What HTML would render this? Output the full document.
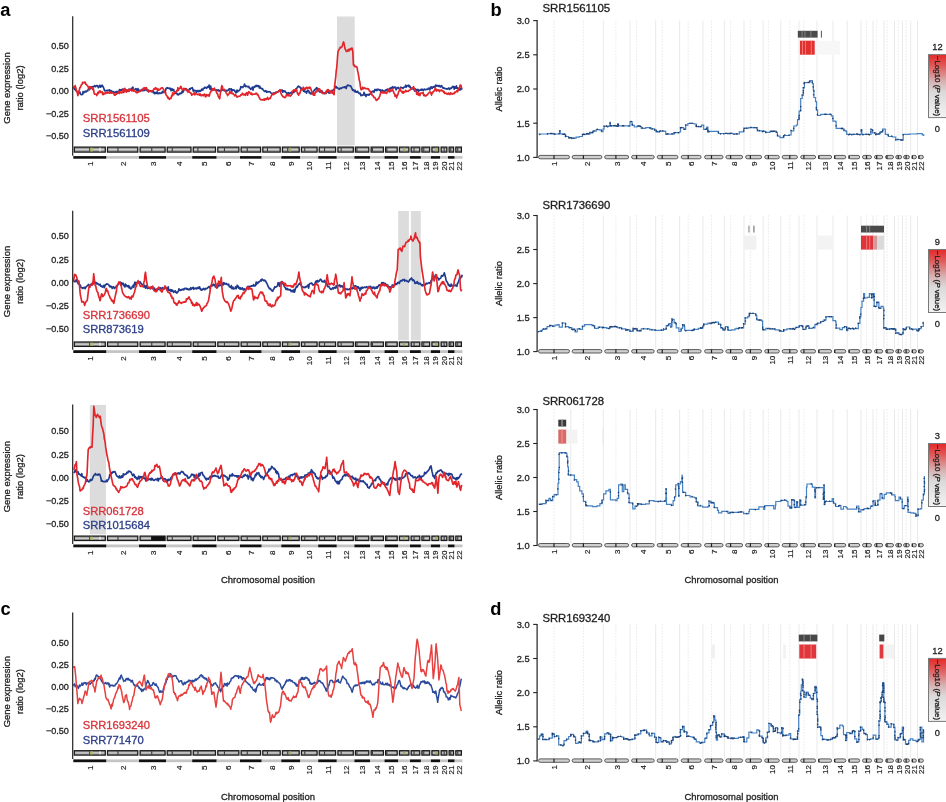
<!DOCTYPE html>
<html><head><meta charset="utf-8"><title>Figure</title><style>html,body{margin:0;padding:0;background:#fff;}body{width:946px;height:802px;overflow:hidden;}svg{display:block;font-family:"Liberation Sans",sans-serif;filter:blur(0.35px);}</style></head><body>
<svg width="946" height="802" viewBox="0 0 946 802" font-family="Liberation Sans, sans-serif">
<defs><linearGradient id="cbar" x1="0" y1="0" x2="0" y2="1"><stop offset="0" stop-color="#e42828"/><stop offset="0.18" stop-color="#e05a5a"/><stop offset="0.42" stop-color="#d7b0b0"/><stop offset="0.6" stop-color="#dadada"/><stop offset="1" stop-color="#f3f3f3"/></linearGradient></defs>
<rect width="946" height="802" fill="#fff"/>
<rect x="337" y="16.5" width="17.7" height="128.9" fill="#dcdcdc"/>
<text x="68.9" y="49.4" text-anchor="end" font-size="9.1" fill="#1f1f1f" stroke="#1f1f1f" stroke-width="0.3">0.50</text>
<text x="68.9" y="71.9" text-anchor="end" font-size="9.1" fill="#1f1f1f" stroke="#1f1f1f" stroke-width="0.3">0.25</text>
<text x="68.9" y="94.4" text-anchor="end" font-size="9.1" fill="#1f1f1f" stroke="#1f1f1f" stroke-width="0.3">0.00</text>
<text x="68.9" y="116.9" text-anchor="end" font-size="9.1" fill="#1f1f1f" stroke="#1f1f1f" stroke-width="0.3">−0.25</text>
<text x="68.9" y="139.4" text-anchor="end" font-size="9.1" fill="#1f1f1f" stroke="#1f1f1f" stroke-width="0.3">−0.50</text>
<text transform="translate(10.1,88) rotate(-90)" text-anchor="middle" font-size="9.45" fill="#1f1f1f" stroke="#1f1f1f" stroke-width="0.3">Gene expression</text>
<text transform="translate(22.6,88) rotate(-90)" text-anchor="middle" font-size="9.45" fill="#1f1f1f" stroke="#1f1f1f" stroke-width="0.3">ratio (log2)</text>
<path d="M73.6,87.7 74.1,88.2 74.6,89.3 75.2,88 75.7,90.1 76.2,90.9 76.7,91.6 77.3,91.9 77.8,92.5 78.4,92.9 78.9,93 79.4,92.7 79.9,92 80.5,94.2 81,94.5 81.5,94.6 82,94.5 82.6,94.5 83.1,91.5 83.7,92.8 84.2,92.4 84.7,92.3 85.2,91.2 85.8,91.7 86.3,91.8 86.8,90.9 87.3,90.9 87.8,90.8 88.3,89.1 88.9,88.3 89.4,87.7 89.9,86.7 90.5,88.7 91,88 91.5,87.5 92,86.6 92.6,87.3 93.1,86.6 93.6,86.5 94.2,86.1 94.7,85.6 95.2,86.7 95.8,86.4 96.3,85.8 96.8,85.6 97.4,85.5 97.9,86.6 98.4,87.8 99,86 99.5,86.5 100,85.2 100.6,87.2 101.1,85.8 101.6,86.5 102.2,85.2 102.7,86.1 103.2,87 103.8,88.2 104.3,90 104.8,90.9 105.3,90.7 105.8,90.6 106.3,90.5 106.9,90.9 107.4,90.3 107.9,90.3 108.4,90.7 109,90 109.5,89.8 110.1,91.8 110.6,90.7 111.1,90.5 111.7,91.7 112.2,91.4 112.7,92.3 113.2,91.7 113.8,92.7 114.3,92.7 114.8,92.2 115.4,92.4 115.9,91.7 116.4,93 116.9,91.4 117.5,92.8 118,92.3 118.5,91.3 119,91.3 119.5,89.6 120.1,90.3 120.6,89.8 121.1,90.4 121.7,89.6 122.2,89.8 122.7,89.2 123.3,90.3 123.8,89.8 124.3,89.3 124.9,90.3 125.4,91.2 125.9,89.7 126.5,90 127,90.9 127.5,90.8 128.1,91.2 128.6,89.3 129.1,90.2 129.6,89.6 130.2,89.9 130.7,90 131.2,88.4 131.7,89.5 132.2,89.2 132.8,87 133.3,88.7 133.8,91 134.4,89.8 134.9,89.6 135.4,89.3 135.9,88.6 136.4,88.9 137,90.7 137.5,89.8 138,88.6 138.6,90.9 139.1,90.3 139.7,90.3 140.2,90.9 140.7,91.2 141.3,89.7 141.8,90.3 142.3,89.3 142.9,90.8 143.4,89.8 143.9,90.2 144.4,90.5 144.9,89.5 145.5,89.6 146,89.8 146.5,90.5 147.1,89.7 147.6,90.8 148.1,90 148.6,91.6 149.1,90.5 149.7,90.8 150.2,90.9 150.7,90.8 151.3,91.6 151.8,91.8 152.3,90.8 152.8,91 153.4,92.6 153.9,91.9 154.4,93.6 155,92.9 155.5,93.5 156,92.4 156.6,93.3 157.1,91.8 157.6,93.5 158.2,93.7 158.7,93 159.2,93.3 159.7,92.8 160.3,93.5 160.8,93 161.3,93.1 161.9,93.1 162.4,91.3 162.9,92.4 163.5,92.2 164,92.4 164.5,91.7 165.1,91.9 165.6,90.5 166.1,88.2 166.7,88.1 167.2,87.6 167.8,88.1 168.3,88.2 168.9,88.1 169.4,88.8 170,88.2 170.5,88.6 171.1,90.7 171.6,90 172.1,88.7 172.7,90.3 173.2,90.3 173.7,89.5 174.2,91.9 174.8,92.5 175.3,93.3 175.8,92.7 176.3,93 176.8,93.3 177.4,94.7 177.9,94.2 178.4,94.8 179,94.5 179.5,94 180,93.2 180.6,93.6 181.1,93.2 181.6,93.3 182.2,90.9 182.7,92.4 183.2,91.7 183.8,90.1 184.3,89.5 184.8,88.7 185.3,88.8 185.9,88.5 186.4,89.1 186.9,89.6 187.5,91 188,90.3 188.5,90.7 189,89.9 189.6,88.7 190.1,89.5 190.6,88.5 191.1,88.2 191.6,88.2 192.2,87.6 192.7,88.6 193.2,91.1 193.8,90.2 194.3,90.9 194.8,90.4 195.4,90.5 195.9,91 196.4,92.6 197,90.5 197.5,90.9 198,91.4 198.6,91.7 199.1,90.4 199.6,91.4 200.2,91.4 200.7,90.3 201.2,90.6 201.7,89.2 202.2,89.6 202.8,90.1 203.3,88.2 203.8,88.2 204.3,88.3 204.9,87.2 205.4,87.4 205.9,87.9 206.5,88.3 207,87.7 207.5,86.7 208,87.3 208.6,86.7 209.1,85.1 209.6,87.2 210.1,89.4 210.7,86 211.2,89.3 211.8,89.2 212.3,89.8 212.8,89.9 213.4,89.1 213.9,90 214.4,90 214.9,89.6 215.4,90.1 216,89.8 216.5,90.3 217,89.8 217.6,90.5 218.1,90.7 218.6,89.8 219.2,91.1 219.7,90.9 220.2,91.2 220.8,90.7 221.3,90.6 221.8,90.1 222.3,89.6 222.8,89.7 223.4,90.3 223.9,90.3 224.4,90.7 225,90.2 225.5,91.3 226,90.8 226.6,90.3 227.1,90.9 227.6,90.5 228.1,90 228.7,90.1 229.2,88.7 229.7,89.2 230.3,89 230.8,90 231.3,88.8 231.9,91.3 232.4,89.8 232.9,90.1 233.4,90.2 233.9,89.9 234.5,90.6 235,91.6 235.5,91.4 236,93 236.6,91.1 237.1,90.1 237.6,91.9 238.2,91 238.7,90.9 239.2,90.3 239.8,89.8 240.3,89.1 240.8,86.6 241.3,86.7 241.9,87.4 242.4,87.1 242.9,87.5 243.5,86.2 244,86.1 244.5,84 245.1,85.8 245.6,86.6 246.1,86 246.7,86 247.2,86.6 247.7,86.8 248.2,87 248.8,86.4 249.3,88 249.8,87.8 250.3,88.7 250.8,89.5 251.4,88.3 251.9,88.5 252.4,87.1 253,90.1 253.5,87.6 254.1,86.9 254.6,87.2 255.1,86.1 255.6,86.7 256.1,85.3 256.7,85.9 257.2,86.4 257.7,85.6 258.2,85.6 258.8,86 259.3,88 259.8,86.3 260.4,88.3 260.9,88.2 261.4,88.3 261.9,89 262.5,88.7 263,89.7 263.5,90.3 264.1,91 264.6,91.5 265.1,91.4 265.7,90.6 266.3,91.3 266.8,92.3 267.4,91.5 268,91.9 268.5,91.7 269.1,91.6 269.6,91.7 270.1,91.8 270.6,92.8 271.1,93 271.7,93.2 272.2,93.5 272.7,94.3 273.3,93 273.8,93.1 274.4,93.4 274.9,92.8 275.4,92.8 276,92.1 276.5,92.4 277,92.4 277.6,91.9 278.1,91.8 278.6,91.2 279.1,90.7 279.6,90.4 280.2,90.5 280.7,90.3 281.2,90.6 281.8,90 282.3,90.1 282.8,92.2 283.3,90.8 283.8,91.4 284.4,91.2 284.9,90.9 285.4,92.1 285.9,92.3 286.5,93 287,93.5 287.5,94.5 288.1,92.6 288.6,93.8 289.1,93 289.7,93.2 290.2,93 290.8,92.6 291.3,93 291.8,94.3 292.3,91.3 292.9,92.9 293.4,91.1 293.9,92.4 294.4,91.4 294.9,91.6 295.5,90.6 296,88.9 296.5,88.9 297.1,87.8 297.6,87.1 298.2,86.2 298.7,86.1 299.2,87 299.7,86.9 300.2,87.4 300.8,88.8 301.3,89.3 301.8,88.2 302.3,88.7 302.9,88.6 303.4,91.2 303.9,91.2 304.5,90.2 305,91.9 305.5,92 306.1,91.7 306.6,93.1 307.1,91.4 307.7,90.2 308.2,90.9 308.7,90.7 309.2,92.8 309.8,92.5 310.3,93.7 310.8,93.2 311.3,94 311.8,93.4 312.4,92.8 312.9,92.6 313.4,91.4 314,90.8 314.5,89.8 315,89.4 315.6,89.6 316.1,88.3 316.6,87.7 317.1,88 317.6,89.3 318.2,90.6 318.7,90.9 319.2,91.2 319.8,92 320.3,92.1 320.9,92.1 321.4,92 321.9,90.7 322.5,93.3 323,93 323.5,93 324.1,93.6 324.6,92.9 325.1,93.2 325.6,92.7 326.1,93.6 326.7,91.1 327.2,91.9 327.7,92.1 328.2,92.1 328.8,92.9 329.3,91.3 329.8,93.1 330.3,91.3 330.9,92 331.4,91.4 331.9,91.3 332.5,90.8 333,90.3 333.5,89.5 334.1,89.7 334.6,88.7 335.1,87 335.7,86.4 336.2,86.6 336.8,87.9 337.4,87.7 337.9,88.2 338.4,88.6 339,89 339.5,89.1 340,88 340.5,88.5 341,88.3 341.6,88.3 342.1,87.7 342.6,87.3 343.1,87.5 343.6,87.3 344.1,87.5 344.6,86.9 345.1,87.4 345.7,86.7 346.2,88.5 346.7,86.4 347.2,85.9 347.7,85 348.2,85.5 348.8,85.4 349.3,85.8 349.8,85.7 350.3,85.7 350.9,86.3 351.4,87.7 352,88.7 352.6,90.3 353.1,89.6 353.7,90.7 354.2,90.4 354.7,91.7 355.2,90.3 355.7,91.5 356.2,92.3 356.7,91.9 357.2,92.1 357.7,91.3 358.2,92.4 358.8,93.2 359.3,93.6 359.9,93.2 360.4,93.5 360.9,95.6 361.5,95.2 362,95.5 362.5,95.3 363,95.1 363.5,94.9 364,92.3 364.5,94.1 365,95.2 365.5,94.7 366,96.5 366.5,94.6 367,95 367.5,95 368.1,94.4 368.6,95 369.1,95.2 369.7,94.2 370.2,93.5 370.7,93.7 371.3,92.6 371.8,91.6 372.4,91.6 372.9,91.1 373.4,91.2 374,92.4 374.5,90.3 375,89.4 375.6,90.3 376.1,89.9 376.6,90.6 377.1,89.2 377.6,90 378.2,89.3 378.7,89.3 379.2,89.8 379.8,90.4 380.3,89.9 380.8,91.7 381.3,90.3 381.8,90.8 382.4,90 382.9,91.4 383.4,90.8 383.9,91.9 384.5,92.3 385,90.7 385.5,90 386.1,90.4 386.6,89.6 387.1,90.3 387.6,89.1 388.2,89.5 388.7,89.6 389.2,89.1 389.8,91.9 390.3,87.9 390.9,88 391.4,88.2 391.9,88.1 392.4,86.7 393,87.7 393.5,88.1 394,87 394.6,87 395.1,87.6 395.6,87.2 396.1,89.8 396.7,88.8 397.2,87.8 397.7,87.9 398.2,87.4 398.8,88.3 399.3,88.7 399.8,88.7 400.3,88.1 400.9,87.1 401.4,87.5 402,87.7 402.5,87.7 403,88.5 403.6,87.5 404.1,87.2 404.6,87 405.2,86.9 405.7,85.2 406.2,87.1 406.7,86.1 407.2,85.7 407.8,85.5 408.3,86.1 408.8,85.2 409.4,87 409.9,86.1 410.4,87.8 410.9,87.9 411.4,88.9 412,88.5 412.5,88.7 413,89 413.6,87.7 414.1,89.6 414.6,91 415.1,89.8 415.6,88.9 416.2,89.9 416.7,90.3 417.2,90 417.8,89.4 418.3,91.5 418.9,90.1 419.4,90.6 419.9,90.1 420.5,90.2 421,89.3 421.5,90.2 422.1,89.2 422.6,89.9 423.1,90.6 423.6,89.9 424.1,89.1 424.7,89.3 425.2,89.8 425.7,89.7 426.2,89.4 426.8,89.2 427.3,89.3 427.8,89.5 428.3,88.2 428.9,88.3 429.4,88.7 429.9,89.9 430.5,87 431,88 431.5,86.9 432.1,88.4 432.6,87 433.2,87.3 433.7,86.6 434.2,87.2 434.8,86.9 435.3,85.8 435.8,85 436.3,85.4 436.8,86.2 437.4,85.8 437.9,85.6 438.4,85.6 438.9,86.5 439.5,85.5 440,86.2 440.5,87 441.1,86.4 441.6,85.5 442.1,86.6 442.6,87.6 443.2,88.2 443.7,87.7 444.2,88.3 444.7,88.4 445.2,88.7 445.8,88.6 446.3,88.7 446.8,89.2 447.4,88.8 447.9,88.8 448.5,88.1 449,88.3 449.5,89.4 450.1,88.1 450.6,88.2 451.1,88.5 451.6,88.1 452.1,87.3 452.7,86.4 453.2,87.2 453.7,86.6 454.2,89.2 454.8,86.7 455.3,87.6 455.8,88.2 456.4,85.9 456.9,88.2 457.4,87.6 458,89 458.5,89 459,90.2 459.5,88.9 460.1,88.3 460.6,89.8 461.1,88.7 461.7,88.9 462.2,88.2" fill="none" stroke="#1f3a8e" stroke-width="1.65" stroke-linejoin="round"/>
<path d="M73.6,88.7 74.1,86.7 74.7,87.2 75.2,85.6 75.7,87.4 76.3,89.8 76.8,90.9 77.3,92.4 77.8,95.6 78.3,94.2 78.9,91.1 79.4,89.8 79.9,87.5 80.5,87.3 81,85.8 81.5,84.5 82,84.5 82.6,82.3 83.1,82.8 83.6,82.9 84.2,82.1 84.7,82.6 85.2,82.2 85.7,84.2 86.3,84.3 86.8,85 87.3,85.6 87.8,86 88.4,87.5 88.9,87.7 89.4,89.9 90,86.9 90.5,86.9 91.1,87.3 91.6,87.5 92.1,88.2 92.6,89.3 93.1,87.7 93.7,90.5 94.2,93.5 94.7,94.1 95.2,94.2 95.8,94.1 96.3,94.4 96.8,95.6 97.3,93.9 97.9,92.4 98.5,93.6 99,91.4 99.5,91.6 100,90.8 100.6,92.4 101.1,92.4 101.6,92.2 102.2,91.8 102.7,94.5 103.2,94.6 103.7,93 104.2,93.4 104.8,94 105.3,93.1 105.8,92.4 106.3,92.3 106.9,93.3 107.4,93.1 107.9,92.2 108.5,92.8 109,93 109.5,93.1 110.1,93.2 110.6,91.9 111.1,92.4 111.7,93.1 112.2,93 112.7,92.9 113.2,92.9 113.8,93.4 114.3,95.1 114.8,94.3 115.3,95.1 115.8,94.2 116.4,94.2 116.9,93.6 117.4,93 118,93.2 118.5,92.4 119,91.8 119.6,93.4 120.1,92.1 120.6,91.9 121.2,92.3 121.7,93 122.2,92.3 122.7,91.4 123.3,89.1 123.8,92.6 124.3,90.9 124.8,88.4 125.4,91.5 125.9,89.7 126.4,92.2 126.9,90.6 127.5,90.3 128,90.3 128.5,89.6 129.1,91.4 129.6,89.2 130.1,90.1 130.7,89.6 131.2,90.3 131.7,90.8 132.3,90.8 132.8,90 133.3,88.9 133.9,90.7 134.4,90.9 134.9,90.8 135.4,91.7 135.9,92.3 136.5,91.8 137,92.9 137.5,91.9 138,92 138.6,92.1 139.1,91.4 139.7,91.4 140.2,91.4 140.7,90.5 141.3,90.2 141.8,89.8 142.3,89.9 142.8,90 143.4,88 143.9,89.3 144.4,88 144.9,87.7 145.4,88.8 146,87.9 146.5,87.7 147,89.9 147.6,89.7 148.1,90.9 148.6,91.8 149.2,91.3 149.7,90.7 150.2,90.6 150.7,91.5 151.2,91.3 151.8,90.8 152.3,90.9 152.8,90.4 153.4,90.1 153.9,88.9 154.4,88.6 155,89.1 155.5,87.7 156,88.7 156.6,88.3 157.1,89.7 157.6,90.3 158.2,88.9 158.7,90.3 159.2,89.9 159.7,89.6 160.3,89.1 160.8,88.3 161.3,88.2 161.8,87.8 162.4,87.7 162.9,88.5 163.5,89.2 164,90.3 164.5,92.5 165.1,92.6 165.6,92.4 166.1,95.1 166.6,95.5 167.1,96.1 167.7,97.9 168.2,97.2 168.8,98.7 169.3,99.3 170,98.8 170.5,98 171.1,98.4 171.6,95.7 172.1,96.1 172.6,92.9 173.1,94.5 173.7,94.8 174.2,93.5 174.7,92.7 175.3,91.8 175.8,92.2 176.3,91.8 176.9,90.3 177.4,90.9 177.9,87.7 178.4,90.4 179,88.6 179.5,88.7 180,88.4 180.6,86.4 181.1,86.6 181.6,88.4 182.2,89.2 182.7,89.8 183.2,89.8 183.8,88.3 184.3,89.5 184.8,89.1 185.4,89.8 185.9,89.8 186.4,89 186.9,90.9 187.4,89.8 188,92.3 188.5,90.7 189,91.9 189.5,92 190.1,92.6 190.6,93.1 191.1,93.1 191.7,95.2 192.2,94.6 192.7,94.5 193.2,93.7 193.8,93.5 194.3,92.6 194.8,94.9 195.3,93.3 195.9,93.7 196.4,94 196.9,94.1 197.5,94.7 198,94.3 198.6,94.6 199.1,94 199.6,95.2 200.2,93.9 200.7,95.6 201.2,95.9 201.8,94.8 202.3,94.8 202.8,95.1 203.3,95.8 203.8,94.5 204.4,94.1 204.9,94.6 205.4,96.8 205.9,96.7 206.5,94.6 207,95.7 207.5,95.5 208.1,94.6 208.6,95.9 209.1,96.1 209.6,94.9 210.1,92.9 210.7,91.8 211.2,90.9 211.7,90 212.2,90.6 212.8,88.6 213.3,89.3 213.9,89.9 214.4,88.1 214.9,90 215.5,89.8 216,91.2 216.5,92.1 217.1,93.6 217.6,93.7 218.1,96.1 218.6,96.9 219.2,98 219.7,98.8 220.2,94.6 220.7,90.9 221.2,88.7 221.8,85.6 222.4,86.6 222.9,88.7 223.4,90 223.9,90 224.5,89.4 225,90.3 225.5,91.4 226,92.6 226.6,93.7 227.1,94.1 227.6,95.6 228.1,94.5 228.7,94.2 229.2,93.7 229.8,91.2 230.3,91.9 230.8,93.1 231.3,93.4 231.9,92.9 232.4,93.8 232.9,93.3 233.4,94 233.9,94.5 234.5,95.3 235,95.8 235.5,94.7 236.1,95.7 236.6,96.1 237.1,97.2 237.7,96.7 238.2,96.4 238.7,96.4 239.3,96.2 239.8,96.1 240.3,96 240.8,94.9 241.4,95.1 241.9,94.4 242.4,93.2 242.9,94 243.4,94.9 244,94.3 244.5,94.9 245,94.1 245.6,95.3 246.1,93.5 246.6,92.7 247.2,93 247.7,95.2 248.2,92.8 248.8,91.7 249.3,91.9 249.8,92.9 250.4,93.1 250.9,94.2 251.4,93.1 252,94.6 252.5,94.6 253,94.1 253.6,94.2 254.1,94.2 254.6,94.1 255.1,94.2 255.6,93.5 256.2,93.1 256.7,93.5 257.2,94.8 257.8,94.3 258.3,95.3 258.8,96.9 259.3,97.3 259.8,99 260.4,99.3 260.9,99.8 261.4,99.9 261.9,99.6 262.5,99.9 263,99.9 263.5,100.1 264.1,98.9 264.6,100.2 265.1,98.8 265.7,98.8 266.3,99.4 266.8,99.3 267.4,97.4 268,98.8 268.5,99.3 269,98.6 269.6,98.1 270.1,98.6 270.6,97.7 271.1,96.2 271.7,95.2 272.2,94 272.7,94.3 273.3,93.9 273.8,94.6 274.3,93.3 274.9,93.7 275.4,93.5 275.9,93.1 276.4,92.6 277,92.1 277.5,91.9 278,91.9 278.6,91 279.1,91.4 279.6,90.2 280.2,89.8 280.7,92.2 281.2,93.9 281.7,95.1 282.2,95.4 282.8,96.7 283.3,96.6 283.8,97.1 284.4,97.1 284.9,97.7 285.4,97.4 285.9,96.6 286.5,94.6 287,94.6 287.5,95.1 288.1,95.9 288.6,94.5 289.1,94.7 289.6,95.5 290.2,96.2 290.7,95.6 291.2,95.2 291.8,93.5 292.3,91.7 292.9,91.1 293.4,90.3 293.9,89.8 294.4,91 295,90.2 295.5,89 296,89.3 296.5,89.5 297.1,92 297.6,93.8 298.2,93.7 298.7,95.1 299.2,93.3 299.8,93.5 300.3,91.8 300.8,90.3 301.3,89.3 301.8,89.8 302.4,88.8 302.9,89.5 303.4,87.2 303.9,88.7 304.4,89.5 305,88.3 305.5,89.1 306,87.7 306.6,87.3 307.1,88.2 307.6,88.4 308.2,87.4 308.7,87.7 309.2,88.3 309.8,87.2 310.3,87.7 310.8,88.8 311.4,90.5 311.9,92.7 312.4,93.4 313,94.7 313.5,95.1 314,93 314.6,95.2 315.1,93 315.6,92.4 316.1,91.4 316.6,92 317.1,90.4 317.7,90.8 318.2,89.6 318.7,88.7 319.2,89.3 319.8,89 320.3,90.5 320.8,91.4 321.4,92.4 321.9,92.4 322.4,93.3 323,92.2 323.5,93.5 324,93.5 324.6,93.2 325.1,93.5 325.6,93.1 326.1,91.2 326.7,92.6 327.2,90 327.7,89.8 328.2,89.6 328.8,91.2 329.3,90.6 329.9,92.2 330.4,91.9 330.9,92.8 331.4,90.4 332,92.8 332.5,91.7 333,93.5 333.6,94.1 334.1,94.6 334.6,86.2 335.2,81.3 335.7,77.5 336.2,71.2 336.8,67 337.4,58.9 338,51.4 338.6,50.4 339.1,49.4 339.7,48.6 340.2,47.2 340.8,47.7 341.3,47.5 341.9,46.9 342.5,45.3 343,43.4 343.6,41.9 344.1,43.8 344.7,46.9 345.2,49.2 345.8,50 346.3,51.4 346.9,51.4 347.5,51.3 348,49.9 348.6,49.3 349.1,51 349.7,49.7 350.3,48.6 350.9,49.6 351.4,48.2 352,48 352.8,51.4 353.4,64.9 353.9,64.5 354.4,66.4 354.9,66.7 355.4,66.6 355.9,66.2 356.5,67.2 357,67.1 357.6,70.7 358.1,72.9 358.7,76.1 359.3,80.3 359.9,82.3 360.4,86.7 361,89.6 361.6,89.6 362.1,88.5 362.6,87.2 363.2,88.9 363.8,88.1 364.3,87.9 364.8,87.7 365.3,88.6 365.8,88.7 366.3,88.6 366.8,88.9 367.3,88.9 367.8,88.5 368.3,88.7 368.9,89.6 369.4,91 369.9,90.9 370.5,91.8 371.1,94.1 371.7,93.5 372.2,95.3 372.8,95.8 373.4,96.1 373.9,97.4 374.5,97.6 375,97.6 375.5,98.7 376.1,100.3 376.6,100.4 377.1,100.3 377.6,99.1 378.2,98.6 378.7,98.8 379.2,97 379.8,96.1 380.3,94.2 380.8,92.4 381.3,92.4 381.9,92.1 382.4,92.9 382.9,91.5 383.5,92.9 384,93 384.5,93 385,92.2 385.6,93 386.1,92.3 386.6,93.4 387.1,91.9 387.6,91.7 388.2,91.5 388.7,89.3 389.2,90.3 389.8,90.8 390.3,89.8 390.8,90.9 391.4,91 391.9,90.2 392.5,89.2 393,90.9 393.5,91.7 394,93.3 394.6,93.9 395.1,96.2 395.6,96.1 396.1,95.1 396.6,97.8 397.2,95.2 397.7,95.1 398.2,93.5 398.8,91.6 399.3,90.3 399.8,88.7 400.3,88.3 400.9,91.1 401.4,91.1 402,92.1 402.5,93 403,91.3 403.5,93.1 404.1,92 404.6,91.5 405.1,91.8 405.6,90.3 406.1,91.1 406.7,91.7 407.2,91.3 407.8,91.1 408.3,91.4 408.8,90.7 409.4,90.2 409.9,90.2 410.4,89.7 411,89 411.5,88.7 412,87.8 412.6,87.7 413.1,88.1 413.6,86.6 414.1,88.7 414.6,88.6 415.2,90.6 415.7,91.4 416.2,91.3 416.8,94.4 417.3,92.8 417.8,92.5 418.4,95.1 418.9,94 419.4,93.3 419.9,95.6 420.4,93.5 421,93.1 421.5,92.9 422,93 422.5,93.3 423.1,92.4 423.6,95.1 424.1,95.7 424.6,94.8 425.2,95.8 425.7,96.1 426.2,95.7 426.8,94.9 427.3,94.9 427.8,94.3 428.3,93.3 428.9,92.9 429.4,92.4 429.9,91.9 430.5,92.3 431,93.3 431.5,95.1 432.1,92.5 432.6,93 433.1,91.5 433.7,91.6 434.2,90.6 434.7,90 435.3,87.8 435.8,88.7 436.3,91.1 436.8,90.4 437.4,89.9 437.9,90.4 438.4,90 438.9,89.8 439.4,91.6 440,90.3 440.5,90.3 441,90.6 441.6,90 442.1,90.9 442.6,91 443.2,90.9 443.7,92.4 444.2,91.7 444.7,93.4 445.2,93.1 445.8,93 446.3,94 446.8,93.4 447.4,94.1 447.9,94.3 448.4,93.1 449,93.8 449.5,93.5 450,94.6 450.6,92.8 451.1,93.1 451.6,93.5 452.1,94.2 452.6,93.9 453.2,93.4 453.7,93.5 454.2,93.7 454.8,92 455.3,92.4 455.9,91.7 456.4,91.5 456.9,90.5 457.5,91.8 458,90.9 458.5,88.9 459,87.8 459.6,87.3 460.1,85 460.6,85 461.1,85.7 461.7,88.7" fill="none" stroke="#e2252b" stroke-width="1.65" stroke-linejoin="round"/>
<text x="82.7" y="122.3" font-size="10.6" fill="#d8343c" textLength="67.2" lengthAdjust="spacingAndGlyphs" stroke="#d8343c" stroke-width="0.3">SRR1561105</text>
<text x="82.7" y="137.1" font-size="10.6" fill="#2d3f89" textLength="67.2" lengthAdjust="spacingAndGlyphs" stroke="#2d3f89" stroke-width="0.3">SRR1561109</text>
<rect x="74.3" y="147.1" width="31" height="5" fill="#9c9c9c" stroke="#1a1a1a" stroke-width="1.25"/>
<rect x="75.3" y="149" width="29" height="1.2" fill="#d2d2d2"/>
<rect x="89.2" y="147.6" width="1.1" height="4" fill="#3a3a3a"/>
<rect x="90.3" y="147.8" width="2.6" height="3.6" fill="#b5bd6a"/>
<rect x="99.3" y="147.8" width="1.4" height="3.6" fill="#e8e8e8"/>
<rect x="73.3" y="156.1" width="33.2" height="2.6" fill="#111111"/>
<text transform="translate(92.9,161.5) rotate(-90) scale(1.13,1)" text-anchor="end" font-size="7.1" fill="#1f1f1f" stroke="#000" stroke-width="0.15">1</text>
<rect x="107.5" y="147.1" width="30.3" height="5" fill="#9c9c9c" stroke="#1a1a1a" stroke-width="1.25"/>
<rect x="108.5" y="149" width="28.3" height="1.2" fill="#d2d2d2"/>
<rect x="117.4" y="147.6" width="1.1" height="4" fill="#3a3a3a"/>
<rect x="106.5" y="156.1" width="32.5" height="2.6" fill="#c4c4c4"/>
<text transform="translate(125.8,161.5) rotate(-90) scale(1.13,1)" text-anchor="end" font-size="7.1" fill="#1f1f1f" stroke="#000" stroke-width="0.15">2</text>
<rect x="140.1" y="147.1" width="25" height="5" fill="#9c9c9c" stroke="#1a1a1a" stroke-width="1.25"/>
<rect x="141.1" y="149" width="23" height="1.2" fill="#d2d2d2"/>
<rect x="151.2" y="147.6" width="1.1" height="4" fill="#3a3a3a"/>
<rect x="139" y="156.1" width="27.2" height="2.6" fill="#111111"/>
<text transform="translate(155.6,161.5) rotate(-90) scale(1.13,1)" text-anchor="end" font-size="7.1" fill="#1f1f1f" stroke="#000" stroke-width="0.15">3</text>
<rect x="167.2" y="147.1" width="23.8" height="5" fill="#9c9c9c" stroke="#1a1a1a" stroke-width="1.25"/>
<rect x="168.2" y="149" width="21.8" height="1.2" fill="#d2d2d2"/>
<rect x="171.7" y="147.6" width="1.1" height="4" fill="#3a3a3a"/>
<rect x="166.2" y="156.1" width="26" height="2.6" fill="#c4c4c4"/>
<text transform="translate(182.2,161.5) rotate(-90) scale(1.13,1)" text-anchor="end" font-size="7.1" fill="#1f1f1f" stroke="#000" stroke-width="0.15">4</text>
<rect x="193.2" y="147.1" width="22.3" height="5" fill="#9c9c9c" stroke="#1a1a1a" stroke-width="1.25"/>
<rect x="194.2" y="149" width="20.3" height="1.2" fill="#d2d2d2"/>
<rect x="197.4" y="147.6" width="1.1" height="4" fill="#3a3a3a"/>
<rect x="192.2" y="156.1" width="24.5" height="2.6" fill="#111111"/>
<text transform="translate(207.4,161.5) rotate(-90) scale(1.13,1)" text-anchor="end" font-size="7.1" fill="#1f1f1f" stroke="#000" stroke-width="0.15">5</text>
<rect x="217.8" y="147.1" width="21.1" height="5" fill="#9c9c9c" stroke="#1a1a1a" stroke-width="1.25"/>
<rect x="218.8" y="149" width="19.1" height="1.2" fill="#d2d2d2"/>
<rect x="223.9" y="147.6" width="1.1" height="4" fill="#3a3a3a"/>
<rect x="216.7" y="156.1" width="23.3" height="2.6" fill="#c4c4c4"/>
<text transform="translate(231.3,161.5) rotate(-90) scale(1.13,1)" text-anchor="end" font-size="7.1" fill="#1f1f1f" stroke="#000" stroke-width="0.15">6</text>
<rect x="241.1" y="147.1" width="19.5" height="5" fill="#9c9c9c" stroke="#1a1a1a" stroke-width="1.25"/>
<rect x="242.1" y="149" width="17.5" height="1.2" fill="#d2d2d2"/>
<rect x="246.7" y="147.6" width="1.1" height="4" fill="#3a3a3a"/>
<rect x="240" y="156.1" width="21.7" height="2.6" fill="#111111"/>
<text transform="translate(253.8,161.5) rotate(-90) scale(1.13,1)" text-anchor="end" font-size="7.1" fill="#1f1f1f" stroke="#000" stroke-width="0.15">7</text>
<rect x="262.8" y="147.1" width="17.4" height="5" fill="#9c9c9c" stroke="#1a1a1a" stroke-width="1.25"/>
<rect x="263.8" y="149" width="15.4" height="1.2" fill="#d2d2d2"/>
<rect x="266.9" y="147.6" width="1.1" height="4" fill="#3a3a3a"/>
<rect x="261.7" y="156.1" width="19.6" height="2.6" fill="#c4c4c4"/>
<text transform="translate(274.5,161.5) rotate(-90) scale(1.13,1)" text-anchor="end" font-size="7.1" fill="#1f1f1f" stroke="#000" stroke-width="0.15">8</text>
<rect x="282.4" y="147.1" width="16.8" height="5" fill="#9c9c9c" stroke="#1a1a1a" stroke-width="1.25"/>
<rect x="283.4" y="149" width="14.8" height="1.2" fill="#d2d2d2"/>
<rect x="287.2" y="147.6" width="1.1" height="4" fill="#3a3a3a"/>
<rect x="289" y="147.8" width="2.2" height="3.6" fill="#a9b060"/>
<rect x="281.3" y="156.1" width="19" height="2.6" fill="#111111"/>
<text transform="translate(293.8,161.5) rotate(-90) scale(1.13,1)" text-anchor="end" font-size="7.1" fill="#1f1f1f" stroke="#000" stroke-width="0.15">9</text>
<rect x="301.4" y="147.1" width="15.7" height="5" fill="#9c9c9c" stroke="#1a1a1a" stroke-width="1.25"/>
<rect x="302.4" y="149" width="13.7" height="1.2" fill="#d2d2d2"/>
<rect x="304.2" y="147.6" width="1.1" height="4" fill="#3a3a3a"/>
<rect x="300.3" y="156.1" width="17.9" height="2.6" fill="#c4c4c4"/>
<text transform="translate(312.2,161.5) rotate(-90) scale(1.13,1)" text-anchor="end" font-size="7.1" fill="#1f1f1f" stroke="#000" stroke-width="0.15">10</text>
<rect x="319.2" y="147.1" width="16.4" height="5" fill="#9c9c9c" stroke="#1a1a1a" stroke-width="1.25"/>
<rect x="320.2" y="149" width="14.4" height="1.2" fill="#d2d2d2"/>
<rect x="324" y="147.6" width="1.1" height="4" fill="#3a3a3a"/>
<rect x="318.2" y="156.1" width="18.6" height="2.6" fill="#111111"/>
<text transform="translate(330.5,161.5) rotate(-90) scale(1.13,1)" text-anchor="end" font-size="7.1" fill="#1f1f1f" stroke="#000" stroke-width="0.15">11</text>
<rect x="337.9" y="147.1" width="15.4" height="5" fill="#9c9c9c" stroke="#1a1a1a" stroke-width="1.25"/>
<rect x="338.9" y="149" width="13.4" height="1.2" fill="#d2d2d2"/>
<rect x="340.6" y="147.6" width="1.1" height="4" fill="#3a3a3a"/>
<rect x="336.8" y="156.1" width="17.6" height="2.6" fill="#c4c4c4"/>
<text transform="translate(348.6,161.5) rotate(-90) scale(1.13,1)" text-anchor="end" font-size="7.1" fill="#1f1f1f" stroke="#000" stroke-width="0.15">12</text>
<rect x="355.4" y="147.1" width="13.4" height="5" fill="#9c9c9c" stroke="#1a1a1a" stroke-width="1.25"/>
<rect x="356.4" y="149" width="11.4" height="1.2" fill="#d2d2d2"/>
<rect x="356.4" y="147.6" width="1.1" height="4" fill="#3a3a3a"/>
<rect x="354.4" y="156.1" width="15.6" height="2.6" fill="#111111"/>
<text transform="translate(365.2,161.5) rotate(-90) scale(1.13,1)" text-anchor="end" font-size="7.1" fill="#1f1f1f" stroke="#000" stroke-width="0.15">13</text>
<rect x="371.1" y="147.1" width="12.3" height="5" fill="#9c9c9c" stroke="#1a1a1a" stroke-width="1.25"/>
<rect x="372.1" y="149" width="10.3" height="1.2" fill="#d2d2d2"/>
<rect x="371.9" y="147.6" width="1.1" height="4" fill="#3a3a3a"/>
<rect x="370" y="156.1" width="14.5" height="2.6" fill="#c4c4c4"/>
<text transform="translate(380.2,161.5) rotate(-90) scale(1.13,1)" text-anchor="end" font-size="7.1" fill="#1f1f1f" stroke="#000" stroke-width="0.15">14</text>
<rect x="385.6" y="147.1" width="11.6" height="5" fill="#9c9c9c" stroke="#1a1a1a" stroke-width="1.25"/>
<rect x="386.6" y="149" width="9.6" height="1.2" fill="#d2d2d2"/>
<rect x="386.3" y="147.6" width="1.1" height="4" fill="#3a3a3a"/>
<rect x="384.5" y="156.1" width="13.8" height="2.6" fill="#111111"/>
<text transform="translate(394.4,161.5) rotate(-90) scale(1.13,1)" text-anchor="end" font-size="7.1" fill="#1f1f1f" stroke="#000" stroke-width="0.15">15</text>
<rect x="399.4" y="147.1" width="9.5" height="5" fill="#9c9c9c" stroke="#1a1a1a" stroke-width="1.25"/>
<rect x="400.4" y="149" width="7.5" height="1.2" fill="#d2d2d2"/>
<rect x="403.1" y="147.6" width="1.1" height="4" fill="#3a3a3a"/>
<rect x="403.1" y="147.8" width="2.2" height="3.6" fill="#a9b060"/>
<rect x="398.3" y="156.1" width="11.7" height="2.6" fill="#c4c4c4"/>
<text transform="translate(407.1,161.5) rotate(-90) scale(1.13,1)" text-anchor="end" font-size="7.1" fill="#1f1f1f" stroke="#000" stroke-width="0.15">16</text>
<rect x="411.1" y="147.1" width="8.7" height="5" fill="#9c9c9c" stroke="#1a1a1a" stroke-width="1.25"/>
<rect x="412.1" y="149" width="6.7" height="1.2" fill="#d2d2d2"/>
<rect x="413.5" y="147.6" width="1.1" height="4" fill="#3a3a3a"/>
<rect x="410" y="156.1" width="10.9" height="2.6" fill="#111111"/>
<text transform="translate(418.4,161.5) rotate(-90) scale(1.13,1)" text-anchor="end" font-size="7.1" fill="#1f1f1f" stroke="#000" stroke-width="0.15">17</text>
<rect x="421.9" y="147.1" width="7.8" height="5" fill="#9c9c9c" stroke="#1a1a1a" stroke-width="1.25"/>
<rect x="422.9" y="149" width="5.8" height="1.2" fill="#d2d2d2"/>
<rect x="423.2" y="147.6" width="1.1" height="4" fill="#3a3a3a"/>
<rect x="420.9" y="156.1" width="10" height="2.6" fill="#c4c4c4"/>
<text transform="translate(428.9,161.5) rotate(-90) scale(1.13,1)" text-anchor="end" font-size="7.1" fill="#1f1f1f" stroke="#000" stroke-width="0.15">18</text>
<rect x="431.9" y="147.1" width="6.9" height="5" fill="#9c9c9c" stroke="#1a1a1a" stroke-width="1.25"/>
<rect x="432.9" y="149" width="4.9" height="1.2" fill="#d2d2d2"/>
<rect x="435.4" y="147.6" width="1.1" height="4" fill="#3a3a3a"/>
<rect x="435" y="147.8" width="2.6" height="3.6" fill="#a9b060"/>
<rect x="430.9" y="156.1" width="9.1" height="2.6" fill="#111111"/>
<text transform="translate(438.4,161.5) rotate(-90) scale(1.13,1)" text-anchor="end" font-size="7.1" fill="#1f1f1f" stroke="#000" stroke-width="0.15">19</text>
<rect x="441.1" y="147.1" width="5.8" height="5" fill="#9c9c9c" stroke="#1a1a1a" stroke-width="1.25"/>
<rect x="442.1" y="149" width="3.8" height="1.2" fill="#d2d2d2"/>
<rect x="443.6" y="147.6" width="1.1" height="4" fill="#3a3a3a"/>
<rect x="440" y="156.1" width="8" height="2.6" fill="#c4c4c4"/>
<text transform="translate(447,161.5) rotate(-90) scale(1.13,1)" text-anchor="end" font-size="7.1" fill="#1f1f1f" stroke="#000" stroke-width="0.15">20</text>
<rect x="449.1" y="147.1" width="4.5" height="5" fill="#9c9c9c" stroke="#1a1a1a" stroke-width="1.25"/>
<rect x="450.1" y="149" width="2.5" height="1.2" fill="#d2d2d2"/>
<rect x="450.2" y="147.6" width="1.1" height="4" fill="#3a3a3a"/>
<rect x="448" y="156.1" width="6.7" height="2.6" fill="#111111"/>
<text transform="translate(454.4,161.5) rotate(-90) scale(1.13,1)" text-anchor="end" font-size="7.1" fill="#1f1f1f" stroke="#000" stroke-width="0.15">21</text>
<rect x="455.8" y="147.1" width="5.6" height="5" fill="#9c9c9c" stroke="#1a1a1a" stroke-width="1.25"/>
<rect x="456.8" y="149" width="3.6" height="1.2" fill="#d2d2d2"/>
<rect x="457.2" y="147.6" width="1.1" height="4" fill="#3a3a3a"/>
<rect x="454.7" y="156.1" width="7.8" height="2.6" fill="#c4c4c4"/>
<text transform="translate(461.6,161.5) rotate(-90) scale(1.13,1)" text-anchor="end" font-size="7.1" fill="#1f1f1f" stroke="#000" stroke-width="0.15">22</text>
<path d="M72.7,16.2 V155.7" stroke="#222" stroke-width="1.2" fill="none"/>
<rect x="398.2" y="211" width="10.7" height="129.3" fill="#dcdcdc"/>
<rect x="410.9" y="211" width="9.9" height="129.3" fill="#dcdcdc"/>
<text x="68.9" y="239.2" text-anchor="end" font-size="9.1" fill="#1f1f1f" stroke="#1f1f1f" stroke-width="0.3">0.50</text>
<text x="68.9" y="262.5" text-anchor="end" font-size="9.1" fill="#1f1f1f" stroke="#1f1f1f" stroke-width="0.3">0.25</text>
<text x="68.9" y="285.8" text-anchor="end" font-size="9.1" fill="#1f1f1f" stroke="#1f1f1f" stroke-width="0.3">0.00</text>
<text x="68.9" y="309.1" text-anchor="end" font-size="9.1" fill="#1f1f1f" stroke="#1f1f1f" stroke-width="0.3">−0.25</text>
<text x="68.9" y="332.4" text-anchor="end" font-size="9.1" fill="#1f1f1f" stroke="#1f1f1f" stroke-width="0.3">−0.50</text>
<text transform="translate(10.1,281.5) rotate(-90)" text-anchor="middle" font-size="9.45" fill="#1f1f1f" stroke="#1f1f1f" stroke-width="0.3">Gene expression</text>
<text transform="translate(22.6,281.5) rotate(-90)" text-anchor="middle" font-size="9.45" fill="#1f1f1f" stroke="#1f1f1f" stroke-width="0.3">ratio (log2)</text>
<path d="M73.6,282.2 74.1,281.7 74.7,281.1 75.2,281.4 75.7,281.6 76.2,279.7 76.8,281.4 77.3,281.1 77.8,282.9 78.3,283.9 78.9,283.8 79.4,284.9 79.9,285.4 80.4,285.2 81,287.6 81.5,287.8 82.1,287.9 82.6,288.5 83.1,287.6 83.6,287.9 84.2,287.4 84.7,288 85.2,288.7 85.7,287 86.2,286.9 86.8,286.2 87.3,285.8 87.8,285.7 88.4,284.4 88.9,284.8 89.4,285.7 90,286 90.5,285.3 91,284 91.6,284.8 92.1,284.8 92.6,282.3 93.2,283.8 93.7,283.5 94.2,282.4 94.8,282 95.3,282.2 95.8,283.5 96.3,282.6 96.9,283.9 97.4,283.3 97.9,283.7 98.5,284.5 99,284.9 99.5,284.8 100,284.2 100.6,286.1 101.1,285.7 101.6,286.3 102.2,287.1 102.7,287 103.2,285.9 103.8,285.4 104.3,287.7 104.8,286.2 105.3,284.7 105.9,284.4 106.4,284.4 106.9,283.8 107.4,284 108,284.2 108.5,284.7 109,285.3 109.6,286.7 110.1,285.9 110.6,286.8 111.1,286.4 111.7,286.9 112.2,288.5 112.7,287.2 113.2,286.9 113.8,286.8 114.3,288.5 114.8,288 115.4,287.7 115.9,287.3 116.4,285.9 117,286.3 117.5,285.4 118,284.6 118.5,284.1 119,282.9 119.6,282.8 120.1,283.3 120.6,282.2 121.1,284.1 121.7,282.8 122.2,284.4 122.7,284.1 123.3,283.4 123.8,285.4 124.3,286.2 124.9,287 125.4,284.1 125.9,285.7 126.5,285.2 127,286.4 127.5,285.9 128.1,286.8 128.6,285.5 129.1,287.9 129.6,286.5 130.1,288.3 130.7,289 131.2,288.5 131.7,288.2 132.2,286.8 132.8,285.9 133.3,285.1 133.8,287.4 134.3,284.4 134.9,282.2 135.4,282.7 135.9,285.2 136.5,282.8 137,282.5 137.6,282.3 138.1,282.6 138.6,282.4 139.2,282 139.7,282.2 140.2,281.9 140.8,283.2 141.3,283.5 141.8,284.2 142.3,284.9 142.8,284.7 143.4,286.7 143.9,287 144.4,285.3 144.9,285.6 145.5,288.1 146,287.9 146.5,285.6 147.1,285.9 147.6,288.5 148.1,287.5 148.6,288.2 149.2,288.2 149.7,287.6 150.2,288.6 150.7,288.7 151.2,286.9 151.8,287.3 152.3,288 152.8,289 153.4,288.7 153.9,290 154.4,288 155,290.1 155.5,289.6 156.1,290.2 156.6,289.6 157.1,290.3 157.7,288.9 158.2,288.9 158.7,289.5 159.2,288.7 159.8,287.5 160.3,288.4 160.8,288 161.3,288.8 161.9,288.4 162.4,287.6 162.9,287.9 163.4,288.6 163.9,288.5 164.5,288.8 165,288 165.5,287.1 166.1,287.9 166.6,288.1 167.2,289.9 167.7,290.7 168.2,286.8 168.8,290.1 169.3,290.1 169.9,290.1 170.4,289.7 171,291.4 171.5,289.9 172.1,291.3 172.6,290.2 173.2,291.1 173.7,292.5 174.2,291.4 174.8,291.5 175.3,290.9 175.8,292.5 176.3,292.1 176.8,293.1 177.4,292.6 177.9,291.8 178.4,291.1 179,288.8 179.5,289.9 180.1,290.5 180.6,290 181.1,289.7 181.7,290.1 182.2,289.3 182.7,289.7 183.2,289 183.8,289.9 184.3,288.9 184.8,288.4 185.3,288.4 185.9,288.7 186.4,288.3 186.9,289.3 187.4,288.7 187.9,289.5 188.5,289.6 189,289 189.5,289.7 190.1,289.4 190.6,287.9 191.1,289.3 191.7,288 192.2,287.9 192.7,288.5 193.2,287.3 193.8,289.3 194.3,288.7 194.8,288.3 195.3,288.1 195.9,288.2 196.4,289 196.9,288.2 197.4,287.7 198,288.5 198.5,287.4 199,288.1 199.6,286.8 200.1,289 200.6,288.7 201.2,290.2 201.7,289.5 202.2,289.9 202.8,289.3 203.3,288.6 203.8,288.4 204.3,289.5 204.8,289.7 205.4,289 205.9,288.4 206.4,288.6 207,288.7 207.5,287.8 208.1,287.5 208.6,286.9 209.1,286.5 209.7,288 210.2,287.4 210.7,286.3 211.2,285.9 211.8,286.2 212.3,285 212.8,285.7 213.3,284.2 213.8,284.4 214.4,285.4 214.9,284.7 215.4,287 216,286.9 216.5,287.4 217,287.8 217.6,287.3 218.1,285.3 218.6,284.9 219.2,285.7 219.7,285.8 220.2,284.6 220.8,285.2 221.3,285.6 221.8,285.2 222.4,284.5 222.9,283.1 223.4,284.9 223.9,282.6 224.5,283.9 225,283.9 225.5,283.5 226.1,284.4 226.6,283.4 227.1,284.2 227.6,284.8 228.2,284.9 228.7,284.2 229.2,286.7 229.8,287 230.3,286.8 230.8,287.7 231.3,285.6 231.9,288.7 232.4,288 232.9,287 233.4,289 233.9,288.6 234.5,288.6 235,288.3 235.6,286.8 236.1,288.7 236.6,287.9 237.2,285.2 237.7,286.8 238.2,286.1 238.8,288.2 239.3,287.7 239.8,288.8 240.3,287.8 240.8,289.2 241.4,288.9 241.9,288.4 242.4,287.9 243,289.6 243.5,290 244,288.8 244.6,289.2 245.1,290 245.6,289.9 246.1,289.2 246.6,288.7 247.2,287.3 247.7,286.5 248.2,286.8 248.7,286.3 249.3,287.2 249.8,286.4 250.3,286.2 250.9,286.3 251.4,285.9 252,286.1 252.5,285.8 253,286 253.6,284.5 254.1,285.8 254.6,285.6 255.1,286 255.6,285.5 256.2,282 256.7,284.2 257.2,283.2 257.8,282.3 258.3,282.8 258.8,281.8 259.4,281.8 259.9,281 260.4,281 260.9,279.8 261.4,281 262,279.1 262.5,279.8 263,280 263.5,280.1 264.1,280.9 264.6,280.2 265.2,280.7 265.7,281 266.2,282.4 266.7,283 267.3,284.3 267.8,285.7 268.3,286.8 268.9,287.6 269.4,288.8 270,288.5 270.5,288.6 271.1,290 271.6,290.2 272.2,291.1 272.7,291.2 273.3,289.6 273.8,289.3 274.3,287.9 274.9,286.7 275.4,287.4 275.9,287.1 276.5,286.8 277,286.2 277.5,285.9 278.1,282.6 278.6,284.7 279.1,283.3 279.6,286.4 280.1,282.6 280.7,282.7 281.2,282.7 281.7,281.6 282.2,281.5 282.8,283.6 283.3,284.2 283.9,285.7 284.4,286.6 284.9,287.3 285.5,287.9 286,289.5 286.5,289.3 287.1,288.4 287.6,289.6 288.1,289.5 288.6,289.3 289.1,290 289.7,289.8 290.2,289.5 290.7,290.3 291.2,291.6 291.8,291.3 292.3,290.4 292.8,291.4 293.3,292 293.9,289.6 294.4,292.1 294.9,290.9 295.4,288.4 296,287.8 296.5,286.3 297,287.1 297.6,285.9 298.1,285.2 298.6,284.3 299.2,284.1 299.7,283.1 300.2,284.3 300.8,283.4 301.3,285.6 301.8,286.2 302.4,286.6 302.9,287.4 303.4,287.5 303.9,287.2 304.5,287.3 305,287.7 305.5,286.6 306.1,286.8 306.6,287 307.1,285.8 307.6,286.4 308.2,284.7 308.7,288.2 309.2,284.5 309.7,283.8 310.2,283.4 310.8,283.5 311.3,283.1 311.8,283 312.4,284.4 312.9,285.1 313.4,284.7 314,284.9 314.5,284.2 315,283.5 315.6,281.7 316.1,281.2 316.6,282.2 317.2,280.6 317.7,280.5 318.2,281.9 318.8,281.4 319.3,281.1 319.8,280 320.4,279.2 320.9,279.4 321.4,280.1 321.9,281.5 322.5,281.3 323,282.1 323.5,281.4 324,281.3 324.6,280.4 325.1,282.5 325.6,281.6 326.1,283 326.7,282.4 327.2,285.4 327.8,286.7 328.3,286.3 328.8,286.4 329.3,287.3 329.9,288.3 330.4,289 330.9,289.4 331.4,289.5 331.9,288.9 332.5,288.1 333,287.7 333.5,288.8 334.1,288 334.6,287.4 335.1,287.5 335.7,288.2 336.2,285.7 336.7,287.4 337.2,285.6 337.8,285.7 338.3,285.9 338.8,285.8 339.3,284.9 339.9,285.4 340.4,286.9 340.9,285.7 341.5,286.5 342,285.8 342.5,287.1 343.1,286.1 343.6,287.1 344.1,287.3 344.6,289.1 345.1,288.7 345.7,288.8 346.2,289.5 346.7,289.3 347.3,289.1 347.8,289.6 348.4,289.4 348.9,289.3 349.4,289.4 350,288.5 350.5,288.4 351,288.1 351.6,288.3 352.1,288.8 352.6,287.5 353.1,287.6 353.6,288.3 354.2,287.3 354.7,285.8 355.2,285.8 355.8,285.9 356.3,286.6 356.8,286.6 357.3,288 357.8,286.7 358.4,286.7 358.9,288.4 359.4,288.2 359.9,290.7 360.5,288.7 361,287.5 361.5,288.9 362.1,287.1 362.6,288.1 363.1,287.9 363.7,287.5 364.3,287.1 364.8,287.3 365.4,287.6 366,287.4 366.5,286.6 367.1,287.2 367.6,287.7 368.1,287.2 368.6,287.4 369.1,286.4 369.7,286.7 370.2,286.8 370.7,286.3 371.3,289.1 371.8,287.8 372.3,287.4 372.9,288.1 373.4,287.8 373.9,286.9 374.4,288.5 375,288.6 375.5,288.4 376,287.3 376.6,286.9 377.1,288.2 377.6,286.5 378.1,286.7 378.6,285.5 379.2,284.9 379.7,285.3 380.2,284.8 380.8,285 381.3,284.6 381.8,282.5 382.4,283.4 382.9,283.1 383.4,282.7 383.9,284.3 384.5,284.4 385,283.2 385.5,284.8 386.1,284.3 386.6,285.4 387.1,285.8 387.6,284.8 388.2,286.9 388.7,287.2 389.2,286.6 389.8,287 390.3,286.9 390.9,287.7 391.4,287.4 391.9,286.1 392.4,284.9 393,285.9 393.5,285.3 394,286 394.6,284.6 395.1,284.8 395.6,283.7 396.1,283.8 396.7,284.5 397.2,283.4 397.7,282.5 398.2,282.3 398.8,282.7 399.3,283.4 399.8,282.1 400.3,281 400.9,280.7 401.4,280.9 402,280.9 402.5,279.8 403,279.7 403.6,279.9 404.1,279.4 404.6,281.1 405.2,280.6 405.7,280.3 406.2,280.4 406.7,281.1 407.2,281.2 407.8,281.1 408.3,282.1 408.8,281 409.4,281 409.9,279.3 410.4,279.2 411,278.8 411.5,277.9 412,279.1 412.5,280.4 413.1,279.8 413.6,280.5 414.1,280.4 414.6,282.1 415.1,283.5 415.7,282.5 416.2,282.4 416.8,283.2 417.3,281.5 417.8,282.8 418.4,284 418.9,283.1 419.4,283.6 419.9,284 420.5,283.4 421,284.7 421.5,284.8 422.1,286 422.6,284.8 423.1,285.3 423.6,284.6 424.2,285.3 424.7,284.9 425.2,285 425.7,284.5 426.2,283.1 426.8,283.6 427.3,283.7 427.8,283.5 428.4,282.9 428.9,282.7 429.4,283.3 429.9,282.6 430.4,282.8 431,280.7 431.5,281 432,279.1 432.6,277.6 433.1,278.4 433.6,278.1 434.2,277.3 434.7,277 435.3,275.3 435.8,274.7 436.3,274.9 436.8,277.2 437.4,277.6 437.9,278.1 438.4,278.6 438.9,280 439.4,278.9 440,278.6 440.5,278.3 441,277.3 441.6,275.5 442.1,275.7 442.6,276.2 443.2,275.3 443.7,274.9 444.3,272.8 444.8,274.7 445.3,276.6 445.8,278.9 446.3,281 446.8,281.6 447.4,282.4 447.9,283.5 448.4,285.3 449,284.7 449.5,285.8 450,286.3 450.6,286.4 451.1,284.1 451.6,285.7 452.1,285.9 452.6,285.9 453.2,285 453.7,285.8 454.2,285.5 454.8,285.7 455.3,285.1 455.8,285.7 456.4,285.5 456.9,286.3 457.4,283.5 457.9,283.1 458.5,281.5 459,280 459.5,278.1 460.1,278.9 460.6,277.8 461.1,276.6 461.7,276.9 462.2,274.7" fill="none" stroke="#1f3a8e" stroke-width="1.65" stroke-linejoin="round"/>
<path d="M73.6,281.1 74.1,277.6 74.6,274.3 75.1,275.4 75.7,274.8 76.2,275.9 76.8,277.5 77.3,279.6 77.8,281.1 78.4,280.9 78.9,281.1 79.4,284.5 79.9,290.7 80.4,295.3 81,297.6 81.5,300.7 82,302.1 82.5,301.5 83.1,301.6 83.6,301.8 84.1,303.3 84.7,305.4 85.2,303.3 85.7,302.4 86.2,301.3 86.8,300.8 87.3,300.2 87.8,296.2 88.4,290.9 88.9,287.5 89.4,285.5 90,287.2 90.5,285.4 91,285.2 91.5,285 92.1,285 92.6,284.8 93.2,279.8 93.7,273.7 94.2,277.9 94.7,282.7 95.2,285.6 95.8,286 96.3,289 96.8,290.7 97.3,291.9 97.9,292.4 98.4,295.3 98.9,296.9 99.5,298.4 100,300.7 100.5,299.3 101.1,295.6 101.6,293.8 102.1,294.3 102.7,296.6 103.2,296.2 103.7,295.4 104.2,295.1 104.8,293.4 105.3,292.6 105.9,289 106.4,288.5 106.9,291.2 107.5,290.6 108,291.8 108.5,293.8 109,295 109.5,296.1 110.1,297.9 110.6,298.5 111.1,299.1 111.6,300.7 112.2,301.2 112.7,300.3 113.3,302.4 113.8,303.3 114.3,301.2 114.8,298.1 115.3,295.9 115.8,293.7 116.4,291.3 116.9,286.4 117.4,284.7 118,284.2 118.5,282.9 119,281.7 119.5,282.3 120.1,283.1 120.7,285.3 121.2,285.4 121.7,288.8 122.2,290.9 122.7,292.8 123.2,293.6 123.8,294.6 124.4,295.6 124.9,295.9 125.4,296.4 126,297 126.5,296.9 127,297 127.5,297.7 128.1,297 128.6,296.6 129.1,297.5 129.6,298.7 130.1,297.6 130.7,297.6 131.2,299.1 131.7,296.3 132.2,296 132.8,297 133.3,295.9 133.8,293.7 134.4,292.5 134.9,290.4 135.4,288.5 135.9,286.8 136.5,286.1 137,283 137.6,281.9 138.1,280.6 138.6,283.2 139.1,282.6 139.7,284.8 140.2,285.9 140.7,286.5 141.2,286 141.8,286.4 142.3,286.5 142.8,286.4 143.3,285.4 143.9,282.4 144.4,280.6 144.9,275 145.5,272.2 146,276.5 146.5,281.1 147,283.5 147.6,286.5 148.1,287.5 148.6,287.2 149.2,287.4 149.7,287.5 150.2,288.7 150.7,288.2 151.2,286.9 151.8,287.9 152.3,288 152.8,286.1 153.4,288.4 153.9,290.3 154.4,290.9 155,291 155.5,291.7 156,291.1 156.6,291.6 157.1,288.5 157.6,288.6 158.2,288 158.7,287 159.2,288.3 159.8,289.8 160.3,290.1 160.8,291 161.4,289.7 161.9,292.2 162.4,291 162.9,289.8 163.4,288.7 164,288.7 164.5,286.9 165,285.9 165.5,286.7 166.1,288.6 166.6,289.7 167.1,290.2 167.7,292.1 168.2,292.2 168.8,292.7 169.4,292.2 170,293.7 170.5,294 171.1,296.3 171.6,295.8 172.1,298.3 172.6,297.6 173.2,298.1 173.7,301.1 174.2,302.9 174.7,303.2 175.3,302.9 175.8,303.9 176.3,304.8 176.9,305.2 177.4,303.3 177.9,303.6 178.5,302.2 179,300.8 179.5,302.5 180.1,302.3 180.6,302.5 181.1,303.4 181.6,303.2 182.1,302.4 182.7,302.5 183.2,302.4 183.7,302 184.3,301.6 184.8,302.2 185.3,301.9 185.9,301.9 186.4,298.9 186.9,299.5 187.4,299.3 187.9,298.1 188.5,298.5 189,296.9 189.5,298.3 190.1,299.6 190.6,299.7 191.1,301.1 191.6,303.2 192.2,302.3 192.7,305.3 193.2,304 193.8,304.5 194.3,305.9 194.8,305.3 195.4,304.3 195.9,305.3 196.4,302.6 197,305.4 197.5,303.2 198,304.3 198.6,304.8 199.1,304.3 199.6,305.3 200.1,306.2 200.6,307.7 201.2,309.6 201.7,311.2 202.2,310.7 202.8,308.4 203.3,308.2 203.8,307.5 204.3,307.3 204.9,306.2 205.4,306 206,305.8 206.5,305.3 207,303.3 207.6,302.8 208.1,301.5 208.6,300 209.1,296.9 209.7,293.5 210.2,290.5 210.7,285.3 211.3,286 211.8,283.1 212.3,280.2 212.8,277.3 213.3,278.1 213.9,276.1 214.4,278 214.9,278.9 215.4,282.3 216,285.4 216.5,287.9 217,285.5 217.6,283.5 218.1,283.9 218.6,281 219.1,283.1 219.7,284.7 220.2,281.9 220.8,280.5 221.3,277.3 221.8,285.6 222.3,291.6 222.8,294 223.4,298 223.9,299 224.4,299.9 224.9,301 225.5,301.4 226,301.6 226.5,302.5 227.1,301.6 227.6,302.8 228.2,303 228.7,304.3 229.2,305.8 229.8,307.6 230.3,309.4 230.8,311.2 231.3,309.9 231.9,308.2 232.4,305.4 232.9,303.2 233.4,301.5 233.9,300.3 234.5,300.2 235,299 235.5,298.7 236.1,297.7 236.6,297 237.1,295.8 237.6,296 238.2,295.3 238.7,298.1 239.3,297.7 239.8,298.5 240.3,298.9 240.8,296.3 241.4,296.7 241.9,295.8 242.4,294.3 242.9,293.7 243.4,292.4 244,293.3 244.5,292.4 245.1,291.4 245.6,291.1 246.1,289.5 246.7,288.4 247.2,287.4 247.7,286.6 248.2,289.4 248.8,287.7 249.3,287.8 249.8,289 250.3,288.2 250.9,288.9 251.4,288.8 251.9,289 252.4,292.3 253,295.8 253.5,300 254,299.1 254.6,296.3 255.1,298.2 255.6,297.9 256.1,297.5 256.6,297.8 257.2,298.6 257.7,298.5 258.2,297.1 258.8,295.3 259.3,294.4 259.9,293.3 260.4,292.1 260.9,292.3 261.4,292.1 262,293.5 262.5,292.3 263,293.7 263.5,295.4 264.1,295.6 264.6,298.7 265.2,301 265.7,301.1 266.2,301.3 266.7,301.1 267.3,303.5 267.8,303.2 268.3,305.3 268.9,305.5 269.5,305.7 270,303.9 270.6,305.7 271.2,306.4 271.7,306.9 272.2,305 272.8,305.4 273.3,306.1 273.8,305.7 274.3,305.3 274.8,305.3 275.4,303.3 275.9,301.1 276.4,299.7 277,300.5 277.5,297.3 278.1,298.7 278.6,297.9 279.1,296.9 279.6,297 280.2,296 280.7,295.8 281.2,282.1 281.7,282.6 282.3,282 282.8,283 283.4,282.7 283.9,283.1 284.4,285.4 284.9,283.3 285.5,283.7 286,285.5 286.5,285.8 287,285.6 287.6,286 288.1,285.9 288.6,285.7 289.1,285.6 289.7,285.8 290.2,285.8 290.7,285.7 291.3,286.8 291.8,287 292.3,285.9 292.9,287.2 293.4,286.8 293.9,285.4 294.4,283.9 295,283.9 295.5,284.6 296,284.2 296.5,282.5 297.1,280.9 297.6,278.9 298.2,276.2 298.9,272 299.5,276.9 300.2,280.5 300.8,282.3 301.3,285.4 301.8,287.9 302.4,290.5 302.9,291.2 303.4,291.9 304,292.8 304.5,295 305,292.7 305.5,293.9 306.1,293.7 306.6,294.7 307.1,294.6 307.7,295.2 308.2,295.8 308.7,295.7 309.2,296.2 309.8,296.3 310.3,296.9 310.8,294.2 311.4,293.3 311.9,291 312.4,290.5 312.9,291.2 313.5,291.4 314,293.7 314.5,288.7 315,284.2 315.5,284 316.1,284.3 316.6,283.7 317.2,285 317.7,284.7 318.2,285.7 318.8,288.5 319.3,290.5 319.8,291.6 320.3,291.8 320.9,292 321.4,292.7 321.9,291.2 322.5,291.7 323,292.7 323.5,291.1 324,288.9 324.6,288.4 325.1,286.9 325.6,285.8 326.1,282.3 326.7,278.5 327.2,274.7 327.7,278.3 328.3,281.6 328.8,284.2 329.3,283.4 329.8,284.7 330.4,283.9 330.9,283.9 331.4,283.1 331.9,283.7 332.5,284.1 333,283.7 333.6,285.1 334.1,284.7 334.6,279.6 335.2,278.4 335.7,274.2 336.2,276.7 336.7,280.2 337.2,283.1 337.8,288 338.3,292.7 338.8,293.1 339.3,292.6 339.9,293.7 340.4,293.3 340.9,293.7 341.4,292.3 342,292 342.6,291.3 343.1,290.5 343.6,286 344.1,282.6 344.6,288.4 345.2,292.3 345.7,297.9 346.2,297.3 346.7,296.1 347.3,293.8 347.8,295.2 348.3,293.7 348.8,293.5 349.4,294.2 349.9,295.8 350.4,292.4 350.9,286.4 351.5,281.8 352,276.8 352.5,280.9 353.1,284 353.6,287.4 354.1,286.8 354.7,289 355.2,289.1 355.7,288.1 356.3,288 356.8,289 357.3,291.6 357.9,292.6 358.4,295.5 358.9,296.6 359.5,299 360,301.1 360.5,298.5 361.1,298.3 361.6,295.9 362.1,293.7 362.6,294.3 363.1,295.2 363.7,295.3 364.2,294.2 364.7,293.8 365.2,293 365.8,294.2 366.3,290.5 366.9,290.5 367.5,289.6 368.1,287.4 368.6,288.3 369.2,286.9 369.7,288 370.3,288.1 370.8,288.4 371.3,289.1 371.8,290.7 372.3,291.6 372.8,292.8 373.4,293.8 373.9,294.4 374.5,292.2 375,294.8 375.5,295.8 376.1,296.6 376.6,296.2 377.1,297.9 377.6,295.1 378.2,293.4 378.7,292.7 379.2,291 379.8,290.9 380.3,287.4 380.8,284.6 381.4,285.8 381.9,285.5 382.4,284.2 382.9,285.4 383.4,284.5 384,283.9 384.5,285.8 385,285.6 385.5,285.2 386.1,285.1 386.6,286.1 387.1,285.3 387.6,286.7 388.2,287.9 388.7,287.4 389.2,288.9 389.8,292.2 390.3,291.1 390.8,289.5 391.4,287.4 391.9,286.3 392.4,287.1 393,286.4 393.5,287.4 394,286.3 394.6,283.2 395.1,280 395.6,277.7 396.1,274.4 396.7,271.5 397.2,270.5 397.7,260.6 398.2,249.3 398.7,249.4 399.3,249 399.8,248.3 400.3,248.1 400.9,250.2 401.4,250.4 401.9,251.4 402.4,248.5 403,246.1 403.5,246.1 404.1,246.5 404.6,246.7 405.1,245.1 405.6,243.5 406.1,242.4 406.7,242.2 407.2,241.9 407.7,241.8 408.2,240.3 408.8,241.1 409.3,239.8 409.8,239.3 410.4,239.2 410.9,236.1 411.4,238.3 412,239.9 412.5,240.9 413,240.9 413.6,239.5 414.1,238.7 414.8,235.6 415.5,232.9 416.1,237.9 416.7,237.7 417.2,237.4 417.8,239.9 418.3,240.3 418.8,241.3 419.4,242.6 419.9,242.4 420.4,256.7 420.9,261 421.5,266.2 422,270.5 422.5,273.2 423.1,277.1 423.6,280 424.1,284.8 424.7,287.4 425.2,290.5 425.7,292.1 426.3,293.6 426.8,294.8 427.3,294.6 427.8,294.8 428.4,294 428.9,293.8 429.4,293.7 429.9,291.1 430.5,287.3 431,285.3 431.5,281 432.1,276.1 432.6,272 433.1,275 433.7,279.2 434.2,281 434.7,278.7 435.2,277.6 435.8,276.2 436.3,274.7 436.8,280 437.4,286.5 437.9,291.6 438.4,291.4 438.9,289.6 439.5,286.5 440,285.3 440.5,285.3 441.1,283.4 441.6,283.6 442.1,282.1 442.6,281.7 443.2,283.8 443.7,281.9 444.3,284 444.8,284.2 445.3,285.3 445.8,286.4 446.4,287.7 446.9,290.2 447.4,290.5 447.9,290.3 448.5,291.1 449,290.5 449.5,290.3 450.1,291.3 450.6,291.6 451.1,291.1 451.6,289.7 452.2,288.7 452.7,288.4 453.2,285.8 453.8,285 454.3,280.7 454.8,278.9 455.3,278.7 455.9,275 456.4,274.9 456.9,274.7 457.4,272.4 458,269.9 458.5,271.8 459.1,274.1 459.6,274.7 460.1,281.8 460.6,289.5 461.1,290.7 461.7,290.3 462.2,290.5" fill="none" stroke="#e2252b" stroke-width="1.65" stroke-linejoin="round"/>
<text x="82.7" y="318.8" font-size="10.6" fill="#d8343c" textLength="67.2" lengthAdjust="spacingAndGlyphs" stroke="#d8343c" stroke-width="0.3">SRR1736690</text>
<text x="82.7" y="333.4" font-size="10.6" fill="#2d3f89" textLength="61" lengthAdjust="spacingAndGlyphs" stroke="#2d3f89" stroke-width="0.3">SRR873619</text>
<rect x="74.3" y="342" width="31" height="4.4" fill="#9c9c9c" stroke="#1a1a1a" stroke-width="1.25"/>
<rect x="75.3" y="343.6" width="29" height="1.2" fill="#d2d2d2"/>
<rect x="89.2" y="342.5" width="1.1" height="3.4" fill="#3a3a3a"/>
<rect x="90.3" y="342.7" width="2.6" height="3" fill="#b5bd6a"/>
<rect x="99.3" y="342.7" width="1.4" height="3" fill="#e8e8e8"/>
<rect x="73.3" y="350.2" width="33.2" height="2.8" fill="#111111"/>
<text transform="translate(92.9,356.3) rotate(-90) scale(1.13,1)" text-anchor="end" font-size="7.1" fill="#1f1f1f" stroke="#000" stroke-width="0.15">1</text>
<rect x="107.5" y="342" width="30.3" height="4.4" fill="#9c9c9c" stroke="#1a1a1a" stroke-width="1.25"/>
<rect x="108.5" y="343.6" width="28.3" height="1.2" fill="#d2d2d2"/>
<rect x="117.4" y="342.5" width="1.1" height="3.4" fill="#3a3a3a"/>
<rect x="106.5" y="350.2" width="32.5" height="2.8" fill="#c4c4c4"/>
<text transform="translate(125.8,356.3) rotate(-90) scale(1.13,1)" text-anchor="end" font-size="7.1" fill="#1f1f1f" stroke="#000" stroke-width="0.15">2</text>
<rect x="140.1" y="342" width="25" height="4.4" fill="#9c9c9c" stroke="#1a1a1a" stroke-width="1.25"/>
<rect x="141.1" y="343.6" width="23" height="1.2" fill="#d2d2d2"/>
<rect x="151.2" y="342.5" width="1.1" height="3.4" fill="#3a3a3a"/>
<rect x="139" y="350.2" width="27.2" height="2.8" fill="#111111"/>
<text transform="translate(155.6,356.3) rotate(-90) scale(1.13,1)" text-anchor="end" font-size="7.1" fill="#1f1f1f" stroke="#000" stroke-width="0.15">3</text>
<rect x="167.2" y="342" width="23.8" height="4.4" fill="#9c9c9c" stroke="#1a1a1a" stroke-width="1.25"/>
<rect x="168.2" y="343.6" width="21.8" height="1.2" fill="#d2d2d2"/>
<rect x="171.7" y="342.5" width="1.1" height="3.4" fill="#3a3a3a"/>
<rect x="166.2" y="350.2" width="26" height="2.8" fill="#c4c4c4"/>
<text transform="translate(182.2,356.3) rotate(-90) scale(1.13,1)" text-anchor="end" font-size="7.1" fill="#1f1f1f" stroke="#000" stroke-width="0.15">4</text>
<rect x="193.2" y="342" width="22.3" height="4.4" fill="#9c9c9c" stroke="#1a1a1a" stroke-width="1.25"/>
<rect x="194.2" y="343.6" width="20.3" height="1.2" fill="#d2d2d2"/>
<rect x="197.4" y="342.5" width="1.1" height="3.4" fill="#3a3a3a"/>
<rect x="192.2" y="350.2" width="24.5" height="2.8" fill="#111111"/>
<text transform="translate(207.4,356.3) rotate(-90) scale(1.13,1)" text-anchor="end" font-size="7.1" fill="#1f1f1f" stroke="#000" stroke-width="0.15">5</text>
<rect x="217.8" y="342" width="21.1" height="4.4" fill="#9c9c9c" stroke="#1a1a1a" stroke-width="1.25"/>
<rect x="218.8" y="343.6" width="19.1" height="1.2" fill="#d2d2d2"/>
<rect x="223.9" y="342.5" width="1.1" height="3.4" fill="#3a3a3a"/>
<rect x="216.7" y="350.2" width="23.3" height="2.8" fill="#c4c4c4"/>
<text transform="translate(231.3,356.3) rotate(-90) scale(1.13,1)" text-anchor="end" font-size="7.1" fill="#1f1f1f" stroke="#000" stroke-width="0.15">6</text>
<rect x="241.1" y="342" width="19.5" height="4.4" fill="#9c9c9c" stroke="#1a1a1a" stroke-width="1.25"/>
<rect x="242.1" y="343.6" width="17.5" height="1.2" fill="#d2d2d2"/>
<rect x="246.7" y="342.5" width="1.1" height="3.4" fill="#3a3a3a"/>
<rect x="240" y="350.2" width="21.7" height="2.8" fill="#111111"/>
<text transform="translate(253.8,356.3) rotate(-90) scale(1.13,1)" text-anchor="end" font-size="7.1" fill="#1f1f1f" stroke="#000" stroke-width="0.15">7</text>
<rect x="262.8" y="342" width="17.4" height="4.4" fill="#9c9c9c" stroke="#1a1a1a" stroke-width="1.25"/>
<rect x="263.8" y="343.6" width="15.4" height="1.2" fill="#d2d2d2"/>
<rect x="266.9" y="342.5" width="1.1" height="3.4" fill="#3a3a3a"/>
<rect x="261.7" y="350.2" width="19.6" height="2.8" fill="#c4c4c4"/>
<text transform="translate(274.5,356.3) rotate(-90) scale(1.13,1)" text-anchor="end" font-size="7.1" fill="#1f1f1f" stroke="#000" stroke-width="0.15">8</text>
<rect x="282.4" y="342" width="16.8" height="4.4" fill="#9c9c9c" stroke="#1a1a1a" stroke-width="1.25"/>
<rect x="283.4" y="343.6" width="14.8" height="1.2" fill="#d2d2d2"/>
<rect x="287.2" y="342.5" width="1.1" height="3.4" fill="#3a3a3a"/>
<rect x="289" y="342.7" width="2.2" height="3" fill="#a9b060"/>
<rect x="281.3" y="350.2" width="19" height="2.8" fill="#111111"/>
<text transform="translate(293.8,356.3) rotate(-90) scale(1.13,1)" text-anchor="end" font-size="7.1" fill="#1f1f1f" stroke="#000" stroke-width="0.15">9</text>
<rect x="301.4" y="342" width="15.7" height="4.4" fill="#9c9c9c" stroke="#1a1a1a" stroke-width="1.25"/>
<rect x="302.4" y="343.6" width="13.7" height="1.2" fill="#d2d2d2"/>
<rect x="304.2" y="342.5" width="1.1" height="3.4" fill="#3a3a3a"/>
<rect x="300.3" y="350.2" width="17.9" height="2.8" fill="#c4c4c4"/>
<text transform="translate(312.2,356.3) rotate(-90) scale(1.13,1)" text-anchor="end" font-size="7.1" fill="#1f1f1f" stroke="#000" stroke-width="0.15">10</text>
<rect x="319.2" y="342" width="16.4" height="4.4" fill="#9c9c9c" stroke="#1a1a1a" stroke-width="1.25"/>
<rect x="320.2" y="343.6" width="14.4" height="1.2" fill="#d2d2d2"/>
<rect x="324" y="342.5" width="1.1" height="3.4" fill="#3a3a3a"/>
<rect x="318.2" y="350.2" width="18.6" height="2.8" fill="#111111"/>
<text transform="translate(330.5,356.3) rotate(-90) scale(1.13,1)" text-anchor="end" font-size="7.1" fill="#1f1f1f" stroke="#000" stroke-width="0.15">11</text>
<rect x="337.9" y="342" width="15.4" height="4.4" fill="#9c9c9c" stroke="#1a1a1a" stroke-width="1.25"/>
<rect x="338.9" y="343.6" width="13.4" height="1.2" fill="#d2d2d2"/>
<rect x="340.6" y="342.5" width="1.1" height="3.4" fill="#3a3a3a"/>
<rect x="336.8" y="350.2" width="17.6" height="2.8" fill="#c4c4c4"/>
<text transform="translate(348.6,356.3) rotate(-90) scale(1.13,1)" text-anchor="end" font-size="7.1" fill="#1f1f1f" stroke="#000" stroke-width="0.15">12</text>
<rect x="355.4" y="342" width="13.4" height="4.4" fill="#9c9c9c" stroke="#1a1a1a" stroke-width="1.25"/>
<rect x="356.4" y="343.6" width="11.4" height="1.2" fill="#d2d2d2"/>
<rect x="356.4" y="342.5" width="1.1" height="3.4" fill="#3a3a3a"/>
<rect x="354.4" y="350.2" width="15.6" height="2.8" fill="#111111"/>
<text transform="translate(365.2,356.3) rotate(-90) scale(1.13,1)" text-anchor="end" font-size="7.1" fill="#1f1f1f" stroke="#000" stroke-width="0.15">13</text>
<rect x="371.1" y="342" width="12.3" height="4.4" fill="#9c9c9c" stroke="#1a1a1a" stroke-width="1.25"/>
<rect x="372.1" y="343.6" width="10.3" height="1.2" fill="#d2d2d2"/>
<rect x="371.9" y="342.5" width="1.1" height="3.4" fill="#3a3a3a"/>
<rect x="370" y="350.2" width="14.5" height="2.8" fill="#c4c4c4"/>
<text transform="translate(380.2,356.3) rotate(-90) scale(1.13,1)" text-anchor="end" font-size="7.1" fill="#1f1f1f" stroke="#000" stroke-width="0.15">14</text>
<rect x="385.6" y="342" width="11.6" height="4.4" fill="#9c9c9c" stroke="#1a1a1a" stroke-width="1.25"/>
<rect x="386.6" y="343.6" width="9.6" height="1.2" fill="#d2d2d2"/>
<rect x="386.3" y="342.5" width="1.1" height="3.4" fill="#3a3a3a"/>
<rect x="384.5" y="350.2" width="13.8" height="2.8" fill="#111111"/>
<text transform="translate(394.4,356.3) rotate(-90) scale(1.13,1)" text-anchor="end" font-size="7.1" fill="#1f1f1f" stroke="#000" stroke-width="0.15">15</text>
<rect x="399.4" y="342" width="9.5" height="4.4" fill="#9c9c9c" stroke="#1a1a1a" stroke-width="1.25"/>
<rect x="400.4" y="343.6" width="7.5" height="1.2" fill="#d2d2d2"/>
<rect x="403.1" y="342.5" width="1.1" height="3.4" fill="#3a3a3a"/>
<rect x="403.1" y="342.7" width="2.2" height="3" fill="#a9b060"/>
<rect x="398.3" y="350.2" width="11.7" height="2.8" fill="#c4c4c4"/>
<text transform="translate(407.1,356.3) rotate(-90) scale(1.13,1)" text-anchor="end" font-size="7.1" fill="#1f1f1f" stroke="#000" stroke-width="0.15">16</text>
<rect x="411.1" y="342" width="8.7" height="4.4" fill="#9c9c9c" stroke="#1a1a1a" stroke-width="1.25"/>
<rect x="412.1" y="343.6" width="6.7" height="1.2" fill="#d2d2d2"/>
<rect x="413.5" y="342.5" width="1.1" height="3.4" fill="#3a3a3a"/>
<rect x="410" y="350.2" width="10.9" height="2.8" fill="#111111"/>
<text transform="translate(418.4,356.3) rotate(-90) scale(1.13,1)" text-anchor="end" font-size="7.1" fill="#1f1f1f" stroke="#000" stroke-width="0.15">17</text>
<rect x="421.9" y="342" width="7.8" height="4.4" fill="#9c9c9c" stroke="#1a1a1a" stroke-width="1.25"/>
<rect x="422.9" y="343.6" width="5.8" height="1.2" fill="#d2d2d2"/>
<rect x="423.2" y="342.5" width="1.1" height="3.4" fill="#3a3a3a"/>
<rect x="420.9" y="350.2" width="10" height="2.8" fill="#c4c4c4"/>
<text transform="translate(428.9,356.3) rotate(-90) scale(1.13,1)" text-anchor="end" font-size="7.1" fill="#1f1f1f" stroke="#000" stroke-width="0.15">18</text>
<rect x="431.9" y="342" width="6.9" height="4.4" fill="#9c9c9c" stroke="#1a1a1a" stroke-width="1.25"/>
<rect x="432.9" y="343.6" width="4.9" height="1.2" fill="#d2d2d2"/>
<rect x="435.4" y="342.5" width="1.1" height="3.4" fill="#3a3a3a"/>
<rect x="435" y="342.7" width="2.6" height="3" fill="#a9b060"/>
<rect x="430.9" y="350.2" width="9.1" height="2.8" fill="#111111"/>
<text transform="translate(438.4,356.3) rotate(-90) scale(1.13,1)" text-anchor="end" font-size="7.1" fill="#1f1f1f" stroke="#000" stroke-width="0.15">19</text>
<rect x="441.1" y="342" width="5.8" height="4.4" fill="#9c9c9c" stroke="#1a1a1a" stroke-width="1.25"/>
<rect x="442.1" y="343.6" width="3.8" height="1.2" fill="#d2d2d2"/>
<rect x="443.6" y="342.5" width="1.1" height="3.4" fill="#3a3a3a"/>
<rect x="440" y="350.2" width="8" height="2.8" fill="#c4c4c4"/>
<text transform="translate(447,356.3) rotate(-90) scale(1.13,1)" text-anchor="end" font-size="7.1" fill="#1f1f1f" stroke="#000" stroke-width="0.15">20</text>
<rect x="449.1" y="342" width="4.5" height="4.4" fill="#9c9c9c" stroke="#1a1a1a" stroke-width="1.25"/>
<rect x="450.1" y="343.6" width="2.5" height="1.2" fill="#d2d2d2"/>
<rect x="450.2" y="342.5" width="1.1" height="3.4" fill="#3a3a3a"/>
<rect x="448" y="350.2" width="6.7" height="2.8" fill="#111111"/>
<text transform="translate(454.4,356.3) rotate(-90) scale(1.13,1)" text-anchor="end" font-size="7.1" fill="#1f1f1f" stroke="#000" stroke-width="0.15">21</text>
<rect x="455.8" y="342" width="5.6" height="4.4" fill="#9c9c9c" stroke="#1a1a1a" stroke-width="1.25"/>
<rect x="456.8" y="343.6" width="3.6" height="1.2" fill="#d2d2d2"/>
<rect x="457.2" y="342.5" width="1.1" height="3.4" fill="#3a3a3a"/>
<rect x="454.7" y="350.2" width="7.8" height="2.8" fill="#c4c4c4"/>
<text transform="translate(461.6,356.3) rotate(-90) scale(1.13,1)" text-anchor="end" font-size="7.1" fill="#1f1f1f" stroke="#000" stroke-width="0.15">22</text>
<path d="M72.7,210.7 V349.8" stroke="#222" stroke-width="1.2" fill="none"/>
<rect x="89.8" y="404.9" width="16.2" height="129.5" fill="#dcdcdc"/>
<text x="68.9" y="434.2" text-anchor="end" font-size="9.1" fill="#1f1f1f" stroke="#1f1f1f" stroke-width="0.3">0.50</text>
<text x="68.9" y="457.5" text-anchor="end" font-size="9.1" fill="#1f1f1f" stroke="#1f1f1f" stroke-width="0.3">0.25</text>
<text x="68.9" y="480.8" text-anchor="end" font-size="9.1" fill="#1f1f1f" stroke="#1f1f1f" stroke-width="0.3">0.00</text>
<text x="68.9" y="504.1" text-anchor="end" font-size="9.1" fill="#1f1f1f" stroke="#1f1f1f" stroke-width="0.3">−0.25</text>
<text x="68.9" y="527.4" text-anchor="end" font-size="9.1" fill="#1f1f1f" stroke="#1f1f1f" stroke-width="0.3">−0.50</text>
<text transform="translate(10.1,476.6) rotate(-90)" text-anchor="middle" font-size="9.45" fill="#1f1f1f" stroke="#1f1f1f" stroke-width="0.3">Gene expression</text>
<text transform="translate(22.6,476.6) rotate(-90)" text-anchor="middle" font-size="9.45" fill="#1f1f1f" stroke="#1f1f1f" stroke-width="0.3">ratio (log2)</text>
<path d="M73.9,471.7 74.4,472.5 75,470.6 75.5,469.9 76,471.9 76.5,471.9 77.1,471.9 77.6,472.3 78.1,471.8 78.6,474.2 79.2,473.8 79.7,474.3 80.2,474.8 80.7,474.8 81.2,475.9 81.8,473.7 82.3,476.6 82.9,476.6 83.4,477 84,477.6 84.5,477.9 85,477.1 85.6,478.6 86.1,479.3 86.6,481.5 87.1,479.5 87.7,480.5 88.2,481 88.7,482 89.3,481.6 89.8,481 90.4,479.4 90.9,480.5 91.5,480.3 92,479.8 92.6,478.4 93.2,476.6 93.8,475.6 94.4,474.8 94.9,474.7 95.4,473.5 95.9,474.8 96.4,474.6 96.9,474.7 97.4,475.1 97.9,474.3 98.4,475 98.9,474 99.4,474.2 99.9,474.6 100.4,476.4 100.9,478.2 101.4,481.2 101.9,481 102.4,480.6 102.9,481.4 103.5,481.6 104,481.7 104.5,481.4 105,481.7 105.5,481.6 106.1,481.7 106.6,480 107.2,481.4 107.7,480 108.3,479.6 108.8,478.6 109.3,477.3 109.8,474.5 110.3,475.4 110.9,474.6 111.4,472.8 111.9,472.3 112.4,473 112.9,471.8 113.5,472.1 114,471.5 114.5,472 115,471.7 115.6,473.1 116.3,475 116.9,476.1 117.4,476.4 118,477 118.5,476.6 119,478 119.5,475.9 120.1,477.1 120.6,477.9 121.1,477.7 121.7,475.8 122.2,476.9 122.8,477.1 123.3,473.8 123.9,474.5 124.4,474.8 124.9,474.5 125.4,474.2 125.9,474.2 126.4,473.5 126.9,472.3 127.4,472.8 127.9,472.8 128.4,471.2 128.9,471.6 129.4,471.1 129.9,471.6 130.5,471.9 131,472 131.5,473.3 132,474.2 132.6,475.7 133.1,475.4 133.6,474.2 134.2,474.9 134.7,477.4 135.2,476.4 135.7,478 136.3,477.7 136.8,478.6 137.3,479.5 137.8,478 138.3,477 138.8,476.2 139.3,479 139.8,477.9 140.3,476.7 140.8,477.5 141.3,476.8 141.8,476.7 142.3,478.2 142.8,476.7 143.3,478.2 143.8,477.5 144.3,478 144.8,478.8 145.3,478.2 145.8,480.9 146.3,479.7 146.8,479.8 147.3,478.7 147.8,479.9 148.3,479.9 148.8,479 149.3,479.4 149.8,479.5 150.3,478.6 150.8,480 151.3,478.4 151.8,479.8 152.3,478.5 152.8,479.7 153.3,479.9 153.8,480.5 154.3,480.3 154.8,479.8 155.3,479.4 155.8,479.2 156.3,479.3 156.8,479.8 157.3,479 157.8,478.4 158.3,481 158.8,478.7 159.3,478.6 159.8,479 160.3,478.4 160.8,478.3 161.3,477 161.8,477.9 162.3,477.7 162.8,479.6 163.3,480.6 163.8,478.7 164.3,478.9 164.8,478.6 165.3,478.9 165.8,479.8 166.3,480.5 166.8,480.4 167.3,481.6 167.9,479.5 168.4,479.4 168.9,480.5 169.5,479.6 170,479.6 170.5,478.2 171.1,477.9 171.6,476.8 172.1,477 172.7,475.3 173.2,474.8 173.7,474.9 174.2,473.8 174.8,474.5 175.3,472.9 175.8,474.3 176.3,473.8 176.8,474.2 177.4,473.7 177.9,473.2 178.4,472.8 179,473.8 179.5,473.3 180,473.8 180.6,472.4 181.1,472.1 181.7,471.4 182.2,471.7 182.7,472.3 183.2,472 183.8,473.7 184.3,473.8 184.8,474.8 185.3,474.5 185.9,475.2 186.4,475.8 186.9,475.4 187.4,476.4 187.9,478.4 188.5,477.4 189,478 189.5,477.3 190.1,476.8 190.6,476.3 191.1,475.4 191.7,474.2 192.2,474.8 192.7,474.3 193.3,474.9 193.8,474.6 194.3,477.5 194.9,475.4 195.4,475.9 195.9,478.9 196.4,476.4 196.9,476.4 197.5,476.4 198,475.4 198.5,477 199,473.3 199.6,475.6 200.1,475.1 200.6,473.1 201.2,472.6 201.7,472.7 202.2,472.4 202.8,474.6 203.3,475.6 203.8,475.8 204.4,476.7 204.9,477.5 205.4,478.8 206,478.4 206.5,479.9 207,478.4 207.6,478.8 208.1,479.1 208.6,479.1 209.1,477.8 209.6,477.6 210.2,476.3 210.7,477.7 211.2,476.4 211.7,477.5 212.3,476.3 212.8,475.7 213.3,476.2 213.9,475.7 214.4,475.9 214.9,475.3 215.5,476.1 216,476.1 216.5,476.2 217.1,476.7 217.6,476.4 218.1,476 218.6,477.8 219.2,478.2 219.7,477.9 220.2,478 220.7,476.4 221.3,476 221.8,474.6 222.4,474.8 222.9,474.8 223.4,475.6 223.9,476 224.4,475.4 225,475.9 225.5,476.4 226,477 226.5,477 227.1,477.3 227.6,480.1 228.1,480.1 228.7,478.3 229.2,478.9 229.8,475 230.3,475.4 230.8,475.8 231.3,475.2 231.9,476 232.4,473.7 232.9,475.4 233.4,475.4 233.9,475.4 234.5,475.7 235,476.1 235.6,475.7 236.1,475.7 236.6,475.8 237.2,477.2 237.7,475.9 238.2,476.3 238.8,475.9 239.3,476.2 239.8,476.5 240.3,476.3 240.8,477.3 241.4,477 241.9,477 242.4,477.5 242.9,476.6 243.5,475.4 244,476.2 244.5,475.5 245.1,474.4 245.6,475.2 246.1,475.4 246.6,475.6 247.2,476.6 247.7,475.1 248.2,479 248.7,476.8 249.2,476 249.8,476.6 250.3,477 250.8,476.7 251.4,479.8 251.9,478.4 252.5,478.6 253,480.7 253.5,479.7 254,477.9 254.6,477.6 255.1,475.6 255.6,474.3 256.1,475.6 256.7,473.1 257.2,472.9 257.7,473.8 258.3,473.5 258.8,472.7 259.3,475.1 259.9,476 260.4,475.3 260.9,477.5 261.4,477.7 262,476.5 262.5,477.3 263,477.7 263.6,479.4 264.1,478 264.6,476.6 265.2,475.8 265.7,475.7 266.2,474.9 266.8,473.9 267.3,472.7 267.9,472 268.4,471.6 269,469.1 269.5,470.7 270.1,469 270.6,469.2 271.1,468.4 271.7,466.3 272.2,466.9 272.7,467.6 273.3,468.1 273.8,468.9 274.4,468.3 274.9,469.6 275.4,469.8 275.9,472.5 276.4,470.8 277,473.6 277.5,471.8 278,473.3 278.5,473.7 279.1,477.7 279.6,478.5 280.1,479.2 280.7,478.9 281.2,480.1 281.7,479.4 282.3,480.7 282.8,480.1 283.3,479.6 283.9,479.3 284.4,479.2 284.9,479.2 285.4,478.5 286,477.7 286.5,478 287,477.4 287.6,479.1 288.1,477.4 288.6,476.3 289.1,476.8 289.7,478 290.2,475.4 290.7,475 291.3,474.9 291.8,474.8 292.3,475.6 292.9,474.4 293.4,474.3 293.9,474.4 294.4,474.1 294.9,473.3 295.5,474.9 296,476.7 296.5,476.4 297,475.1 297.6,476.4 298.1,476.9 298.6,478.2 299.2,477.6 299.7,478.5 300.2,477 300.8,478 301.3,476.8 301.8,478 302.3,477.1 302.9,477 303.4,477 303.9,477.2 304.5,476.8 305,475.1 305.5,475.1 306.1,475 306.6,474.8 307.1,475 307.7,475 308.2,473.1 308.7,474.5 309.3,473 309.8,472.7 310.3,472.2 310.9,473 311.4,469.7 311.9,470.6 312.4,471.3 312.9,472.8 313.5,472.4 314,472.9 314.5,473.8 315,473.7 315.6,476.2 316.1,476.3 316.6,478 317.1,477.5 317.6,478.7 318.2,478.9 318.7,478.5 319.2,477.8 319.8,477.8 320.3,477.1 320.9,476.4 321.4,475.7 321.9,477.1 322.4,479.3 323,478 323.5,477.9 324,478 324.5,477.6 325.1,477.8 325.6,476.2 326.1,476.8 326.7,476.1 327.2,475.9 327.7,473.8 328.3,471.9 328.8,470.6 329.3,470.3 329.8,471.7 330.4,472.1 330.9,473 331.4,473.8 331.9,474.6 332.4,476.1 333,478.3 333.5,477 334,477.7 334.6,478.9 335.1,480.5 335.6,481.1 336.2,481.6 336.7,482.8 337.2,481.4 337.8,483.7 338.3,481.5 338.8,483.8 339.3,483.7 339.9,480.9 340.4,480.8 340.9,480.1 341.4,479.5 342,479.4 342.5,477.5 343,476.2 343.6,476.2 344.1,475.4 344.6,474.8 345.2,474.4 345.7,475.9 346.2,474.8 346.8,474.8 347.3,474.3 347.8,474.3 348.4,476.5 348.9,475.1 349.4,475.5 350,476.3 350.5,477 351,476.7 351.5,476.9 352.1,476.2 352.6,477.1 353.1,478.6 353.6,478 354.1,478.4 354.7,479.4 355.2,478.6 355.7,478.1 356.3,481 356.8,479.6 357.3,479.6 357.9,479.2 358.4,480.9 358.9,481.4 359.5,481.3 360,481.7 360.5,480.5 361,481.1 361.6,481 362.1,481.6 362.6,481.3 363.1,480.7 363.7,481.7 364.3,482.5 364.8,482.4 365.4,483.8 366,483.8 366.5,485 367.1,484.4 367.6,487.2 368.1,487.5 368.6,487.5 369.2,488.2 369.7,486.9 370.3,486.2 370.8,485.9 371.3,484.1 371.8,484.1 372.4,482.5 372.9,483.1 373.4,480.7 373.9,480.7 374.4,480.1 375,480 375.5,480.7 376,478.5 376.6,477.9 377.1,477.6 377.6,476.7 378.2,477 378.7,476.6 379.2,478.9 379.8,478.8 380.3,480.1 380.8,480.3 381.3,482.7 381.9,482.2 382.4,483.2 382.9,483.3 383.4,483.6 384,483.3 384.5,483 385,484.9 385.6,485 386.1,484.9 386.6,484.2 387.1,483.3 387.7,484.8 388.2,481.7 388.7,481.5 389.2,479.9 389.8,479.7 390.3,478.3 390.8,478 391.3,478.5 391.9,478 392.4,477.5 393,478.1 393.5,477.5 394,478.6 394.6,479.6 395.1,478.6 395.6,480.1 396.1,480.1 396.6,479.8 397.2,478.7 397.7,479.1 398.2,479.3 398.8,478.4 399.3,477.6 399.8,479.7 400.4,478.2 400.9,478 401.4,477.3 402,478.5 402.5,478.1 403,477.7 403.6,477.6 404.1,477 404.6,476.6 405.1,476.2 405.7,473.8 406.2,473.8 406.7,473.2 407.2,473 407.8,474 408.3,472.7 408.8,473.3 409.3,473 409.9,474.1 410.4,474.7 410.9,475.4 411.4,475.9 412,475.9 412.5,475.7 413.1,477.6 413.6,477.5 414.1,477.6 414.6,477.1 415.1,476.9 415.7,477.5 416.2,478.2 416.7,478 417.2,477.8 417.8,476.6 418.3,476.7 418.8,476.9 419.4,475.2 419.9,477 420.4,476.7 421,479.4 421.5,476.4 422,476.6 422.6,476.2 423.1,475.9 423.6,475.7 424.2,474.5 424.7,472.3 425.2,473.6 425.8,473.6 426.3,472.7 426.8,472.3 427.3,471.2 427.9,471.1 428.4,470.4 428.9,469.8 429.4,469 429.9,467.1 430.5,467.5 431,465.9 431.5,468.5 432.1,471.9 432.6,473.8 433.1,476.3 433.6,475.7 434.2,477.1 434.7,478.5 435.2,475.4 435.8,474.4 436.3,472.7 436.8,473 437.3,472.4 437.9,471 438.4,471.4 438.9,471.1 439.4,470.9 440,470.2 440.6,469.9 441.1,470.1 441.6,470.9 442.1,471.9 442.6,471.6 443.2,473 443.7,474.7 444.2,474.3 444.7,474.9 445.3,473.3 445.8,473.5 446.3,473.3 446.9,473.9 447.4,473.8 447.9,474.3 448.5,475.6 449,473.3 449.5,474.8 450.1,473.7 450.6,473.8 451.1,474.1 451.6,474.1 452.1,474.8 452.7,476.8 453.2,478.2 453.7,477.5 454.2,478.4 454.8,478.3 455.3,479 455.8,479.4 456.4,477.8 456.9,479.6 457.4,478.2 457.9,477.7 458.5,478.5 459,477.5 459.5,477.1 460.1,475.4 460.6,474.9 461.2,473.9 461.7,474.8" fill="none" stroke="#1f3a8e" stroke-width="1.65" stroke-linejoin="round"/>
<path d="M73.9,469.8 74.5,467.4 75.1,464.8 75.8,464.4 76.4,461.7 77,474.8 77.6,477.5 78.3,482.4 78.9,484.8 79.5,486.3 80.1,491 80.7,490.5 81.4,489.8 82,489.8 82.6,488.1 83.2,488.5 83.8,486 84.4,485.1 85.1,483.6 85.7,481 86.3,477.8 87,474.8 87.6,461.7 88.2,449.9 88.8,448.4 89.5,447.4 90,448 90.5,446.7 91,447.4 91.5,447 92,447.1 92.6,434.8 93.2,424.9 93.8,406.2 94.4,410.3 95.1,415 95.7,416 96.3,417.5 96.9,415.5 97.6,414.3 98.2,415.7 98.8,416.2 99.4,417.6 100.1,416.2 100.7,419.8 101.3,424.9 101.8,426.7 102.3,427.9 102.8,429.6 103.3,431.7 103.8,433.7 104.4,439.1 105.1,441.7 105.7,447.4 106.3,450.9 106.9,454.8 107.5,457.4 108.1,460.8 108.8,462.2 109.4,467.3 110,470.6 110.7,474.4 111.3,477.3 111.9,479.7 112.5,482.6 113.1,484.8 113.6,485.6 114.1,485.6 114.6,486.5 115.1,486.5 115.6,487.3 116.1,489 116.7,488.9 117.2,490.4 117.7,490.8 118.3,491.8 118.8,492.3 119.3,490.9 119.8,490.1 120.3,488.9 120.8,486.6 121.3,487.3 121.8,487.9 122.3,487 122.8,487.3 123.4,487.5 123.9,487.6 124.4,487.3 124.9,487.1 125.4,486.9 125.9,486.9 126.4,486 126.9,486 127.4,484.8 127.9,483.1 128.4,483 128.9,482.8 129.4,481 129.9,479.4 130.4,480.1 130.9,479.2 131.4,479.6 131.9,478.6 132.5,479 133.1,480.7 133.7,481.5 134.3,482.3 134.8,484.2 135.4,484.7 135.9,484.4 136.4,485.6 137,486.5 137.5,487.3 138,486.2 138.5,483.5 139,483.7 139.5,482.4 140,481 140.5,481 141,480.4 141.6,479.9 142.1,479.3 142.6,478.1 143.1,477.3 143.7,476.5 144.3,473.4 144.9,472.3 145.5,475.2 146.2,477.5 146.8,481 147.3,479.2 147.8,479.6 148.3,475.5 148.8,475.1 149.3,473.6 149.8,472.6 150.3,473.1 150.9,471.9 151.4,472.4 151.9,470.3 152.4,471.1 153,470.6 153.7,469.7 154.3,469.8 154.9,465.7 155.6,466.3 156.2,464.8 156.8,464.3 157.4,466.5 158,467.3 158.7,467.2 159.3,466.1 159.9,468.8 160.6,472.9 161.2,476.1 161.7,477.8 162.2,476.7 162.8,479.6 163.3,479.3 163.8,481.2 164.3,481 164.8,481.7 165.3,481.1 165.8,481.1 166.3,481.8 166.8,482.3 167.3,482.8 167.8,483.8 168.3,486 168.8,485.3 169.3,486 170,484.9 170.5,483.7 171.1,480.2 171.6,479.6 172.1,478.1 172.7,475 173.2,473.8 173.7,475.1 174.2,473.3 174.8,473.2 175.3,473.3 175.8,472.9 176.4,475.6 176.9,477.5 177.4,479.8 178,480.4 178.5,482.8 179,483.5 179.5,486 180,485.4 180.6,484.1 181.1,482.5 181.6,481.2 182.2,480.7 182.7,479.9 183.2,480.2 183.8,479.6 184.3,480.9 184.8,479.6 185.3,478.6 185.9,481.8 186.4,481.5 186.9,481.7 187.4,483.1 188,483.1 188.5,484.4 189.1,484.8 189.6,485.9 190.1,485.2 190.6,483.1 191.2,481.6 191.7,480.2 192.2,480.7 192.7,480.2 193.2,479.7 193.8,481 194.3,480.7 194.8,479.8 195.4,477 195.9,476.4 196.5,474.3 197,475.4 197.5,477.6 198,478.3 198.6,479 199.1,478.8 199.6,480.7 200.1,481 200.6,481.5 201.2,481 201.7,481.7 202.2,482.6 202.8,486.1 203.3,487 203.8,489.1 204.3,487.8 204.9,487.8 205.4,487.7 205.9,488.1 206.4,486.9 207,486.2 207.6,485.1 208.1,484.9 208.6,484.4 209.1,482.7 209.7,482.7 210.2,480.7 210.7,478 211.2,476.4 211.8,474.2 212.3,472.2 212.8,471.9 213.4,472.7 213.9,472.6 214.4,471.1 214.9,470.4 215.5,469.6 216,468 216.5,470 217.1,471.7 217.6,473.8 218.1,472.2 218.6,472.6 219.2,469.8 219.7,469 220.3,467.1 221,465.3 221.7,469.3 222.3,474.3 222.8,478 223.4,481.6 223.9,485.9 224.4,485.6 225,484.8 225.5,485.1 226.1,483.3 226.6,483.8 227.1,484.1 227.6,485.6 228.2,485.7 228.7,486.1 229.2,485.9 229.7,486.9 230.2,487.4 230.8,491.9 231.3,492.3 231.8,491.8 232.4,489.6 232.9,490.6 233.4,489.1 233.9,489.5 234.5,487.8 235,487.9 235.6,487.2 236.1,486.5 236.6,484.2 237.1,483 237.7,480 238.2,479.6 238.7,477.7 239.2,478.7 239.8,476.9 240.3,476.4 240.8,475.5 241.4,473.7 241.9,472.7 242.4,471.1 242.9,471.6 243.5,470 244,469 244.5,468.9 245.1,469.9 245.6,470.8 246.1,471.1 246.6,470.8 247.2,469.9 247.7,469.6 248.3,470.4 248.8,470.1 249.3,471.9 249.8,474.1 250.3,475.4 250.9,475.3 251.4,472.4 251.9,472.8 252.5,472.2 253,471.4 253.6,471.7 254.1,471.1 254.6,471.1 255.1,469.9 255.6,470 256.2,468.6 256.7,468.5 257.2,466.5 257.8,466.4 258.3,465 258.8,463.7 259.3,464.2 259.9,463.5 260.4,465.4 260.9,465.9 261.4,465.5 261.9,464.4 262.5,465.3 263,465.3 263.5,466.6 264.1,467.6 264.6,469.6 265.1,471.1 265.7,474.3 266.2,474.8 266.8,475.7 267.4,474.7 268,475.4 268.5,476.4 269.1,478.6 269.6,477.5 270.1,478.5 270.6,479.4 271.2,479.9 271.7,478.7 272.3,482 272.8,481.7 273.3,484.1 273.9,485.4 274.4,484.1 274.9,485.4 275.4,483.7 275.9,483.4 276.5,481.6 277,483.2 277.5,480.7 278,480.4 278.6,481.3 279.1,478.8 279.7,478.3 280.2,478.5 280.7,479.8 281.2,478.5 281.8,479.7 282.3,482.4 282.8,481.7 283.3,481.8 283.9,482.9 284.4,481.4 284.9,483.8 285.4,482.8 285.9,480.6 286.5,479.5 287,477.5 287.5,477.9 288.1,477.8 288.6,479.3 289.1,478.6 289.7,478.4 290.2,479.6 290.7,479.7 291.3,479.5 291.8,481.7 292.3,480.1 292.9,480.5 293.4,481.2 293.9,479.6 294.4,479.8 294.9,478.1 295.5,475.7 296,474.9 296.5,473.3 297.1,475.1 297.6,475.8 298.1,478.8 298.7,479.6 299.2,479.8 299.8,481.7 300.3,481.1 300.8,481.7 301.3,482.2 301.9,484.6 302.4,485.4 302.9,483.8 303.4,481.8 304,481.1 304.5,478.5 305,479.4 305.5,477.1 306.1,476.1 306.6,477 307.1,477 307.6,476.3 308.2,475.3 308.7,474.1 309.3,475.7 309.8,473.8 310.3,474 310.9,473.8 311.4,474.3 311.9,473.8 312.4,476.6 312.9,477.4 313.5,480.4 314,481.7 314.5,483.6 315.1,486 315.6,485.9 316.1,486.7 316.6,487.9 317.2,488.8 317.7,489.1 318.2,490.3 318.7,491.8 319.2,486 319.8,480.7 320.4,476.9 320.9,472.2 321.4,471.1 321.9,470.4 322.5,468.7 323,466.9 323.5,467 324.1,467.9 324.6,468.6 325.1,468.5 325.6,464.6 326.2,461.4 326.7,457.4 327.2,464 327.7,471.1 328.2,472 328.8,472.1 329.3,473.3 329.8,474 330.4,473.2 330.9,474.1 331.4,474.3 331.9,472.4 332.5,471 333,469.6 333.5,470.3 334.1,469 334.6,471.6 335.2,471 335.7,472.2 336.2,472.8 336.7,474 337.3,472.3 337.8,472.3 338.3,472.7 338.8,471.9 339.3,470.7 339.9,470.4 340.4,469.2 340.9,466.4 341.5,464.4 342.1,463.4 342.7,462.4 343.3,460.6 343.8,467.9 344.3,472.7 344.8,472.5 345.3,472.8 345.8,472.6 346.3,471.9 346.8,472.7 347.3,473.6 347.8,473.8 348.4,473.9 348.9,475.7 349.4,475.9 349.9,476.3 350.4,478.9 351,478.8 351.5,479.6 352,481.4 352.6,482 353.1,483.1 353.6,485.9 354.1,485 354.6,483.7 355.2,483.4 355.7,481.7 356.2,482 356.8,483.4 357.3,485.7 357.9,487.5 358.4,484.4 358.9,482.4 359.5,479.1 360,478.5 360.5,476.8 361.1,474.9 361.6,476.3 362.1,475.4 362.6,475.7 363.2,475.5 363.7,474.9 364.2,473.3 364.8,474.1 365.3,473.8 365.9,473.5 366.4,474.6 367,474.5 367.5,473.8 368.1,473.6 368.6,474.3 369.1,475.2 369.7,477.2 370.2,478 370.7,476.6 371.2,477.9 371.8,478.1 372.3,478.5 372.8,481 373.4,483.8 373.9,487 374.4,487.2 374.9,487.9 375.5,488.2 376,488.1 376.6,486.9 377.1,486.5 377.6,485.1 378.2,483.8 378.7,485.2 379.2,484.7 379.8,484.9 380.3,486.5 380.8,484.7 381.4,484 381.9,482 382.4,481.7 382.9,482.9 383.4,484 384,482.9 384.5,484.9 385,485.9 385.5,486.9 386.1,487.8 386.6,487.7 387.1,489.1 387.6,490.4 388.2,491.5 388.7,492.7 389.3,494.6 389.8,495.5 390.3,490.9 390.9,484.1 391.4,483.8 391.9,481.2 392.5,476.8 393,474.3 393.5,470.5 394.1,469.2 394.6,464.9 395.1,461.6 395.6,465.8 396.2,468.5 396.7,471.1 397.2,478.6 397.7,486.5 398.2,492.3 398.8,492.2 399.3,494.4 399.8,491.2 400.4,485.7 400.9,481.7 401.4,478.5 402,476.2 402.5,473.3 403,472.1 403.6,471.1 404.1,470.2 404.6,470.1 405.1,470.6 405.6,470.7 406.2,471.7 406.7,472.2 407.2,475 407.8,477.9 408.3,479.6 408.8,481.8 409.4,482.9 409.9,488.1 410.4,488.2 410.9,489.2 411.5,489.4 412,490.2 412.5,489.2 413.1,492.1 413.6,491 414.1,492.3 414.6,487.7 415.2,484.4 415.7,479.6 416.2,480.7 416.8,480.3 417.3,480.3 417.8,480.7 418.3,480.5 418.9,480.2 419.4,478 419.9,478.5 420.4,479.3 420.9,479.2 421.5,480.4 422,480.7 422.5,480.1 423.1,482 423.6,481.9 424.2,482.2 424.7,482.8 425.2,483 425.7,483.3 426.3,483.8 426.8,484.5 427.3,484.9 427.8,485.5 428.4,484.4 428.9,483.8 429.4,483.7 430,483.7 430.5,483.8 431,483.8 431.6,482.5 432.1,483.5 432.6,482.8 433.1,485.5 433.6,485.1 434.2,487.4 434.7,488.1 435.2,484.8 435.8,481.2 436.3,476.4 436.8,482.3 437.4,487.3 437.9,493.3 438.4,484.9 438.9,478.5 439.4,475.8 440,475.1 440.5,474.3 441,474.5 441.6,475.9 442.1,476.2 442.6,477.5 443.1,475.7 443.7,473.9 444.2,472.2 444.7,473.2 445.2,477.2 445.8,476.2 446.3,479.6 446.9,479.9 447.4,480.4 447.9,480 448.5,480.7 449,479.6 449.6,477.7 450.1,478.4 450.6,476.4 451.1,478.7 451.6,479.2 452.2,481.6 452.7,483.8 453.2,484.3 453.8,483.7 454.3,481.7 454.8,481.7 455.3,484.1 455.9,481 456.4,485.1 456.9,487 457.4,484.5 458,483.5 458.5,481.7 459,484.2 459.6,486.3 460.1,489.1 460.6,490.3 461.2,486.9 461.7,484.9" fill="none" stroke="#e2252b" stroke-width="1.65" stroke-linejoin="round"/>
<text x="82.7" y="514.6" font-size="10.6" fill="#d8343c" textLength="61" lengthAdjust="spacingAndGlyphs" stroke="#d8343c" stroke-width="0.3">SRR061728</text>
<text x="82.7" y="529.2" font-size="10.6" fill="#2d3f89" textLength="67.2" lengthAdjust="spacingAndGlyphs" stroke="#2d3f89" stroke-width="0.3">SRR1015684</text>
<rect x="74.3" y="536.1" width="31" height="4.4" fill="#9c9c9c" stroke="#1a1a1a" stroke-width="1.25"/>
<rect x="75.3" y="537.7" width="29" height="1.2" fill="#d2d2d2"/>
<rect x="89.2" y="536.6" width="1.1" height="3.4" fill="#3a3a3a"/>
<rect x="90.3" y="536.8" width="2.6" height="3" fill="#b5bd6a"/>
<rect x="99.3" y="536.8" width="1.4" height="3" fill="#e8e8e8"/>
<rect x="73.3" y="544.5" width="33.2" height="2.8" fill="#111111"/>
<text transform="translate(92.9,550.6) rotate(-90) scale(1.13,1)" text-anchor="end" font-size="7.1" fill="#1f1f1f" stroke="#000" stroke-width="0.15">1</text>
<rect x="107.5" y="536.1" width="30.3" height="4.4" fill="#9c9c9c" stroke="#1a1a1a" stroke-width="1.25"/>
<rect x="108.5" y="537.7" width="28.3" height="1.2" fill="#d2d2d2"/>
<rect x="117.4" y="536.6" width="1.1" height="3.4" fill="#3a3a3a"/>
<rect x="106.5" y="544.5" width="32.5" height="2.8" fill="#c4c4c4"/>
<text transform="translate(125.8,550.6) rotate(-90) scale(1.13,1)" text-anchor="end" font-size="7.1" fill="#1f1f1f" stroke="#000" stroke-width="0.15">2</text>
<rect x="140.1" y="536.1" width="25" height="4.4" fill="#9c9c9c" stroke="#1a1a1a" stroke-width="1.25"/>
<rect x="141.1" y="537.7" width="23" height="1.2" fill="#d2d2d2"/>
<rect x="151.2" y="536.6" width="1.1" height="3.4" fill="#3a3a3a"/>
<rect x="151.2" y="536.2" width="13.7" height="4.2" fill="#111"/>
<rect x="139" y="544.5" width="27.2" height="2.8" fill="#111111"/>
<text transform="translate(155.6,550.6) rotate(-90) scale(1.13,1)" text-anchor="end" font-size="7.1" fill="#1f1f1f" stroke="#000" stroke-width="0.15">3</text>
<rect x="167.2" y="536.1" width="23.8" height="4.4" fill="#9c9c9c" stroke="#1a1a1a" stroke-width="1.25"/>
<rect x="168.2" y="537.7" width="21.8" height="1.2" fill="#d2d2d2"/>
<rect x="171.7" y="536.6" width="1.1" height="3.4" fill="#3a3a3a"/>
<rect x="166.2" y="544.5" width="26" height="2.8" fill="#c4c4c4"/>
<text transform="translate(182.2,550.6) rotate(-90) scale(1.13,1)" text-anchor="end" font-size="7.1" fill="#1f1f1f" stroke="#000" stroke-width="0.15">4</text>
<rect x="193.2" y="536.1" width="22.3" height="4.4" fill="#9c9c9c" stroke="#1a1a1a" stroke-width="1.25"/>
<rect x="194.2" y="537.7" width="20.3" height="1.2" fill="#d2d2d2"/>
<rect x="197.4" y="536.6" width="1.1" height="3.4" fill="#3a3a3a"/>
<rect x="192.2" y="544.5" width="24.5" height="2.8" fill="#111111"/>
<text transform="translate(207.4,550.6) rotate(-90) scale(1.13,1)" text-anchor="end" font-size="7.1" fill="#1f1f1f" stroke="#000" stroke-width="0.15">5</text>
<rect x="217.8" y="536.1" width="21.1" height="4.4" fill="#9c9c9c" stroke="#1a1a1a" stroke-width="1.25"/>
<rect x="218.8" y="537.7" width="19.1" height="1.2" fill="#d2d2d2"/>
<rect x="223.9" y="536.6" width="1.1" height="3.4" fill="#3a3a3a"/>
<rect x="216.7" y="544.5" width="23.3" height="2.8" fill="#c4c4c4"/>
<text transform="translate(231.3,550.6) rotate(-90) scale(1.13,1)" text-anchor="end" font-size="7.1" fill="#1f1f1f" stroke="#000" stroke-width="0.15">6</text>
<rect x="241.1" y="536.1" width="19.5" height="4.4" fill="#9c9c9c" stroke="#1a1a1a" stroke-width="1.25"/>
<rect x="242.1" y="537.7" width="17.5" height="1.2" fill="#d2d2d2"/>
<rect x="246.7" y="536.6" width="1.1" height="3.4" fill="#3a3a3a"/>
<rect x="240" y="544.5" width="21.7" height="2.8" fill="#111111"/>
<text transform="translate(253.8,550.6) rotate(-90) scale(1.13,1)" text-anchor="end" font-size="7.1" fill="#1f1f1f" stroke="#000" stroke-width="0.15">7</text>
<rect x="262.8" y="536.1" width="17.4" height="4.4" fill="#9c9c9c" stroke="#1a1a1a" stroke-width="1.25"/>
<rect x="263.8" y="537.7" width="15.4" height="1.2" fill="#d2d2d2"/>
<rect x="266.9" y="536.6" width="1.1" height="3.4" fill="#3a3a3a"/>
<rect x="261.7" y="544.5" width="19.6" height="2.8" fill="#c4c4c4"/>
<text transform="translate(274.5,550.6) rotate(-90) scale(1.13,1)" text-anchor="end" font-size="7.1" fill="#1f1f1f" stroke="#000" stroke-width="0.15">8</text>
<rect x="282.4" y="536.1" width="16.8" height="4.4" fill="#9c9c9c" stroke="#1a1a1a" stroke-width="1.25"/>
<rect x="283.4" y="537.7" width="14.8" height="1.2" fill="#d2d2d2"/>
<rect x="287.2" y="536.6" width="1.1" height="3.4" fill="#3a3a3a"/>
<rect x="289" y="536.8" width="2.2" height="3" fill="#a9b060"/>
<rect x="281.3" y="544.5" width="19" height="2.8" fill="#111111"/>
<text transform="translate(293.8,550.6) rotate(-90) scale(1.13,1)" text-anchor="end" font-size="7.1" fill="#1f1f1f" stroke="#000" stroke-width="0.15">9</text>
<rect x="301.4" y="536.1" width="15.7" height="4.4" fill="#9c9c9c" stroke="#1a1a1a" stroke-width="1.25"/>
<rect x="302.4" y="537.7" width="13.7" height="1.2" fill="#d2d2d2"/>
<rect x="304.2" y="536.6" width="1.1" height="3.4" fill="#3a3a3a"/>
<rect x="300.3" y="544.5" width="17.9" height="2.8" fill="#c4c4c4"/>
<text transform="translate(312.2,550.6) rotate(-90) scale(1.13,1)" text-anchor="end" font-size="7.1" fill="#1f1f1f" stroke="#000" stroke-width="0.15">10</text>
<rect x="319.2" y="536.1" width="16.4" height="4.4" fill="#9c9c9c" stroke="#1a1a1a" stroke-width="1.25"/>
<rect x="320.2" y="537.7" width="14.4" height="1.2" fill="#d2d2d2"/>
<rect x="324" y="536.6" width="1.1" height="3.4" fill="#3a3a3a"/>
<rect x="318.2" y="544.5" width="18.6" height="2.8" fill="#111111"/>
<text transform="translate(330.5,550.6) rotate(-90) scale(1.13,1)" text-anchor="end" font-size="7.1" fill="#1f1f1f" stroke="#000" stroke-width="0.15">11</text>
<rect x="337.9" y="536.1" width="15.4" height="4.4" fill="#9c9c9c" stroke="#1a1a1a" stroke-width="1.25"/>
<rect x="338.9" y="537.7" width="13.4" height="1.2" fill="#d2d2d2"/>
<rect x="340.6" y="536.6" width="1.1" height="3.4" fill="#3a3a3a"/>
<rect x="336.8" y="544.5" width="17.6" height="2.8" fill="#c4c4c4"/>
<text transform="translate(348.6,550.6) rotate(-90) scale(1.13,1)" text-anchor="end" font-size="7.1" fill="#1f1f1f" stroke="#000" stroke-width="0.15">12</text>
<rect x="355.4" y="536.1" width="13.4" height="4.4" fill="#9c9c9c" stroke="#1a1a1a" stroke-width="1.25"/>
<rect x="356.4" y="537.7" width="11.4" height="1.2" fill="#d2d2d2"/>
<rect x="356.4" y="536.6" width="1.1" height="3.4" fill="#3a3a3a"/>
<rect x="354.4" y="544.5" width="15.6" height="2.8" fill="#111111"/>
<text transform="translate(365.2,550.6) rotate(-90) scale(1.13,1)" text-anchor="end" font-size="7.1" fill="#1f1f1f" stroke="#000" stroke-width="0.15">13</text>
<rect x="371.1" y="536.1" width="12.3" height="4.4" fill="#9c9c9c" stroke="#1a1a1a" stroke-width="1.25"/>
<rect x="372.1" y="537.7" width="10.3" height="1.2" fill="#d2d2d2"/>
<rect x="371.9" y="536.6" width="1.1" height="3.4" fill="#3a3a3a"/>
<rect x="370" y="544.5" width="14.5" height="2.8" fill="#c4c4c4"/>
<text transform="translate(380.2,550.6) rotate(-90) scale(1.13,1)" text-anchor="end" font-size="7.1" fill="#1f1f1f" stroke="#000" stroke-width="0.15">14</text>
<rect x="385.6" y="536.1" width="11.6" height="4.4" fill="#9c9c9c" stroke="#1a1a1a" stroke-width="1.25"/>
<rect x="386.6" y="537.7" width="9.6" height="1.2" fill="#d2d2d2"/>
<rect x="386.3" y="536.6" width="1.1" height="3.4" fill="#3a3a3a"/>
<rect x="384.5" y="544.5" width="13.8" height="2.8" fill="#111111"/>
<text transform="translate(394.4,550.6) rotate(-90) scale(1.13,1)" text-anchor="end" font-size="7.1" fill="#1f1f1f" stroke="#000" stroke-width="0.15">15</text>
<rect x="399.4" y="536.1" width="9.5" height="4.4" fill="#9c9c9c" stroke="#1a1a1a" stroke-width="1.25"/>
<rect x="400.4" y="537.7" width="7.5" height="1.2" fill="#d2d2d2"/>
<rect x="403.1" y="536.6" width="1.1" height="3.4" fill="#3a3a3a"/>
<rect x="403.1" y="536.8" width="2.2" height="3" fill="#a9b060"/>
<rect x="398.3" y="544.5" width="11.7" height="2.8" fill="#c4c4c4"/>
<text transform="translate(407.1,550.6) rotate(-90) scale(1.13,1)" text-anchor="end" font-size="7.1" fill="#1f1f1f" stroke="#000" stroke-width="0.15">16</text>
<rect x="411.1" y="536.1" width="8.7" height="4.4" fill="#9c9c9c" stroke="#1a1a1a" stroke-width="1.25"/>
<rect x="412.1" y="537.7" width="6.7" height="1.2" fill="#d2d2d2"/>
<rect x="413.5" y="536.6" width="1.1" height="3.4" fill="#3a3a3a"/>
<rect x="410" y="544.5" width="10.9" height="2.8" fill="#111111"/>
<text transform="translate(418.4,550.6) rotate(-90) scale(1.13,1)" text-anchor="end" font-size="7.1" fill="#1f1f1f" stroke="#000" stroke-width="0.15">17</text>
<rect x="421.9" y="536.1" width="7.8" height="4.4" fill="#9c9c9c" stroke="#1a1a1a" stroke-width="1.25"/>
<rect x="422.9" y="537.7" width="5.8" height="1.2" fill="#d2d2d2"/>
<rect x="423.2" y="536.6" width="1.1" height="3.4" fill="#3a3a3a"/>
<rect x="420.9" y="544.5" width="10" height="2.8" fill="#c4c4c4"/>
<text transform="translate(428.9,550.6) rotate(-90) scale(1.13,1)" text-anchor="end" font-size="7.1" fill="#1f1f1f" stroke="#000" stroke-width="0.15">18</text>
<rect x="431.9" y="536.1" width="6.9" height="4.4" fill="#9c9c9c" stroke="#1a1a1a" stroke-width="1.25"/>
<rect x="432.9" y="537.7" width="4.9" height="1.2" fill="#d2d2d2"/>
<rect x="435.4" y="536.6" width="1.1" height="3.4" fill="#3a3a3a"/>
<rect x="435" y="536.8" width="2.6" height="3" fill="#a9b060"/>
<rect x="430.9" y="544.5" width="9.1" height="2.8" fill="#111111"/>
<text transform="translate(438.4,550.6) rotate(-90) scale(1.13,1)" text-anchor="end" font-size="7.1" fill="#1f1f1f" stroke="#000" stroke-width="0.15">19</text>
<rect x="441.1" y="536.1" width="5.8" height="4.4" fill="#9c9c9c" stroke="#1a1a1a" stroke-width="1.25"/>
<rect x="442.1" y="537.7" width="3.8" height="1.2" fill="#d2d2d2"/>
<rect x="443.6" y="536.6" width="1.1" height="3.4" fill="#3a3a3a"/>
<rect x="440" y="544.5" width="8" height="2.8" fill="#c4c4c4"/>
<text transform="translate(447,550.6) rotate(-90) scale(1.13,1)" text-anchor="end" font-size="7.1" fill="#1f1f1f" stroke="#000" stroke-width="0.15">20</text>
<rect x="449.1" y="536.1" width="4.5" height="4.4" fill="#9c9c9c" stroke="#1a1a1a" stroke-width="1.25"/>
<rect x="450.1" y="537.7" width="2.5" height="1.2" fill="#d2d2d2"/>
<rect x="450.2" y="536.6" width="1.1" height="3.4" fill="#3a3a3a"/>
<rect x="448" y="544.5" width="6.7" height="2.8" fill="#111111"/>
<text transform="translate(454.4,550.6) rotate(-90) scale(1.13,1)" text-anchor="end" font-size="7.1" fill="#1f1f1f" stroke="#000" stroke-width="0.15">21</text>
<rect x="455.8" y="536.1" width="5.6" height="4.4" fill="#9c9c9c" stroke="#1a1a1a" stroke-width="1.25"/>
<rect x="456.8" y="537.7" width="3.6" height="1.2" fill="#d2d2d2"/>
<rect x="457.2" y="536.6" width="1.1" height="3.4" fill="#3a3a3a"/>
<rect x="454.7" y="544.5" width="7.8" height="2.8" fill="#c4c4c4"/>
<text transform="translate(461.6,550.6) rotate(-90) scale(1.13,1)" text-anchor="end" font-size="7.1" fill="#1f1f1f" stroke="#000" stroke-width="0.15">22</text>
<path d="M72.7,404.6 V544.1" stroke="#222" stroke-width="1.2" fill="none"/>
<text x="68.9" y="645.7" text-anchor="end" font-size="9.1" fill="#1f1f1f" stroke="#1f1f1f" stroke-width="0.3">0.50</text>
<text x="68.9" y="667.8" text-anchor="end" font-size="9.1" fill="#1f1f1f" stroke="#1f1f1f" stroke-width="0.3">0.25</text>
<text x="68.9" y="689.9" text-anchor="end" font-size="9.1" fill="#1f1f1f" stroke="#1f1f1f" stroke-width="0.3">0.00</text>
<text x="68.9" y="712" text-anchor="end" font-size="9.1" fill="#1f1f1f" stroke="#1f1f1f" stroke-width="0.3">−0.25</text>
<text x="68.9" y="734.1" text-anchor="end" font-size="9.1" fill="#1f1f1f" stroke="#1f1f1f" stroke-width="0.3">−0.50</text>
<text transform="translate(10.1,691.7) rotate(-90)" text-anchor="middle" font-size="9.45" fill="#1f1f1f" stroke="#1f1f1f" stroke-width="0.3">Gene expression</text>
<text transform="translate(22.6,691.7) rotate(-90)" text-anchor="middle" font-size="9.45" fill="#1f1f1f" stroke="#1f1f1f" stroke-width="0.3">ratio (log2)</text>
<path d="M73.1,684.6 73.6,685.1 74.1,685 74.7,683.8 75.2,686.8 75.7,685.7 76.2,685.6 76.8,685.3 77.3,686.4 77.8,687.1 78.4,688.4 78.9,686.7 79.4,684.9 79.9,686.6 80.5,685.5 81,685.2 81.5,684.6 82,683 82.6,685.2 83.1,684.6 83.6,683.7 84.2,682.6 84.7,683 85.2,682.7 85.8,683 86.3,684.7 86.8,683.1 87.4,683.3 87.9,683.5 88.4,682.7 88.9,682.7 89.5,683.5 90,684.3 90.5,683.5 91,683.3 91.6,682.5 92.1,682.2 92.6,681.4 93.2,681.3 93.7,680.4 94.2,680.8 94.7,678.4 95.3,679.1 95.8,676.4 96.3,675.1 96.8,674.9 97.4,675.8 97.9,676.2 98.4,677.1 99,676.5 99.5,677.7 100,678.1 100.6,679.1 101.1,679.7 101.6,681.5 102.1,681.6 102.7,682.4 103.2,683.5 103.7,683.8 104.3,683.5 104.8,683.6 105.3,682.5 105.8,683.1 106.4,683.9 106.9,683 107.4,683.4 108,682.9 108.5,684.8 109,683.2 109.6,687 110.1,685.1 110.6,685.7 111.1,685.3 111.7,685.3 112.2,685.5 112.7,685.2 113.2,686.2 113.7,685.8 114.3,685.7 114.8,685.9 115.3,684.4 115.9,683.9 116.4,684.1 116.9,683.1 117.5,682.2 118,681.3 118.5,680.4 119,678.8 119.6,677.7 120.1,679 120.7,675.9 121.2,675.1 121.7,676.2 122.2,677.6 122.8,678.7 123.3,680 123.8,681.4 124.3,680.7 124.9,680.6 125.4,681 125.9,679.3 126.5,678.5 127,679.3 127.5,679.8 128,678.2 128.6,679.1 129.1,680.1 129.6,679.5 130.1,680.4 130.6,680.2 131.2,682 131.7,681 132.3,680.3 132.8,682 133.3,683.4 133.9,684.7 134.4,685.7 134.9,685.1 135.4,685.9 135.9,686.4 136.5,684.7 137,685.7 137.5,685.1 138,686.5 138.6,686.8 139.1,688.3 139.6,687.9 140.2,689 140.7,689.9 141.2,689 141.8,691.5 142.3,689.8 142.8,689.6 143.3,690.8 143.8,689.1 144.4,689.2 144.9,688.8 145.4,688 146,685.2 146.5,683.3 147.1,682.5 147.6,680.4 148.1,681 148.6,682.4 149.2,683.4 149.7,685.2 150.2,686.7 150.7,686 151.3,685.3 151.8,685.3 152.3,684.9 152.9,683.1 153.4,682.5 153.9,683.7 154.5,683.9 155,685.3 155.5,685.3 156.1,683.9 156.6,685.7 157.1,686.2 157.7,687.2 158.2,687.6 158.7,689.5 159.2,691.2 159.8,692.5 160.3,692 160.8,690.8 161.3,692.1 161.9,691.7 162.4,692.2 162.9,690.9 163.4,688.8 163.9,687.4 164.5,685.3 165,683.5 165.5,683.9 166.1,682.1 166.6,679.5 167.1,679.7 167.7,677.1 168.2,677.2 168.8,676.2 169.4,675.9 170,675.4 170.5,673.7 171.1,674.7 171.6,675.5 172.1,677.3 172.7,676 173.2,676.4 173.7,676.2 174.2,675.6 174.8,675.7 175.3,675.7 175.8,675.8 176.3,676.4 176.9,678.6 177.4,678.8 177.9,679.6 178.5,680.7 179,682.1 179.6,681.5 180.1,681.2 180.6,680.7 181.1,680.9 181.6,680.8 182.2,683.6 182.7,683.7 183.2,684.9 183.7,684.5 184.3,682.2 184.8,682.9 185.3,683.9 185.8,682.5 186.4,682.7 186.9,681.7 187.4,682.1 188,681.9 188.5,680.2 189,681 189.6,680.2 190.1,681.2 190.6,680.8 191.2,681.5 191.7,682.3 192.2,680.3 192.8,681.8 193.3,680.7 193.8,681.6 194.3,680.3 194.9,680.8 195.4,679 195.9,679 196.4,680.1 196.9,679 197.5,679.1 198,678.6 198.6,677.5 199.1,677.5 199.6,677.2 200.1,675.5 200.7,675.5 201.2,674.8 201.7,675.2 202.2,676.8 202.8,675.9 203.3,677.8 203.8,678 204.3,677.6 204.9,679 205.4,679 206,678.1 206.5,679.1 207,680.4 207.5,680.3 208.1,680.1 208.6,680.5 209.1,681.4 209.6,681.7 210.1,682.8 210.7,684 211.2,684.1 211.8,685.4 212.3,685.9 212.8,684.9 213.4,684.9 213.9,683.4 214.4,683.3 215,683.6 215.5,682.8 216,683.8 216.5,684.7 217.1,685.4 217.6,686.6 218.1,687.5 218.6,687.4 219.1,689.3 219.7,690.3 220.2,689.1 220.7,691.8 221.2,690.2 221.8,688.3 222.3,687.3 222.9,685.9 223.4,686.8 223.9,686 224.4,683.4 225,684.3 225.5,684 226,685.4 226.5,683.6 227.1,686.1 227.6,683 228.1,684.6 228.7,683.7 229.2,683.8 229.7,682.1 230.2,681.4 230.8,681 231.3,678.3 231.8,678.5 232.3,678.3 232.9,677.6 233.4,677.8 234,676.4 234.5,676.4 235,675.6 235.6,675.7 236.1,676.1 236.6,675.8 237.2,676.5 237.7,676.4 238.2,675.7 238.7,678.4 239.2,676.6 239.8,676.6 240.3,676.2 240.8,677.5 241.3,676.7 241.9,678.4 242.4,679.6 242.9,677.7 243.5,678 244,678 244.5,678.9 245.1,678.8 245.6,681.2 246.1,681.8 246.7,682.1 247.2,682.8 247.7,682.9 248.2,684 248.8,684.5 249.3,684.2 249.8,684.7 250.3,685.9 250.8,686.7 251.4,687.4 251.9,687 252.4,688.3 253,689.6 253.5,690.2 254,690.4 254.6,691.1 255.1,689.1 255.7,692.1 256.2,690.2 256.7,687.4 257.2,686.8 257.7,684.9 258.2,684.8 258.8,684.9 259.3,683.3 259.8,684.4 260.4,685 260.9,684.9 261.4,685.1 262,685 262.5,684.5 263,683.7 263.6,685.3 264.1,683.8 264.6,682 265.1,680.5 265.7,679.8 266.2,677.5 266.8,678.5 267.4,677.6 268,679.2 268.5,678.1 269,679.4 269.5,679.8 270,678.3 270.5,678.9 271,677.5 271.5,678 272,677.8 272.5,677.7 273,678 273.6,678.2 274.1,678.4 274.6,678.7 275.2,680.7 275.8,680.1 276.3,680.3 276.8,681.8 277.4,681.1 278,682 278.6,682.7 279.2,683 279.8,683.6 280.4,684.7 281.1,687 281.7,688.6 282.2,689.2 282.7,687.1 283.2,687.4 283.7,685.6 284.2,685.5 284.7,684.2 285.2,683.7 285.7,681.6 286.2,682 286.7,679.9 287.2,681 287.8,680.6 288.3,680 288.8,680.9 289.3,679.6 289.9,679.7 290.4,679.9 290.9,681.2 291.5,680.7 292,680.6 292.6,682 293.1,682.4 293.7,682.4 294.2,682.4 294.7,683 295.2,684.1 295.8,683.4 296.3,685.9 296.8,685.4 297.3,686.1 297.8,684.9 298.3,684.4 298.9,683.2 299.4,681.1 299.9,681.8 300.4,679.2 300.9,679.6 301.5,677.6 302,679.6 302.6,677.5 303.1,678.4 303.7,679.4 304.2,678 304.7,679.1 305.3,677.5 305.8,677.3 306.3,677.9 306.8,677.6 307.4,678.5 307.9,678.6 308.4,680.2 308.9,679.4 309.4,680.5 310,683.6 310.5,682.7 311,684.2 311.6,684.3 312.1,683.5 312.6,683.9 313.2,683.3 313.8,683.6 314.3,682.3 314.8,683 315.4,683 315.9,683 316.5,682.5 317,683.2 317.5,682.5 318,681.9 318.6,680.3 319.1,681.1 319.6,680.6 320.2,681.2 320.7,682 321.3,682.8 321.8,682.6 322.4,683.1 322.9,683.6 323.4,684.9 324,685.8 324.5,687.1 325,687.7 325.5,688.6 326.1,690.8 326.6,691.1 327.1,688.2 327.7,689.2 328.2,686.3 328.7,685.7 329.2,684.3 329.8,681.3 330.3,680.5 330.8,680.6 331.4,680.3 331.9,680.4 332.5,680.9 333,682.6 333.6,682.4 334.1,682.4 334.6,681.5 335.2,682.1 335.7,681.7 336.2,680.6 336.7,681.6 337.3,681.1 337.8,679.9 338.3,679.6 338.8,682.2 339.3,682.3 339.8,682.4 340.3,683 340.8,681.5 341.3,680.2 341.8,678.7 342.3,677.1 342.8,676.1 343.3,677.1 343.9,677.7 344.4,678.4 345,678.8 345.5,679.3 346.1,679.9 346.6,681.1 347.1,683.6 347.7,683.3 348.2,683.8 348.7,684.4 349.2,686.1 349.8,687.2 350.3,687.3 350.9,688.5 351.6,690.7 352.2,692.3 352.8,689.9 353.4,687.3 354,686.1 354.5,686.1 355.1,685.1 355.6,685.8 356.1,684.9 356.7,685.6 357.2,685.5 357.7,685.1 358.2,684.6 358.8,683.8 359.3,683.2 359.8,683.1 360.3,683 360.8,683.6 361.3,682.5 361.8,683.4 362.3,683.3 362.8,682.4 363.3,683 363.8,682.3 364.3,683.7 364.8,681.9 365.3,683 366,682.3 366.5,680.9 367.1,682.1 367.6,681.2 368.1,681.1 368.6,681.8 369.2,682.4 369.7,681.1 370.2,680.8 370.8,682.3 371.3,683 371.8,683.9 372.4,684.9 372.9,684.8 373.4,684 373.9,684.2 374.4,684.8 375,683.3 375.5,682.6 376,682.3 376.5,682.3 377,682.3 377.5,682.7 378,679.7 378.5,679.9 379,679.8 379.5,681.4 380,681.6 380.5,683.1 381,683.6 381.5,684.2 382.1,683.9 382.6,682.3 383.1,684.7 383.6,684.4 384.2,684.7 384.7,684.8 385.2,684.5 385.8,683.3 386.3,684.2 386.8,684.7 387.3,683.1 387.9,685.1 388.4,684.8 388.9,684.2 389.5,685.7 390,685 390.6,685.8 391.1,686.2 391.7,686.9 392.2,687.3 392.7,687.3 393.3,687 393.8,688.2 394.3,687.2 394.8,687.2 395.4,688.7 395.9,688 396.4,686.9 396.9,685.1 397.4,684.5 398,683.5 398.5,681.3 399,680.5 399.5,680.5 400.1,682.7 400.6,684.7 401.1,686.5 401.7,686 402.2,687.3 402.7,687.8 403.3,688.6 403.8,687.5 404.4,688.4 404.9,688.3 405.5,688.6 406,689 406.6,689.4 407.1,689.8 407.6,687.9 408.2,688.1 408.7,686.2 409.3,686.3 409.8,685.3 410.4,685.1 410.9,683.6 411.4,684.4 412,685.4 412.5,685.6 413,686.9 413.5,685.3 414.1,687.1 414.6,687.3 415.1,687.7 415.7,688.1 416.2,687 416.8,687.3 417.3,685.2 417.9,688.1 418.4,687.3 418.9,688.1 419.4,685.1 419.9,684.7 420.4,683.7 420.9,681.7 421.4,682 422,682.1 422.5,681.1 423,681.9 423.5,682.1 424.1,680.7 424.6,682.3 425.1,683.6 425.7,681.8 426.2,682.9 426.7,683.3 427.2,683.2 427.8,681.8 428.3,683 428.8,683.3 429.3,683 429.8,684.8 430.3,684.9 430.8,684.8 431.3,686.3 431.8,687.8 432.3,689.2 432.8,692.3 433.3,692.3 433.8,691.6 434.3,692.5 434.8,693.3 435.3,691.5 435.8,691.1 436.4,695.1 437.1,698.4 437.7,702.3 438.3,697.8 439,693.9 439.6,689.8 440.1,690.5 440.6,688.2 441.1,688.6 441.6,688.3 442.1,687.3 442.6,688.6 443.1,688.5 443.6,691.5 444.2,692.3 444.7,691.9 445.2,693.6 445.7,694.1 446.2,696.8 446.8,696.7 447.3,697.4 447.8,698.1 448.3,699.8 448.8,699.7 449.4,697.7 449.9,699.5 450.4,697.7 450.9,695.3 451.5,696.4 452,696.1 452.5,696.4 453.1,696.4 453.6,697.1 454.2,696.8 454.7,697.1 455.3,697.7 455.8,697.9 456.3,696.5 456.8,696 457.4,693.9 457.9,693 458.4,692.4 458.9,689.8 459.4,687.6 459.9,685.9 460.4,683.6 460.9,680.4 461.4,678.6" fill="none" stroke="#2b4a9c" stroke-width="1.5" stroke-linejoin="round"/>
<path d="M73.1,666.6 73.6,667.3 74.1,667.2 74.6,666.6 75.2,671.1 75.7,676.1 76.2,682.9 76.8,689.9 77.3,696 77.8,703.6 78.3,701.3 78.9,700 79.4,698.3 79.9,699.3 80.5,699.1 81,699.4 81.5,700.9 82,703.6 82.5,701.8 83.1,699.4 83.6,697.3 84.1,695.5 84.7,693.8 85.2,690.9 85.7,692.7 86.3,692.7 86.8,695.2 87.3,691.4 87.9,689.1 88.4,685.7 88.9,683.8 89.4,681.4 89.9,681.5 90.5,681.3 91,681 91.6,680.4 92.1,680.9 92.6,681.1 93.2,686 93.7,686.7 94.3,687.9 95,692 95.6,687.8 96.2,684.3 96.8,680.4 97.3,680.5 97.9,678.8 98.5,677.7 99,678.8 99.5,676.9 100,678.1 100.6,676.9 101.1,675.1 101.6,677.8 102.2,678.2 102.7,680.4 103.2,682.5 103.7,683.7 104.2,686.7 104.7,690.2 105.3,693 105.8,697.3 106.3,698.1 106.9,699.5 107.4,699.8 108,699.4 108.5,701.5 109,702.3 109.5,704.4 110.1,705.2 110.6,706.8 111.1,708.9 111.7,704.2 112.2,706.3 112.7,703.6 113.2,702 113.7,699 114.3,698.1 114.8,697.1 115.3,695.2 115.8,693.3 116.4,692.5 117,691 117.5,689.9 118,687.1 118.5,688.3 119,684.6 119.5,686 120.1,685.7 120.7,688.6 121.2,689.9 121.7,692.2 122.2,695.4 122.8,698.2 123.3,701 123.8,702.6 124.3,701.4 124.8,699.8 125.4,695.5 125.9,696.2 126.4,694.7 127,698.4 127.5,700.9 128,701.5 128.5,703.5 129.1,705.5 129.6,709.4 130.1,706.6 130.7,706.4 131.2,704.7 131.7,701.8 132.2,701 132.8,697.3 133.3,696.2 133.8,695.6 134.4,691.7 134.9,688.6 135.4,686.7 135.9,685.8 136.4,685.3 137,684.6 137.5,683.5 138.1,683.4 138.6,682.2 139.1,682.4 139.7,681.4 140.2,682.1 140.8,682.9 141.3,684.4 141.8,685.7 142.3,686 142.8,682.7 143.4,679.4 143.9,676.6 144.4,675.1 144.9,680 145.5,684.8 146,689.9 146.5,688.7 147.1,687.7 147.6,687.3 148.1,685.7 148.6,688.1 149.2,686.3 149.7,687.9 150.3,688.8 150.8,688.8 151.3,687.7 151.8,689.1 152.4,689.8 152.9,690.1 153.4,689.9 153.9,692.3 154.5,694.6 155,697.3 155.5,697.9 156,696.9 156.6,697.5 157.1,695.8 157.6,696.2 158.1,697.8 158.7,699.5 159.2,701.3 159.8,703 160.3,704.7 160.8,702.6 161.4,701.1 161.9,700.5 162.4,698.3 162.9,695 163.4,691.4 164,689.2 164.5,685.7 165,684.6 165.6,681.9 166.1,679.1 166.6,678.3 167.1,677.9 167.7,676 168.2,674.2 168.8,675.2 169.3,673.5 170,677 170.5,675 171.1,676 171.6,675.4 172.1,678.5 172.6,681.7 173.1,686.5 173.7,692.3 174.2,692.2 174.8,694.4 175.3,693.7 175.8,695.5 176.3,697.5 176.9,698.2 177.4,700.7 177.9,699.3 178.4,697 179,696.1 179.5,695.5 180,695.9 180.6,696 181.1,694.3 181.6,694.4 182.1,695.4 182.6,694.2 183.2,694.2 183.7,693.3 184.2,692.8 184.8,693.1 185.3,692.2 185.9,693.3 186.4,693.1 186.9,690.1 187.5,689.4 188,689.1 188.5,687.6 189,684.4 189.6,685.1 190.1,683.5 190.6,681.7 191.1,682.5 191.6,683.1 192.2,684.4 192.7,685.9 193.2,686.7 193.8,687.5 194.3,687.7 194.8,690.2 195.3,687.2 195.9,690.1 196.4,690.2 197,692.1 197.5,691.8 198,691.3 198.6,690.6 199.1,691.1 199.6,690.2 200.1,687.7 200.7,688 201.2,685.9 201.7,688.9 202.3,690.7 202.8,694.4 203.3,693.5 203.9,691 204.4,691.3 204.9,690.2 205.4,688.8 205.9,685.6 206.5,686.8 207,682.8 207.5,682.7 208.1,679.5 208.6,677.5 209.1,679 209.7,679.5 210.2,680.7 210.7,685 211.3,689.7 211.8,694.4 212.3,694 212.9,692.4 213.4,692.1 213.9,692.3 214.4,696.4 214.9,699.4 215.5,703.6 216,707.1 216.5,704 217.1,698.6 217.6,694.4 218.1,692.6 218.6,691.1 219.2,688.7 219.7,687 220.3,680.1 221,672.2 221.7,679.9 222.3,688.1 222.9,694.5 223.4,700.7 223.9,701.3 224.4,700.8 225,701.7 225.5,702.5 226,702.9 226.5,703 227.1,704.2 227.6,703.3 228.2,705.2 228.7,705 229.2,706.2 229.8,707 230.3,707.6 230.8,709.2 231.3,706.2 231.9,704.4 232.4,699.7 232.9,699.1 233.4,697.9 234,697.8 234.5,697.6 235,697.2 235.6,693.9 236.1,693.5 236.6,692.3 237.1,689.8 237.6,688.7 238.2,687.2 238.7,685.9 239.2,688.4 239.8,691.8 240.3,693.3 240.8,689.1 241.4,687.1 241.9,684.9 242.4,684.6 242.9,683.1 243.5,682.4 244,681.7 244.5,680 245.1,679 245.6,679.1 246.1,678.5 246.6,677.3 247.1,676.7 247.7,676.9 248.2,675.4 248.7,672.6 249.3,669.8 249.8,667.4 250.3,670.8 250.9,672 251.4,674.3 251.9,677.8 252.4,678.7 253,680.5 253.5,682.8 254,683.6 254.6,681.9 255.1,682.7 255.6,681.7 256.1,680.9 256.6,680.2 257.2,678.4 257.7,676.4 258.2,674.7 258.8,675.8 259.3,676.5 259.9,676.4 260.4,676.4 260.9,677.3 261.5,677.5 262,677.5 262.5,677.2 263,674.3 263.5,677.4 264.1,679.2 264.6,681.7 265.1,686.7 265.7,692.1 266.2,697.6 266.7,702 267.3,705.4 267.8,709.2 268.4,711.7 268.9,712.5 269.5,712.3 270,717.3 270.5,722.3 271.1,720.7 271.8,717.3 272.4,714.8 273,716.4 273.6,717.4 274.2,717.3 274.8,716.5 275.5,713.9 276.1,712.3 276.6,713.7 277.1,713.4 277.6,712.3 278.1,712.5 278.6,712.3 279.2,710.7 279.9,707.9 280.5,706 281.1,700.1 281.7,694.8 282.4,692.3 283,691.1 283.6,691.5 284.2,694.3 284.8,693.6 285.4,695.2 286.1,697.1 286.7,698.6 287.2,699.1 287.7,698.2 288.2,697.6 288.7,700.4 289.2,699.8 289.8,700.8 290.5,700.4 291.1,701.1 291.6,700 292.1,699 292.6,698.2 293.1,697.4 293.6,696.1 294.1,697.3 294.6,697.4 295.1,696.7 295.6,696.4 296.1,697.3 296.7,694.6 297.3,693.1 297.9,692.3 298.5,687.1 299.2,679.9 299.8,680.9 300.4,682 301,682.4 301.6,682.5 302.3,686 302.9,686.1 303.4,687.5 303.9,687 304.4,687.6 304.9,686.9 305.4,687.3 306,690.1 306.7,691 307.3,693.6 307.9,696.1 308.5,697.4 309.1,697.3 309.7,694.8 310.4,693.6 311,691.1 311.5,690.4 312,689.1 312.6,688.1 313.1,688.4 313.6,686 314.1,686.1 314.6,687.1 315.1,685 315.6,684.8 316.1,684 316.6,683.6 317.2,681.1 317.9,678.8 318.5,674.9 319.1,674.8 319.8,669.4 320.4,668.6 320.9,669.3 321.4,668.9 321.9,670 322.4,670.3 322.9,671.1 323.4,670.3 323.9,670.4 324.4,669.3 324.9,669.1 325.4,668.6 326,667.6 326.6,666.1 327.1,677.8 327.6,689.8 328.1,692.2 328.6,694.9 329.1,696.1 329.6,696.1 330.1,696.3 330.6,695.3 331.1,697.3 331.6,694.8 332.2,694.8 332.9,690.3 333.5,689.8 334.1,686.7 334.7,682.2 335.3,679.9 335.9,673.7 336.6,670.5 337.2,664.9 337.8,663.8 338.5,662.1 339.1,661.2 339.6,663.5 340.1,664.2 340.6,665.4 341.1,666 341.6,668.6 342.2,664.2 342.8,661.2 343.4,657.4 344,658.7 344.7,659.4 345.3,661.2 345.8,659.7 346.3,658.3 346.8,656.4 347.3,655.7 347.8,653.7 348.3,653.3 348.8,652.2 349.3,653.1 349.8,651.2 350.3,651.2 350.9,651.4 351.6,650.6 352.2,648.7 352.8,653.1 353.4,659 354,663.7 354.5,664.7 355,663.3 355.5,662.9 356,665.4 356.5,664.9 357.1,670.4 357.8,674.6 358.4,679.9 358.9,684.2 359.4,685.6 359.9,688 360.4,692 360.9,694.8 361.4,695.7 361.9,695.5 362.4,698 362.9,697.3 363.4,697.3 363.9,697.3 364.4,699 364.9,700.7 365.4,701.4 365.9,702.3 366.4,701.8 366.9,701.9 367.5,703.1 368,700.8 368.5,702.3 369,704.4 369.5,704.2 370,704 370.5,706.1 371,707.3 371.6,710.2 372.3,713.2 372.9,717.3 373.5,712.7 374.1,709.8 374.6,709.9 375.1,710.2 375.6,708.1 376.1,708.7 376.6,707.3 377.2,705.1 377.8,702.3 378.5,692.8 379.1,682.3 379.7,675.6 380.3,667.4 380.9,667.1 381.6,665.8 382.2,666.1 382.9,664.7 383.5,662.4 384.1,665.8 384.7,667.4 385.2,667.4 385.7,666.9 386.2,669.6 386.7,667.5 387.2,667.4 387.8,670.1 388.5,672.2 389.1,674.9 389.7,677 390.3,680.4 390.9,683.6 391.5,690.3 392.2,695.7 392.8,702.3 393.5,697.9 394.1,692.3 394.7,686.3 395.3,681 395.9,676.1 396.5,672.6 397.2,667.7 397.8,663 398.4,666.2 399.1,667.3 399.7,671.1 400.2,672.6 400.7,673.1 401.2,675.8 401.7,676 402.2,677.4 402.8,675.1 403.4,670.5 404,667.4 404.6,669.6 405.3,671.4 405.9,673.6 406.4,671.8 406.9,673.1 407.4,673.9 407.9,672.8 408.4,673.6 409,676.1 409.7,678.4 410.3,681.1 410.9,683.7 411.5,686.7 412.1,688.6 412.7,684.7 413.4,681.3 414,678.6 414.6,668.3 415.3,657.4 415.9,652.1 416.5,644 417.1,639.3 417.7,641.4 418.4,646.5 419,649.9 419.6,656.6 420.3,663.7 420.9,671.1 421.4,671.7 421.9,669.9 422.4,669.6 422.9,671.1 423.4,669.9 423.9,671 424.4,672.2 424.9,674.1 425.4,675.3 425.9,676.1 426.5,670.5 427.1,666 427.7,661.1 428.3,660.3 429,662.3 429.6,661.1 430.2,655.3 430.9,650.9 431.5,644.9 432.1,655.5 432.7,668.1 433.3,678.6 434,672.8 434.6,667.4 435.1,660.9 435.6,651 436.1,643.7 436.6,648.9 437.2,654.1 437.7,659.9 438.3,668.7 438.9,679.9 439.5,675.7 440.2,670.9 440.8,664.9 441.3,665.8 441.8,668.4 442.3,669.8 442.8,669.8 443.3,671.1 443.9,673.4 444.6,675.5 445.2,678.6 445.8,682.4 446.4,684.3 447,691.1 447.5,690.7 448,693.3 448.5,691 449,692.4 449.5,692.3 450,691.6 450.6,691.1 451.1,689.5 451.6,690 452.2,689.1 452.7,688.6 453.2,688.4 453.7,689.5 454.2,689.9 454.7,690.5 455.2,691.1 455.8,690 456.4,687.9 457,685.7 457.6,684.8 458.2,680.9 458.9,677.4 459.8,704.8 460.3,706.4 460.9,709.5 461.4,711" fill="none" stroke="#e6403f" stroke-width="1.5" stroke-linejoin="round"/>
<text x="82.7" y="729.3" font-size="10.6" fill="#d8343c" textLength="67.2" lengthAdjust="spacingAndGlyphs" stroke="#d8343c" stroke-width="0.3">SRR1693240</text>
<text x="82.7" y="743.8" font-size="10.6" fill="#2d3f89" textLength="61" lengthAdjust="spacingAndGlyphs" stroke="#2d3f89" stroke-width="0.3">SRR771470</text>
<rect x="74.3" y="750.7" width="31" height="4.4" fill="#9c9c9c" stroke="#1a1a1a" stroke-width="1.25"/>
<rect x="75.3" y="752.3" width="29" height="1.2" fill="#d2d2d2"/>
<rect x="89.2" y="751.2" width="1.1" height="3.4" fill="#3a3a3a"/>
<rect x="90.3" y="751.4" width="2.6" height="3" fill="#b5bd6a"/>
<rect x="99.3" y="751.4" width="1.4" height="3" fill="#e8e8e8"/>
<rect x="73.3" y="759.4" width="33.2" height="2.8" fill="#111111"/>
<text transform="translate(92.9,765.6) rotate(-90) scale(1.13,1)" text-anchor="end" font-size="7.1" fill="#1f1f1f" stroke="#000" stroke-width="0.15">1</text>
<rect x="107.5" y="750.7" width="30.3" height="4.4" fill="#9c9c9c" stroke="#1a1a1a" stroke-width="1.25"/>
<rect x="108.5" y="752.3" width="28.3" height="1.2" fill="#d2d2d2"/>
<rect x="117.4" y="751.2" width="1.1" height="3.4" fill="#3a3a3a"/>
<rect x="106.5" y="759.4" width="32.5" height="2.8" fill="#c4c4c4"/>
<text transform="translate(125.8,765.6) rotate(-90) scale(1.13,1)" text-anchor="end" font-size="7.1" fill="#1f1f1f" stroke="#000" stroke-width="0.15">2</text>
<rect x="140.1" y="750.7" width="25" height="4.4" fill="#9c9c9c" stroke="#1a1a1a" stroke-width="1.25"/>
<rect x="141.1" y="752.3" width="23" height="1.2" fill="#d2d2d2"/>
<rect x="151.2" y="751.2" width="1.1" height="3.4" fill="#3a3a3a"/>
<rect x="139" y="759.4" width="27.2" height="2.8" fill="#111111"/>
<text transform="translate(155.6,765.6) rotate(-90) scale(1.13,1)" text-anchor="end" font-size="7.1" fill="#1f1f1f" stroke="#000" stroke-width="0.15">3</text>
<rect x="167.2" y="750.7" width="23.8" height="4.4" fill="#9c9c9c" stroke="#1a1a1a" stroke-width="1.25"/>
<rect x="168.2" y="752.3" width="21.8" height="1.2" fill="#d2d2d2"/>
<rect x="171.7" y="751.2" width="1.1" height="3.4" fill="#3a3a3a"/>
<rect x="166.2" y="759.4" width="26" height="2.8" fill="#c4c4c4"/>
<text transform="translate(182.2,765.6) rotate(-90) scale(1.13,1)" text-anchor="end" font-size="7.1" fill="#1f1f1f" stroke="#000" stroke-width="0.15">4</text>
<rect x="193.2" y="750.7" width="22.3" height="4.4" fill="#9c9c9c" stroke="#1a1a1a" stroke-width="1.25"/>
<rect x="194.2" y="752.3" width="20.3" height="1.2" fill="#d2d2d2"/>
<rect x="197.4" y="751.2" width="1.1" height="3.4" fill="#3a3a3a"/>
<rect x="192.2" y="759.4" width="24.5" height="2.8" fill="#111111"/>
<text transform="translate(207.4,765.6) rotate(-90) scale(1.13,1)" text-anchor="end" font-size="7.1" fill="#1f1f1f" stroke="#000" stroke-width="0.15">5</text>
<rect x="217.8" y="750.7" width="21.1" height="4.4" fill="#9c9c9c" stroke="#1a1a1a" stroke-width="1.25"/>
<rect x="218.8" y="752.3" width="19.1" height="1.2" fill="#d2d2d2"/>
<rect x="223.9" y="751.2" width="1.1" height="3.4" fill="#3a3a3a"/>
<rect x="216.7" y="759.4" width="23.3" height="2.8" fill="#c4c4c4"/>
<text transform="translate(231.3,765.6) rotate(-90) scale(1.13,1)" text-anchor="end" font-size="7.1" fill="#1f1f1f" stroke="#000" stroke-width="0.15">6</text>
<rect x="241.1" y="750.7" width="19.5" height="4.4" fill="#9c9c9c" stroke="#1a1a1a" stroke-width="1.25"/>
<rect x="242.1" y="752.3" width="17.5" height="1.2" fill="#d2d2d2"/>
<rect x="246.7" y="751.2" width="1.1" height="3.4" fill="#3a3a3a"/>
<rect x="240" y="759.4" width="21.7" height="2.8" fill="#111111"/>
<text transform="translate(253.8,765.6) rotate(-90) scale(1.13,1)" text-anchor="end" font-size="7.1" fill="#1f1f1f" stroke="#000" stroke-width="0.15">7</text>
<rect x="262.8" y="750.7" width="17.4" height="4.4" fill="#9c9c9c" stroke="#1a1a1a" stroke-width="1.25"/>
<rect x="263.8" y="752.3" width="15.4" height="1.2" fill="#d2d2d2"/>
<rect x="266.9" y="751.2" width="1.1" height="3.4" fill="#3a3a3a"/>
<rect x="261.7" y="759.4" width="19.6" height="2.8" fill="#c4c4c4"/>
<text transform="translate(274.5,765.6) rotate(-90) scale(1.13,1)" text-anchor="end" font-size="7.1" fill="#1f1f1f" stroke="#000" stroke-width="0.15">8</text>
<rect x="282.4" y="750.7" width="16.8" height="4.4" fill="#9c9c9c" stroke="#1a1a1a" stroke-width="1.25"/>
<rect x="283.4" y="752.3" width="14.8" height="1.2" fill="#d2d2d2"/>
<rect x="287.2" y="751.2" width="1.1" height="3.4" fill="#3a3a3a"/>
<rect x="289" y="751.4" width="2.2" height="3" fill="#a9b060"/>
<rect x="281.3" y="759.4" width="19" height="2.8" fill="#111111"/>
<text transform="translate(293.8,765.6) rotate(-90) scale(1.13,1)" text-anchor="end" font-size="7.1" fill="#1f1f1f" stroke="#000" stroke-width="0.15">9</text>
<rect x="301.4" y="750.7" width="15.7" height="4.4" fill="#9c9c9c" stroke="#1a1a1a" stroke-width="1.25"/>
<rect x="302.4" y="752.3" width="13.7" height="1.2" fill="#d2d2d2"/>
<rect x="304.2" y="751.2" width="1.1" height="3.4" fill="#3a3a3a"/>
<rect x="300.3" y="759.4" width="17.9" height="2.8" fill="#c4c4c4"/>
<text transform="translate(312.2,765.6) rotate(-90) scale(1.13,1)" text-anchor="end" font-size="7.1" fill="#1f1f1f" stroke="#000" stroke-width="0.15">10</text>
<rect x="319.2" y="750.7" width="16.4" height="4.4" fill="#9c9c9c" stroke="#1a1a1a" stroke-width="1.25"/>
<rect x="320.2" y="752.3" width="14.4" height="1.2" fill="#d2d2d2"/>
<rect x="324" y="751.2" width="1.1" height="3.4" fill="#3a3a3a"/>
<rect x="318.2" y="759.4" width="18.6" height="2.8" fill="#111111"/>
<text transform="translate(330.5,765.6) rotate(-90) scale(1.13,1)" text-anchor="end" font-size="7.1" fill="#1f1f1f" stroke="#000" stroke-width="0.15">11</text>
<rect x="337.9" y="750.7" width="15.4" height="4.4" fill="#9c9c9c" stroke="#1a1a1a" stroke-width="1.25"/>
<rect x="338.9" y="752.3" width="13.4" height="1.2" fill="#d2d2d2"/>
<rect x="340.6" y="751.2" width="1.1" height="3.4" fill="#3a3a3a"/>
<rect x="336.8" y="759.4" width="17.6" height="2.8" fill="#c4c4c4"/>
<text transform="translate(348.6,765.6) rotate(-90) scale(1.13,1)" text-anchor="end" font-size="7.1" fill="#1f1f1f" stroke="#000" stroke-width="0.15">12</text>
<rect x="355.4" y="750.7" width="13.4" height="4.4" fill="#9c9c9c" stroke="#1a1a1a" stroke-width="1.25"/>
<rect x="356.4" y="752.3" width="11.4" height="1.2" fill="#d2d2d2"/>
<rect x="356.4" y="751.2" width="1.1" height="3.4" fill="#3a3a3a"/>
<rect x="354.4" y="759.4" width="15.6" height="2.8" fill="#111111"/>
<text transform="translate(365.2,765.6) rotate(-90) scale(1.13,1)" text-anchor="end" font-size="7.1" fill="#1f1f1f" stroke="#000" stroke-width="0.15">13</text>
<rect x="371.1" y="750.7" width="12.3" height="4.4" fill="#9c9c9c" stroke="#1a1a1a" stroke-width="1.25"/>
<rect x="372.1" y="752.3" width="10.3" height="1.2" fill="#d2d2d2"/>
<rect x="371.9" y="751.2" width="1.1" height="3.4" fill="#3a3a3a"/>
<rect x="370" y="759.4" width="14.5" height="2.8" fill="#c4c4c4"/>
<text transform="translate(380.2,765.6) rotate(-90) scale(1.13,1)" text-anchor="end" font-size="7.1" fill="#1f1f1f" stroke="#000" stroke-width="0.15">14</text>
<rect x="385.6" y="750.7" width="11.6" height="4.4" fill="#9c9c9c" stroke="#1a1a1a" stroke-width="1.25"/>
<rect x="386.6" y="752.3" width="9.6" height="1.2" fill="#d2d2d2"/>
<rect x="386.3" y="751.2" width="1.1" height="3.4" fill="#3a3a3a"/>
<rect x="384.5" y="759.4" width="13.8" height="2.8" fill="#111111"/>
<text transform="translate(394.4,765.6) rotate(-90) scale(1.13,1)" text-anchor="end" font-size="7.1" fill="#1f1f1f" stroke="#000" stroke-width="0.15">15</text>
<rect x="399.4" y="750.7" width="9.5" height="4.4" fill="#9c9c9c" stroke="#1a1a1a" stroke-width="1.25"/>
<rect x="400.4" y="752.3" width="7.5" height="1.2" fill="#d2d2d2"/>
<rect x="403.1" y="751.2" width="1.1" height="3.4" fill="#3a3a3a"/>
<rect x="403.1" y="751.4" width="2.2" height="3" fill="#a9b060"/>
<rect x="398.3" y="759.4" width="11.7" height="2.8" fill="#c4c4c4"/>
<text transform="translate(407.1,765.6) rotate(-90) scale(1.13,1)" text-anchor="end" font-size="7.1" fill="#1f1f1f" stroke="#000" stroke-width="0.15">16</text>
<rect x="411.1" y="750.7" width="8.7" height="4.4" fill="#9c9c9c" stroke="#1a1a1a" stroke-width="1.25"/>
<rect x="412.1" y="752.3" width="6.7" height="1.2" fill="#d2d2d2"/>
<rect x="413.5" y="751.2" width="1.1" height="3.4" fill="#3a3a3a"/>
<rect x="410" y="759.4" width="10.9" height="2.8" fill="#111111"/>
<text transform="translate(418.4,765.6) rotate(-90) scale(1.13,1)" text-anchor="end" font-size="7.1" fill="#1f1f1f" stroke="#000" stroke-width="0.15">17</text>
<rect x="421.9" y="750.7" width="7.8" height="4.4" fill="#9c9c9c" stroke="#1a1a1a" stroke-width="1.25"/>
<rect x="422.9" y="752.3" width="5.8" height="1.2" fill="#d2d2d2"/>
<rect x="423.2" y="751.2" width="1.1" height="3.4" fill="#3a3a3a"/>
<rect x="420.9" y="759.4" width="10" height="2.8" fill="#c4c4c4"/>
<text transform="translate(428.9,765.6) rotate(-90) scale(1.13,1)" text-anchor="end" font-size="7.1" fill="#1f1f1f" stroke="#000" stroke-width="0.15">18</text>
<rect x="431.9" y="750.7" width="6.9" height="4.4" fill="#9c9c9c" stroke="#1a1a1a" stroke-width="1.25"/>
<rect x="432.9" y="752.3" width="4.9" height="1.2" fill="#d2d2d2"/>
<rect x="435.4" y="751.2" width="1.1" height="3.4" fill="#3a3a3a"/>
<rect x="435" y="751.4" width="2.6" height="3" fill="#a9b060"/>
<rect x="430.9" y="759.4" width="9.1" height="2.8" fill="#111111"/>
<text transform="translate(438.4,765.6) rotate(-90) scale(1.13,1)" text-anchor="end" font-size="7.1" fill="#1f1f1f" stroke="#000" stroke-width="0.15">19</text>
<rect x="441.1" y="750.7" width="5.8" height="4.4" fill="#9c9c9c" stroke="#1a1a1a" stroke-width="1.25"/>
<rect x="442.1" y="752.3" width="3.8" height="1.2" fill="#d2d2d2"/>
<rect x="443.6" y="751.2" width="1.1" height="3.4" fill="#3a3a3a"/>
<rect x="440" y="759.4" width="8" height="2.8" fill="#c4c4c4"/>
<text transform="translate(447,765.6) rotate(-90) scale(1.13,1)" text-anchor="end" font-size="7.1" fill="#1f1f1f" stroke="#000" stroke-width="0.15">20</text>
<rect x="449.1" y="750.7" width="4.5" height="4.4" fill="#9c9c9c" stroke="#1a1a1a" stroke-width="1.25"/>
<rect x="450.1" y="752.3" width="2.5" height="1.2" fill="#d2d2d2"/>
<rect x="450.2" y="751.2" width="1.1" height="3.4" fill="#3a3a3a"/>
<rect x="448" y="759.4" width="6.7" height="2.8" fill="#111111"/>
<text transform="translate(454.4,765.6) rotate(-90) scale(1.13,1)" text-anchor="end" font-size="7.1" fill="#1f1f1f" stroke="#000" stroke-width="0.15">21</text>
<rect x="455.8" y="750.7" width="5.6" height="4.4" fill="#9c9c9c" stroke="#1a1a1a" stroke-width="1.25"/>
<rect x="456.8" y="752.3" width="3.6" height="1.2" fill="#d2d2d2"/>
<rect x="457.2" y="751.2" width="1.1" height="3.4" fill="#3a3a3a"/>
<rect x="454.7" y="759.4" width="7.8" height="2.8" fill="#c4c4c4"/>
<text transform="translate(461.6,765.6) rotate(-90) scale(1.13,1)" text-anchor="end" font-size="7.1" fill="#1f1f1f" stroke="#000" stroke-width="0.15">22</text>
<path d="M72.7,612.5 V759" stroke="#222" stroke-width="1.2" fill="none"/>
<line x1="603.3" y1="20.6" x2="603.3" y2="155.4" stroke="#e6e6e6" stroke-width="0.9"/>
<line x1="630" y1="20.6" x2="630" y2="155.4" stroke="#e6e6e6" stroke-width="0.9"/>
<line x1="655.7" y1="20.6" x2="655.7" y2="155.4" stroke="#e6e6e6" stroke-width="0.9"/>
<line x1="679.6" y1="20.6" x2="679.6" y2="155.4" stroke="#e6e6e6" stroke-width="0.9"/>
<line x1="702.9" y1="20.6" x2="702.9" y2="155.4" stroke="#e6e6e6" stroke-width="0.9"/>
<line x1="724.4" y1="20.6" x2="724.4" y2="155.4" stroke="#e6e6e6" stroke-width="0.9"/>
<line x1="744" y1="20.6" x2="744" y2="155.4" stroke="#e6e6e6" stroke-width="0.9"/>
<line x1="763.1" y1="20.6" x2="763.1" y2="155.4" stroke="#e6e6e6" stroke-width="0.9"/>
<line x1="780.8" y1="20.6" x2="780.8" y2="155.4" stroke="#e6e6e6" stroke-width="0.9"/>
<line x1="799" y1="20.6" x2="799" y2="155.4" stroke="#e6e6e6" stroke-width="0.9"/>
<line x1="817" y1="20.6" x2="817" y2="155.4" stroke="#e6e6e6" stroke-width="0.9"/>
<line x1="833" y1="20.6" x2="833" y2="155.4" stroke="#e6e6e6" stroke-width="0.9"/>
<line x1="847.2" y1="20.6" x2="847.2" y2="155.4" stroke="#e6e6e6" stroke-width="0.9"/>
<line x1="861" y1="20.6" x2="861" y2="155.4" stroke="#e6e6e6" stroke-width="0.9"/>
<line x1="873" y1="20.6" x2="873" y2="155.4" stroke="#e6e6e6" stroke-width="0.9"/>
<line x1="884" y1="20.6" x2="884" y2="155.4" stroke="#e6e6e6" stroke-width="0.9"/>
<line x1="894.5" y1="20.6" x2="894.5" y2="155.4" stroke="#e6e6e6" stroke-width="0.9"/>
<line x1="902.5" y1="20.6" x2="902.5" y2="155.4" stroke="#e6e6e6" stroke-width="0.9"/>
<line x1="910.7" y1="20.6" x2="910.7" y2="155.4" stroke="#e6e6e6" stroke-width="0.9"/>
<line x1="917.5" y1="20.6" x2="917.5" y2="155.4" stroke="#e6e6e6" stroke-width="0.9"/>
<line x1="554" y1="20.6" x2="554" y2="155.4" stroke="#d4d4d4" stroke-width="0.8" stroke-dasharray="1,2"/>
<line x1="583.4" y1="20.6" x2="583.4" y2="155.4" stroke="#d4d4d4" stroke-width="0.8" stroke-dasharray="1,2"/>
<line x1="615.9" y1="20.6" x2="615.9" y2="155.4" stroke="#d4d4d4" stroke-width="0.8" stroke-dasharray="1,2"/>
<line x1="636.6" y1="20.6" x2="636.6" y2="155.4" stroke="#d4d4d4" stroke-width="0.8" stroke-dasharray="1,2"/>
<line x1="662.2" y1="20.6" x2="662.2" y2="155.4" stroke="#d4d4d4" stroke-width="0.8" stroke-dasharray="1,2"/>
<line x1="688.2" y1="20.6" x2="688.2" y2="155.4" stroke="#d4d4d4" stroke-width="0.8" stroke-dasharray="1,2"/>
<line x1="711.5" y1="20.6" x2="711.5" y2="155.4" stroke="#d4d4d4" stroke-width="0.8" stroke-dasharray="1,2"/>
<line x1="730.6" y1="20.6" x2="730.6" y2="155.4" stroke="#d4d4d4" stroke-width="0.8" stroke-dasharray="1,2"/>
<line x1="750.4" y1="20.6" x2="750.4" y2="155.4" stroke="#d4d4d4" stroke-width="0.8" stroke-dasharray="1,2"/>
<line x1="768.4" y1="20.6" x2="768.4" y2="155.4" stroke="#d4d4d4" stroke-width="0.8" stroke-dasharray="1,2"/>
<line x1="789.8" y1="20.6" x2="789.8" y2="155.4" stroke="#d4d4d4" stroke-width="0.8" stroke-dasharray="1,2"/>
<line x1="803.9" y1="20.6" x2="803.9" y2="155.4" stroke="#d4d4d4" stroke-width="0.8" stroke-dasharray="1,2"/>
<line x1="866.5" y1="20.6" x2="866.5" y2="155.4" stroke="#d4d4d4" stroke-width="0.8" stroke-dasharray="1,2"/>
<line x1="876.7" y1="20.6" x2="876.7" y2="155.4" stroke="#d4d4d4" stroke-width="0.8" stroke-dasharray="1,2"/>
<line x1="887" y1="20.6" x2="887" y2="155.4" stroke="#d4d4d4" stroke-width="0.8" stroke-dasharray="1,2"/>
<line x1="898.2" y1="20.6" x2="898.2" y2="155.4" stroke="#d4d4d4" stroke-width="0.8" stroke-dasharray="1,2"/>
<line x1="906.1" y1="20.6" x2="906.1" y2="155.4" stroke="#d4d4d4" stroke-width="0.8" stroke-dasharray="1,2"/>
<rect x="797.5" y="40.7" width="42.5" height="14" fill="#f7f7f7"/>
<rect x="797.8" y="30.8" width="19.8" height="6.8" fill="#4a4a4a"/>
<rect x="820.9" y="30.8" width="1" height="6.8" fill="#555"/>
<rect x="799.9" y="40.7" width="14.8" height="14" fill="#e2302f"/>
<rect x="801.6" y="30.8" width="0.9" height="6.8" fill="#8a8a8a"/>
<rect x="804.5" y="30.8" width="0.9" height="6.8" fill="#8a8a8a"/>
<rect x="810.4" y="30.8" width="0.9" height="6.8" fill="#8a8a8a"/>
<rect x="802" y="40.7" width="0.9" height="14" fill="#f08080"/>
<rect x="805" y="40.7" width="0.9" height="14" fill="#f08080"/>
<rect x="810.8" y="40.7" width="0.9" height="14" fill="#f08080"/>
<text x="542.4" y="11.8" font-size="10.6" fill="#1f1f1f" textLength="67.8" lengthAdjust="spacingAndGlyphs" stroke="#1f1f1f" stroke-width="0.3">SRR1561105</text>
<path d="M537.1,20.1 V157.9" stroke="#222" stroke-width="1.2" fill="none"/>
<line x1="533.2" y1="157.4" x2="537.1" y2="157.4" stroke="#222" stroke-width="1.1"/>
<text x="529.6" y="160.7" text-anchor="end" font-size="9.3" fill="#1f1f1f" stroke="#1f1f1f" stroke-width="0.3">1.0</text>
<line x1="533.2" y1="123.2" x2="537.1" y2="123.2" stroke="#222" stroke-width="1.1"/>
<text x="529.6" y="126.5" text-anchor="end" font-size="9.3" fill="#1f1f1f" stroke="#1f1f1f" stroke-width="0.3">1.5</text>
<line x1="533.2" y1="89" x2="537.1" y2="89" stroke="#222" stroke-width="1.1"/>
<text x="529.6" y="92.3" text-anchor="end" font-size="9.3" fill="#1f1f1f" stroke="#1f1f1f" stroke-width="0.3">2.0</text>
<line x1="533.2" y1="54.8" x2="537.1" y2="54.8" stroke="#222" stroke-width="1.1"/>
<text x="529.6" y="58.1" text-anchor="end" font-size="9.3" fill="#1f1f1f" stroke="#1f1f1f" stroke-width="0.3">2.5</text>
<line x1="533.2" y1="20.6" x2="537.1" y2="20.6" stroke="#222" stroke-width="1.1"/>
<text x="529.6" y="23.9" text-anchor="end" font-size="9.3" fill="#1f1f1f" stroke="#1f1f1f" stroke-width="0.3">3.0</text>
<text transform="translate(501.6,89) rotate(-90)" text-anchor="middle" font-size="9.3" fill="#1f1f1f" stroke="#1f1f1f" stroke-width="0.3">Allelic ratio</text>
<path d="M538.5,134 H542.3 V134 H547.6 V133.6 H552.9 V134 H558.1 V133.8 H559.2 V133.8 H559.7 V130.7 H560.2 V133.8 H562.4 V134.4 H565.5 V136.5 H568.7 V137.5 H571.9 V138.1 H576.1 V137.2 H579.3 V136.5 H582.5 V134.4 H586.7 V133.8 H589.9 V132.8 H593 V131.2 H596.2 V129.6 H599.4 V129.8 H601.5 V131.7 H603.1 V129.1 H604.1 V126.4 H608.9 V125.9 H609.9 V122.4 H610.4 V125.9 H617.3 V125.9 H617.8 V123.5 H618.3 V125.9 H627.9 V125.9 H630 V121.7 H632.1 V125.4 H634.3 V127 H637 V126.2 H640.3 V126.7 H641.3 V128.3 H645.6 V127.7 H650.9 V128.8 H654.6 V129.8 H656.1 V132 H659.3 V131.2 H665.1 V131.4 H665.7 V134.1 H673.1 V134.1 H674.1 V132.7 H679.4 V132 H680.5 V127.7 H683.6 V129.3 H685.7 V125.1 H687.9 V123.5 H694.2 V124 H696.3 V126.7 H701.6 V125.1 H703.7 V129.3 H706.9 V127.2 H707.9 V131.4 H713.2 V131.4 H718.5 V133.5 H725.9 V133.3 H733 V134 H737.2 V134 H739.3 V131.8 H743.6 V128.1 H748.9 V127.6 H755.2 V127.6 H757.3 V130.8 H762.6 V131.3 H765.8 V132.4 H770 V131.3 H775.3 V131.1 H776.3 V132.4 H777.4 V136.1 H780 V137.7 H783.7 V135.5 H789 V135 H791.1 V130.8 H793.8 V126 H796.4 V125 H797.5 V119.7 H799.1 V111.2 H800.7 V98.5 H802.2 V95.4 H803.3 V88 H804.4 V82.7 H807 V82.7 H809.6 V80.6 H812.3 V83.7 H813.3 V90.1 H813.9 V97.5 H815.5 V101.7 H816.5 V110.2 H817.6 V115.5 H820.7 V114.4 H830.3 V114.4 H831.3 V115.9 H832.9 V121.1 H835.6 V121.7 H836.1 V128.3 H842.4 V128.8 H844 V130.7 H846.1 V131.7 H846.7 V134.4 H860.9 V134.4 H861.4 V129.8 H861.9 V134.4 H869.4 V134.4 H871 V129.6 H872.6 V132.8 H875.7 V134.4 H877.9 V133.8 H880 V132.2 H882.6 V129.1 H885.3 V134.4 H888.4 V136.5 H892.7 V137 H895.8 V139.6 H901.1 V140.2 H903.2 V134.4 H909.6 V134 H917 V133.6 H922.3 V134.9 H923.8 V135.9" fill="none" stroke="#4681c2" stroke-width="1.2"/>
<g fill="#1d3c6b"><rect x="539.1" y="133.8" width="1.35" height="1.35"/><rect x="546.9" y="133.3" width="1.35" height="1.35"/><rect x="550.1" y="132.8" width="1.35" height="1.35"/><rect x="551.2" y="132.8" width="1.35" height="1.35"/><rect x="553.3" y="133.1" width="1.35" height="1.35"/><rect x="554.3" y="133.6" width="1.35" height="1.35"/><rect x="558.5" y="132.9" width="1.35" height="1.35"/><rect x="559" y="130.4" width="1.35" height="1.35"/><rect x="562.8" y="133.6" width="1.35" height="1.35"/><rect x="563.8" y="133.3" width="1.35" height="1.35"/><rect x="564.9" y="134.8" width="1.35" height="1.35"/><rect x="564.8" y="135.9" width="1.35" height="1.35"/><rect x="568" y="137.2" width="1.35" height="1.35"/><rect x="569.1" y="137.2" width="1.35" height="1.35"/><rect x="570.2" y="137.1" width="1.35" height="1.35"/><rect x="571.2" y="137.8" width="1.35" height="1.35"/><rect x="573.3" y="137.6" width="1.35" height="1.35"/><rect x="581.8" y="133.9" width="1.35" height="1.35"/><rect x="582.9" y="133.6" width="1.35" height="1.35"/><rect x="583.9" y="133.8" width="1.35" height="1.35"/><rect x="586" y="133" width="1.35" height="1.35"/><rect x="587.1" y="132.9" width="1.35" height="1.35"/><rect x="588.2" y="133.3" width="1.35" height="1.35"/><rect x="589.2" y="131.7" width="1.35" height="1.35"/><rect x="591.3" y="131.8" width="1.35" height="1.35"/><rect x="592.1" y="131.3" width="1.35" height="1.35"/><rect x="593.4" y="130.1" width="1.35" height="1.35"/><rect x="596.6" y="128.6" width="1.35" height="1.35"/><rect x="600.8" y="130.1" width="1.35" height="1.35"/><rect x="603.4" y="125.5" width="1.35" height="1.35"/><rect x="605.8" y="125.2" width="1.35" height="1.35"/><rect x="607" y="126.1" width="1.35" height="1.35"/><rect x="609.5" y="122.6" width="1.35" height="1.35"/><rect x="609.7" y="125.1" width="1.35" height="1.35"/><rect x="610.9" y="125.1" width="1.35" height="1.35"/><rect x="613.2" y="125" width="1.35" height="1.35"/><rect x="614.3" y="124.8" width="1.35" height="1.35"/><rect x="615.5" y="125.3" width="1.35" height="1.35"/><rect x="616.6" y="125.7" width="1.35" height="1.35"/><rect x="617.2" y="124" width="1.35" height="1.35"/><rect x="617.7" y="124" width="1.35" height="1.35"/><rect x="617.6" y="125.3" width="1.35" height="1.35"/><rect x="621.9" y="125.1" width="1.35" height="1.35"/><rect x="623" y="125" width="1.35" height="1.35"/><rect x="628.3" y="125.4" width="1.35" height="1.35"/><rect x="630.4" y="120.8" width="1.35" height="1.35"/><rect x="631.7" y="123.8" width="1.35" height="1.35"/><rect x="637.4" y="125.4" width="1.35" height="1.35"/><rect x="638.5" y="125.4" width="1.35" height="1.35"/><rect x="639.6" y="125.7" width="1.35" height="1.35"/><rect x="641.7" y="127.2" width="1.35" height="1.35"/><rect x="649.2" y="127.5" width="1.35" height="1.35"/><rect x="651.5" y="128.2" width="1.35" height="1.35"/><rect x="653.9" y="129.4" width="1.35" height="1.35"/><rect x="655.6" y="130.2" width="1.35" height="1.35"/><rect x="656.5" y="130.8" width="1.35" height="1.35"/><rect x="658.6" y="131" width="1.35" height="1.35"/><rect x="659.8" y="130.3" width="1.35" height="1.35"/><rect x="662.1" y="130.2" width="1.35" height="1.35"/><rect x="666.1" y="133.6" width="1.35" height="1.35"/><rect x="667.1" y="133" width="1.35" height="1.35"/><rect x="671.4" y="133" width="1.35" height="1.35"/><rect x="673.4" y="132.2" width="1.35" height="1.35"/><rect x="674.5" y="131.9" width="1.35" height="1.35"/><rect x="677.7" y="132" width="1.35" height="1.35"/><rect x="679.8" y="127.1" width="1.35" height="1.35"/><rect x="680.9" y="126.9" width="1.35" height="1.35"/><rect x="684" y="128.5" width="1.35" height="1.35"/><rect x="685" y="124.4" width="1.35" height="1.35"/><rect x="689.3" y="122.6" width="1.35" height="1.35"/><rect x="691.4" y="122.5" width="1.35" height="1.35"/><rect x="695.6" y="124.7" width="1.35" height="1.35"/><rect x="695.6" y="125.7" width="1.35" height="1.35"/><rect x="697.8" y="125.8" width="1.35" height="1.35"/><rect x="699.9" y="125.9" width="1.35" height="1.35"/><rect x="705.2" y="128.6" width="1.35" height="1.35"/><rect x="706.1" y="127.6" width="1.35" height="1.35"/><rect x="707.3" y="129.7" width="1.35" height="1.35"/><rect x="707.2" y="131.2" width="1.35" height="1.35"/><rect x="708.3" y="131.1" width="1.35" height="1.35"/><rect x="717.7" y="131.8" width="1.35" height="1.35"/><rect x="719.9" y="133.3" width="1.35" height="1.35"/><rect x="723.1" y="133.2" width="1.35" height="1.35"/><rect x="725.2" y="132.7" width="1.35" height="1.35"/><rect x="727.3" y="133" width="1.35" height="1.35"/><rect x="729.3" y="133" width="1.35" height="1.35"/><rect x="730.3" y="132.6" width="1.35" height="1.35"/><rect x="733.4" y="133.6" width="1.35" height="1.35"/><rect x="735.5" y="133.1" width="1.35" height="1.35"/><rect x="736.5" y="133.3" width="1.35" height="1.35"/><rect x="743.2" y="130.2" width="1.35" height="1.35"/><rect x="744" y="127.9" width="1.35" height="1.35"/><rect x="746.1" y="127.6" width="1.35" height="1.35"/><rect x="750.3" y="126.7" width="1.35" height="1.35"/><rect x="753.5" y="126.9" width="1.35" height="1.35"/><rect x="755.6" y="127.1" width="1.35" height="1.35"/><rect x="756.9" y="129.3" width="1.35" height="1.35"/><rect x="758.8" y="129.9" width="1.35" height="1.35"/><rect x="761.9" y="131" width="1.35" height="1.35"/><rect x="763" y="130.4" width="1.35" height="1.35"/><rect x="765.1" y="131.9" width="1.35" height="1.35"/><rect x="770.4" y="130.5" width="1.35" height="1.35"/><rect x="771.5" y="130.9" width="1.35" height="1.35"/><rect x="772.5" y="130.5" width="1.35" height="1.35"/><rect x="773.6" y="130.6" width="1.35" height="1.35"/><rect x="775.6" y="131.5" width="1.35" height="1.35"/><rect x="776.9" y="134.5" width="1.35" height="1.35"/><rect x="782.8" y="135.9" width="1.35" height="1.35"/><rect x="783" y="135.3" width="1.35" height="1.35"/><rect x="784.1" y="134.3" width="1.35" height="1.35"/><rect x="788.3" y="134.7" width="1.35" height="1.35"/><rect x="790.4" y="129.8" width="1.35" height="1.35"/><rect x="793" y="127.7" width="1.35" height="1.35"/><rect x="798.4" y="118.2" width="1.35" height="1.35"/><rect x="798.2" y="116.5" width="1.35" height="1.35"/><rect x="798.6" y="114.8" width="1.35" height="1.35"/><rect x="799.9" y="109.6" width="1.35" height="1.35"/><rect x="800" y="106" width="1.35" height="1.35"/><rect x="801.5" y="94.3" width="1.35" height="1.35"/><rect x="802.7" y="92" width="1.35" height="1.35"/><rect x="802.6" y="90.1" width="1.35" height="1.35"/><rect x="802.6" y="87" width="1.35" height="1.35"/><rect x="803.5" y="82.9" width="1.35" height="1.35"/><rect x="803.7" y="81.9" width="1.35" height="1.35"/><rect x="807.6" y="81.6" width="1.35" height="1.35"/><rect x="809.2" y="81" width="1.35" height="1.35"/><rect x="811.6" y="81.5" width="1.35" height="1.35"/><rect x="812.6" y="86.2" width="1.35" height="1.35"/><rect x="813.1" y="90.4" width="1.35" height="1.35"/><rect x="812.9" y="94.1" width="1.35" height="1.35"/><rect x="815.6" y="107" width="1.35" height="1.35"/><rect x="815.8" y="108.7" width="1.35" height="1.35"/><rect x="816.8" y="113.9" width="1.35" height="1.35"/><rect x="824.3" y="113.6" width="1.35" height="1.35"/><rect x="825.4" y="113.7" width="1.35" height="1.35"/><rect x="829.6" y="113.6" width="1.35" height="1.35"/><rect x="832.2" y="117.8" width="1.35" height="1.35"/><rect x="835.4" y="125.2" width="1.35" height="1.35"/><rect x="840.7" y="127.9" width="1.35" height="1.35"/><rect x="841.7" y="127.7" width="1.35" height="1.35"/><rect x="843.3" y="129.5" width="1.35" height="1.35"/><rect x="848.1" y="134.1" width="1.35" height="1.35"/><rect x="849.1" y="133.5" width="1.35" height="1.35"/><rect x="851.1" y="134.1" width="1.35" height="1.35"/><rect x="853.1" y="133.7" width="1.35" height="1.35"/><rect x="856.2" y="133.2" width="1.35" height="1.35"/><rect x="857.2" y="133.8" width="1.35" height="1.35"/><rect x="859.2" y="134.1" width="1.35" height="1.35"/><rect x="860.5" y="130.3" width="1.35" height="1.35"/><rect x="860.7" y="129.2" width="1.35" height="1.35"/><rect x="862.3" y="134.1" width="1.35" height="1.35"/><rect x="865.5" y="133.6" width="1.35" height="1.35"/><rect x="867.7" y="133.7" width="1.35" height="1.35"/><rect x="868.7" y="134.1" width="1.35" height="1.35"/><rect x="870.1" y="131.3" width="1.35" height="1.35"/><rect x="870.3" y="128.5" width="1.35" height="1.35"/><rect x="871.9" y="129.7" width="1.35" height="1.35"/><rect x="874" y="132.2" width="1.35" height="1.35"/><rect x="875" y="134" width="1.35" height="1.35"/><rect x="876.1" y="133.3" width="1.35" height="1.35"/><rect x="878.3" y="133.4" width="1.35" height="1.35"/><rect x="879.2" y="132.3" width="1.35" height="1.35"/><rect x="880.6" y="131.1" width="1.35" height="1.35"/><rect x="882.1" y="130" width="1.35" height="1.35"/><rect x="887.5" y="134.8" width="1.35" height="1.35"/><rect x="891" y="135.4" width="1.35" height="1.35"/><rect x="895.1" y="139.3" width="1.35" height="1.35"/><rect x="897.2" y="138.7" width="1.35" height="1.35"/><rect x="900.4" y="139.3" width="1.35" height="1.35"/><rect x="901.5" y="139.2" width="1.35" height="1.35"/><rect x="902.5" y="134.1" width="1.35" height="1.35"/></g>
<rect x="538.5" y="155.4" width="31" height="3.4" rx="1.7" fill="#cfcfcf" stroke="#4a4a4a" stroke-width="0.9"/>
<rect x="553.4" y="155.3" width="1.2" height="3.6" fill="#222"/>
<text transform="translate(557,161.5) rotate(-90) scale(1.13,1)" text-anchor="end" font-size="7.1" fill="#1f1f1f" stroke="#000" stroke-width="0.15">1</text>
<rect x="572.2" y="155.4" width="29.7" height="3.4" rx="1.7" fill="#cfcfcf" stroke="#4a4a4a" stroke-width="0.9"/>
<rect x="582.8" y="155.3" width="1.2" height="3.6" fill="#222"/>
<text transform="translate(590.1,161.5) rotate(-90) scale(1.13,1)" text-anchor="end" font-size="7.1" fill="#1f1f1f" stroke="#000" stroke-width="0.15">2</text>
<rect x="604.7" y="155.4" width="23.9" height="3.4" rx="1.7" fill="#cfcfcf" stroke="#4a4a4a" stroke-width="0.9"/>
<rect x="615.3" y="155.3" width="1.2" height="3.6" fill="#222"/>
<text transform="translate(619.6,161.5) rotate(-90) scale(1.13,1)" text-anchor="end" font-size="7.1" fill="#1f1f1f" stroke="#000" stroke-width="0.15">3</text>
<rect x="631.6" y="155.4" width="22.6" height="3.4" rx="1.7" fill="#cfcfcf" stroke="#4a4a4a" stroke-width="0.9"/>
<rect x="636" y="155.3" width="1.2" height="3.6" fill="#222"/>
<text transform="translate(645.9,161.5) rotate(-90) scale(1.13,1)" text-anchor="end" font-size="7.1" fill="#1f1f1f" stroke="#000" stroke-width="0.15">4</text>
<rect x="657.2" y="155.4" width="20.8" height="3.4" rx="1.7" fill="#cfcfcf" stroke="#4a4a4a" stroke-width="0.9"/>
<rect x="661.6" y="155.3" width="1.2" height="3.6" fill="#222"/>
<text transform="translate(670.5,161.5) rotate(-90) scale(1.13,1)" text-anchor="end" font-size="7.1" fill="#1f1f1f" stroke="#000" stroke-width="0.15">5</text>
<rect x="681.2" y="155.4" width="19.9" height="3.4" rx="1.7" fill="#cfcfcf" stroke="#4a4a4a" stroke-width="0.9"/>
<rect x="687.6" y="155.3" width="1.2" height="3.6" fill="#222"/>
<text transform="translate(694.2,161.5) rotate(-90) scale(1.13,1)" text-anchor="end" font-size="7.1" fill="#1f1f1f" stroke="#000" stroke-width="0.15">6</text>
<rect x="704.6" y="155.4" width="18.4" height="3.4" rx="1.7" fill="#cfcfcf" stroke="#4a4a4a" stroke-width="0.9"/>
<rect x="710.9" y="155.3" width="1.2" height="3.6" fill="#222"/>
<text transform="translate(716.8,161.5) rotate(-90) scale(1.13,1)" text-anchor="end" font-size="7.1" fill="#1f1f1f" stroke="#000" stroke-width="0.15">7</text>
<rect x="725.9" y="155.4" width="16.7" height="3.4" rx="1.7" fill="#cfcfcf" stroke="#4a4a4a" stroke-width="0.9"/>
<rect x="730" y="155.3" width="1.2" height="3.6" fill="#222"/>
<text transform="translate(737.2,161.5) rotate(-90) scale(1.13,1)" text-anchor="end" font-size="7.1" fill="#1f1f1f" stroke="#000" stroke-width="0.15">8</text>
<rect x="745.6" y="155.4" width="16" height="3.4" rx="1.7" fill="#cfcfcf" stroke="#4a4a4a" stroke-width="0.9"/>
<rect x="749.8" y="155.3" width="1.2" height="3.6" fill="#222"/>
<text transform="translate(756.5,161.5) rotate(-90) scale(1.13,1)" text-anchor="end" font-size="7.1" fill="#1f1f1f" stroke="#000" stroke-width="0.15">9</text>
<rect x="764.7" y="155.4" width="14.6" height="3.4" rx="1.7" fill="#cfcfcf" stroke="#4a4a4a" stroke-width="0.9"/>
<rect x="767.8" y="155.3" width="1.2" height="3.6" fill="#222"/>
<text transform="translate(775,161.5) rotate(-90) scale(1.13,1)" text-anchor="end" font-size="7.1" fill="#1f1f1f" stroke="#000" stroke-width="0.15">10</text>
<rect x="782.2" y="155.4" width="15.2" height="3.4" rx="1.7" fill="#cfcfcf" stroke="#4a4a4a" stroke-width="0.9"/>
<rect x="789.2" y="155.3" width="1.2" height="3.6" fill="#222"/>
<text transform="translate(792.8,161.5) rotate(-90) scale(1.13,1)" text-anchor="end" font-size="7.1" fill="#1f1f1f" stroke="#000" stroke-width="0.15">11</text>
<rect x="800.7" y="155.4" width="14.9" height="3.4" rx="1.7" fill="#cfcfcf" stroke="#4a4a4a" stroke-width="0.9"/>
<rect x="803.3" y="155.3" width="1.2" height="3.6" fill="#222"/>
<text transform="translate(811.1,161.5) rotate(-90) scale(1.13,1)" text-anchor="end" font-size="7.1" fill="#1f1f1f" stroke="#000" stroke-width="0.15">12</text>
<rect x="818.5" y="155.4" width="13.1" height="3.4" rx="1.7" fill="#cfcfcf" stroke="#4a4a4a" stroke-width="0.9"/>
<rect x="818.2" y="155.3" width="1.2" height="3.6" fill="#222"/>
<text transform="translate(828,161.5) rotate(-90) scale(1.13,1)" text-anchor="end" font-size="7.1" fill="#1f1f1f" stroke="#000" stroke-width="0.15">13</text>
<rect x="834.4" y="155.4" width="11.4" height="3.4" rx="1.7" fill="#cfcfcf" stroke="#4a4a4a" stroke-width="0.9"/>
<rect x="834.1" y="155.3" width="1.2" height="3.6" fill="#222"/>
<text transform="translate(843,161.5) rotate(-90) scale(1.13,1)" text-anchor="end" font-size="7.1" fill="#1f1f1f" stroke="#000" stroke-width="0.15">14</text>
<rect x="848.8" y="155.4" width="10.9" height="3.4" rx="1.7" fill="#cfcfcf" stroke="#4a4a4a" stroke-width="0.9"/>
<rect x="848.5" y="155.3" width="1.2" height="3.6" fill="#222"/>
<text transform="translate(857.2,161.5) rotate(-90) scale(1.13,1)" text-anchor="end" font-size="7.1" fill="#1f1f1f" stroke="#000" stroke-width="0.15">15</text>
<rect x="862.5" y="155.4" width="9" height="3.4" rx="1.7" fill="#cfcfcf" stroke="#4a4a4a" stroke-width="0.9"/>
<rect x="865.9" y="155.3" width="1.2" height="3.6" fill="#222"/>
<text transform="translate(870,161.5) rotate(-90) scale(1.13,1)" text-anchor="end" font-size="7.1" fill="#1f1f1f" stroke="#000" stroke-width="0.15">16</text>
<rect x="874.5" y="155.4" width="8.2" height="3.4" rx="1.7" fill="#cfcfcf" stroke="#4a4a4a" stroke-width="0.9"/>
<rect x="876.1" y="155.3" width="1.2" height="3.6" fill="#222"/>
<text transform="translate(881.5,161.5) rotate(-90) scale(1.13,1)" text-anchor="end" font-size="7.1" fill="#1f1f1f" stroke="#000" stroke-width="0.15">17</text>
<rect x="885.5" y="155.4" width="8" height="3.4" rx="1.7" fill="#cfcfcf" stroke="#4a4a4a" stroke-width="0.9"/>
<rect x="886.4" y="155.3" width="1.2" height="3.6" fill="#222"/>
<text transform="translate(892.5,161.5) rotate(-90) scale(1.13,1)" text-anchor="end" font-size="7.1" fill="#1f1f1f" stroke="#000" stroke-width="0.15">18</text>
<rect x="895.7" y="155.4" width="5.9" height="3.4" rx="1.7" fill="#cfcfcf" stroke="#4a4a4a" stroke-width="0.9"/>
<rect x="897.6" y="155.3" width="1.2" height="3.6" fill="#222"/>
<text transform="translate(901.6,161.5) rotate(-90) scale(1.13,1)" text-anchor="end" font-size="7.1" fill="#1f1f1f" stroke="#000" stroke-width="0.15">19</text>
<rect x="903.6" y="155.4" width="5.8" height="3.4" rx="1.7" fill="#cfcfcf" stroke="#4a4a4a" stroke-width="0.9"/>
<rect x="905.5" y="155.3" width="1.2" height="3.6" fill="#222"/>
<text transform="translate(909.5,161.5) rotate(-90) scale(1.13,1)" text-anchor="end" font-size="7.1" fill="#1f1f1f" stroke="#000" stroke-width="0.15">20</text>
<rect x="912.1" y="155.4" width="4.3" height="3.4" rx="1.7" fill="#cfcfcf" stroke="#4a4a4a" stroke-width="0.9"/>
<rect x="911.7" y="155.3" width="1.2" height="3.6" fill="#222"/>
<text transform="translate(917.2,161.5) rotate(-90) scale(1.13,1)" text-anchor="end" font-size="7.1" fill="#1f1f1f" stroke="#000" stroke-width="0.15">21</text>
<rect x="918.6" y="155.4" width="4.8" height="3.4" rx="1.7" fill="#cfcfcf" stroke="#4a4a4a" stroke-width="0.9"/>
<rect x="918.3" y="155.3" width="1.2" height="3.6" fill="#222"/>
<text transform="translate(924,161.5) rotate(-90) scale(1.13,1)" text-anchor="end" font-size="7.1" fill="#1f1f1f" stroke="#000" stroke-width="0.15">22</text>
<rect x="928.5" y="54.6" width="20" height="63" fill="url(#cbar)" stroke="#7a7a7a" stroke-width="1"/>
<text transform="translate(935.3,86.1) rotate(90)" text-anchor="middle" font-size="7.9" fill="#1f1f1f" stroke="#1f1f1f" stroke-width="0.3">−Log10 (<tspan font-style="italic">P</tspan> value)</text>
<text x="937.4" y="50" text-anchor="middle" font-size="9.3" fill="#1f1f1f" stroke="#1f1f1f" stroke-width="0.3">12</text>
<text x="937.4" y="131.9" text-anchor="middle" font-size="9.3" fill="#1f1f1f" stroke="#1f1f1f" stroke-width="0.3">0</text>
<line x1="603.3" y1="215.5" x2="603.3" y2="349.6" stroke="#e6e6e6" stroke-width="0.9"/>
<line x1="630" y1="215.5" x2="630" y2="349.6" stroke="#e6e6e6" stroke-width="0.9"/>
<line x1="655.7" y1="215.5" x2="655.7" y2="349.6" stroke="#e6e6e6" stroke-width="0.9"/>
<line x1="679.6" y1="215.5" x2="679.6" y2="349.6" stroke="#e6e6e6" stroke-width="0.9"/>
<line x1="702.9" y1="215.5" x2="702.9" y2="349.6" stroke="#e6e6e6" stroke-width="0.9"/>
<line x1="724.4" y1="215.5" x2="724.4" y2="349.6" stroke="#e6e6e6" stroke-width="0.9"/>
<line x1="744" y1="215.5" x2="744" y2="349.6" stroke="#e6e6e6" stroke-width="0.9"/>
<line x1="763.1" y1="215.5" x2="763.1" y2="349.6" stroke="#e6e6e6" stroke-width="0.9"/>
<line x1="780.8" y1="215.5" x2="780.8" y2="349.6" stroke="#e6e6e6" stroke-width="0.9"/>
<line x1="799" y1="215.5" x2="799" y2="349.6" stroke="#e6e6e6" stroke-width="0.9"/>
<line x1="817" y1="215.5" x2="817" y2="349.6" stroke="#e6e6e6" stroke-width="0.9"/>
<line x1="833" y1="215.5" x2="833" y2="349.6" stroke="#e6e6e6" stroke-width="0.9"/>
<line x1="847.2" y1="215.5" x2="847.2" y2="349.6" stroke="#e6e6e6" stroke-width="0.9"/>
<line x1="861" y1="215.5" x2="861" y2="349.6" stroke="#e6e6e6" stroke-width="0.9"/>
<line x1="873" y1="215.5" x2="873" y2="349.6" stroke="#e6e6e6" stroke-width="0.9"/>
<line x1="884" y1="215.5" x2="884" y2="349.6" stroke="#e6e6e6" stroke-width="0.9"/>
<line x1="894.5" y1="215.5" x2="894.5" y2="349.6" stroke="#e6e6e6" stroke-width="0.9"/>
<line x1="902.5" y1="215.5" x2="902.5" y2="349.6" stroke="#e6e6e6" stroke-width="0.9"/>
<line x1="910.7" y1="215.5" x2="910.7" y2="349.6" stroke="#e6e6e6" stroke-width="0.9"/>
<line x1="917.5" y1="215.5" x2="917.5" y2="349.6" stroke="#e6e6e6" stroke-width="0.9"/>
<line x1="554" y1="215.5" x2="554" y2="349.6" stroke="#d4d4d4" stroke-width="0.8" stroke-dasharray="1,2"/>
<line x1="583.4" y1="215.5" x2="583.4" y2="349.6" stroke="#d4d4d4" stroke-width="0.8" stroke-dasharray="1,2"/>
<line x1="615.9" y1="215.5" x2="615.9" y2="349.6" stroke="#d4d4d4" stroke-width="0.8" stroke-dasharray="1,2"/>
<line x1="636.6" y1="215.5" x2="636.6" y2="349.6" stroke="#d4d4d4" stroke-width="0.8" stroke-dasharray="1,2"/>
<line x1="662.2" y1="215.5" x2="662.2" y2="349.6" stroke="#d4d4d4" stroke-width="0.8" stroke-dasharray="1,2"/>
<line x1="688.2" y1="215.5" x2="688.2" y2="349.6" stroke="#d4d4d4" stroke-width="0.8" stroke-dasharray="1,2"/>
<line x1="711.5" y1="215.5" x2="711.5" y2="349.6" stroke="#d4d4d4" stroke-width="0.8" stroke-dasharray="1,2"/>
<line x1="730.6" y1="215.5" x2="730.6" y2="349.6" stroke="#d4d4d4" stroke-width="0.8" stroke-dasharray="1,2"/>
<line x1="750.4" y1="215.5" x2="750.4" y2="349.6" stroke="#d4d4d4" stroke-width="0.8" stroke-dasharray="1,2"/>
<line x1="768.4" y1="215.5" x2="768.4" y2="349.6" stroke="#d4d4d4" stroke-width="0.8" stroke-dasharray="1,2"/>
<line x1="789.8" y1="215.5" x2="789.8" y2="349.6" stroke="#d4d4d4" stroke-width="0.8" stroke-dasharray="1,2"/>
<line x1="803.9" y1="215.5" x2="803.9" y2="349.6" stroke="#d4d4d4" stroke-width="0.8" stroke-dasharray="1,2"/>
<line x1="866.5" y1="215.5" x2="866.5" y2="349.6" stroke="#d4d4d4" stroke-width="0.8" stroke-dasharray="1,2"/>
<line x1="876.7" y1="215.5" x2="876.7" y2="349.6" stroke="#d4d4d4" stroke-width="0.8" stroke-dasharray="1,2"/>
<line x1="887" y1="215.5" x2="887" y2="349.6" stroke="#d4d4d4" stroke-width="0.8" stroke-dasharray="1,2"/>
<line x1="898.2" y1="215.5" x2="898.2" y2="349.6" stroke="#d4d4d4" stroke-width="0.8" stroke-dasharray="1,2"/>
<line x1="906.1" y1="215.5" x2="906.1" y2="349.6" stroke="#d4d4d4" stroke-width="0.8" stroke-dasharray="1,2"/>
<rect x="748.3" y="225.7" width="1.3" height="6.8" fill="#9a9a9a"/>
<rect x="753.2" y="225.7" width="1.4" height="6.8" fill="#8a8a8a"/>
<rect x="743.7" y="235.6" width="12.7" height="14" fill="#f1f1f1"/>
<rect x="818.1" y="235.6" width="14.4" height="14" fill="#f3f3f3"/>
<rect x="861" y="225.7" width="23" height="6.8" fill="#4a4a4a"/>
<rect x="861" y="235.6" width="12.3" height="14" fill="#e0333a"/>
<rect x="873.3" y="235.6" width="3.7" height="14" fill="#d39a9a"/>
<rect x="877" y="235.6" width="7" height="14" fill="#dadada"/>
<rect x="866.2" y="225.7" width="0.9" height="6.8" fill="#8a8a8a"/>
<rect x="869.3" y="225.7" width="0.9" height="6.8" fill="#8a8a8a"/>
<rect x="866.2" y="235.6" width="0.9" height="14" fill="#f08080"/>
<rect x="869.3" y="235.6" width="0.9" height="14" fill="#f08080"/>
<text x="542.4" y="208.9" font-size="10.6" fill="#1f1f1f" textLength="67.8" lengthAdjust="spacingAndGlyphs" stroke="#1f1f1f" stroke-width="0.3">SRR1736690</text>
<path d="M537.1,215 V352.1" stroke="#222" stroke-width="1.2" fill="none"/>
<line x1="533.2" y1="351.6" x2="537.1" y2="351.6" stroke="#222" stroke-width="1.1"/>
<text x="529.6" y="354.9" text-anchor="end" font-size="9.3" fill="#1f1f1f" stroke="#1f1f1f" stroke-width="0.3">1.0</text>
<line x1="533.2" y1="317.6" x2="537.1" y2="317.6" stroke="#222" stroke-width="1.1"/>
<text x="529.6" y="320.9" text-anchor="end" font-size="9.3" fill="#1f1f1f" stroke="#1f1f1f" stroke-width="0.3">1.5</text>
<line x1="533.2" y1="283.6" x2="537.1" y2="283.6" stroke="#222" stroke-width="1.1"/>
<text x="529.6" y="286.9" text-anchor="end" font-size="9.3" fill="#1f1f1f" stroke="#1f1f1f" stroke-width="0.3">2.0</text>
<line x1="533.2" y1="249.5" x2="537.1" y2="249.5" stroke="#222" stroke-width="1.1"/>
<text x="529.6" y="252.8" text-anchor="end" font-size="9.3" fill="#1f1f1f" stroke="#1f1f1f" stroke-width="0.3">2.5</text>
<line x1="533.2" y1="215.5" x2="537.1" y2="215.5" stroke="#222" stroke-width="1.1"/>
<text x="529.6" y="218.8" text-anchor="end" font-size="9.3" fill="#1f1f1f" stroke="#1f1f1f" stroke-width="0.3">3.0</text>
<text transform="translate(501.6,283.6) rotate(-90)" text-anchor="middle" font-size="9.3" fill="#1f1f1f" stroke="#1f1f1f" stroke-width="0.3">Allelic ratio</text>
<path d="M538.5,331.5 H540.2 V330.9 H542.3 V329.3 H544.9 V328.8 H547 V326.7 H549.7 V325.6 H552.9 V326.1 H555 V325.1 H557.6 V324.6 H559.2 V327.2 H562.4 V323 H564.5 V323 H565.5 V326.7 H568.7 V327.7 H571.9 V329.3 H575.1 V332 H577.2 V328.8 H580.3 V329.3 H582.5 V326.1 H584.6 V324.6 H588.8 V324.6 H592 V325.6 H594.6 V328.3 H598.3 V327.2 H602.5 V327.7 H606.8 V328.3 H609.9 V326.7 H613.1 V326.7 H617.3 V327.7 H621.6 V328.8 H625.8 V329.8 H630 V331.4 H633.2 V328.8 H637 V328.8 H637.1 V330.9 H641.3 V328.8 H645.6 V328.8 H649.8 V329.9 H655.1 V330.4 H659.3 V330.4 H663.5 V329.4 H666.2 V325.7 H668.8 V323.5 H670.9 V326.7 H672 V319.3 H674.1 V323 H676.2 V327.8 H678.9 V331.5 H681 V328.3 H682.6 V324.6 H684.2 V326.7 H684.7 V330.4 H690 V330.4 H694.2 V329.4 H698.4 V328.3 H702.7 V326.2 H703.7 V324.1 H707.9 V323 H712.2 V322.5 H716.4 V322 H718.5 V324.1 H720.6 V327.8 H722.7 V329.9 H725.4 V326.7 H728 V330.4 H731.2 V329.9 H735 V328.8 H736.2 V328.3 H739.3 V327.8 H742.5 V327.8 H743.6 V324.1 H745.2 V317.8 H747.8 V316.7 H749.4 V313.5 H754.1 V313.5 H755.7 V315.7 H756.8 V319.9 H760 V319.9 H761.5 V320.9 H762.6 V329.9 H765.8 V328.3 H770 V328.9 H775.3 V329.9 H779.5 V331 H781.6 V331.5 H783.7 V329.9 H786.9 V328.9 H791.1 V328.9 H795.4 V327.3 H799.1 V325.7 H802.8 V329.4 H805.9 V326.2 H809.1 V328.3 H812.3 V327.8 H814.9 V324.6 H817.6 V323.1 H820.7 V321.5 H823.9 V319.9 H826 V316.7 H830.3 V316.7 H831.3 V316.5 H832.9 V320.7 H835.6 V321.8 H836.1 V328.1 H839.8 V329.7 H842.4 V327.6 H844.6 V326.5 H846.7 V330.7 H847.7 V328.6 H856.7 V328.6 H858.3 V323.3 H859.9 V317 H860.9 V307.5 H862 V301.1 H863.6 V293.7 H864.6 V298 H867.3 V297.4 H869.4 V293.7 H871.5 V298 H873.1 V293.7 H874.2 V306.4 H876.8 V302.2 H878.9 V308.5 H881 V306.4 H883.1 V308 H883.7 V327.6 H886.3 V329.2 H890.5 V328.6 H893.7 V329.2 H895.8 V332.9 H899 V334.4 H902.2 V333.9 H903.2 V329.2 H906.4 V327 H909.6 V329.2 H913.8 V329.2 H917 V330.7 H919.1 V328.6 H921.2 V326.5 H923.3 V321.8" fill="none" stroke="#4681c2" stroke-width="1.2"/>
<g fill="#1d3c6b"><rect x="537.8" y="331" width="1.35" height="1.35"/><rect x="540.6" y="330.4" width="1.35" height="1.35"/><rect x="542.9" y="328.2" width="1.35" height="1.35"/><rect x="545.3" y="327.9" width="1.35" height="1.35"/><rect x="549" y="324.8" width="1.35" height="1.35"/><rect x="550.1" y="324.8" width="1.35" height="1.35"/><rect x="552.2" y="325.7" width="1.35" height="1.35"/><rect x="561.7" y="322.4" width="1.35" height="1.35"/><rect x="564.9" y="323.3" width="1.35" height="1.35"/><rect x="564.8" y="326.2" width="1.35" height="1.35"/><rect x="569.1" y="327" width="1.35" height="1.35"/><rect x="571.2" y="328.6" width="1.35" height="1.35"/><rect x="572.3" y="329.1" width="1.35" height="1.35"/><rect x="573.4" y="328.4" width="1.35" height="1.35"/><rect x="574.7" y="330" width="1.35" height="1.35"/><rect x="578.6" y="328" width="1.35" height="1.35"/><rect x="581.8" y="325.9" width="1.35" height="1.35"/><rect x="592.6" y="324.8" width="1.35" height="1.35"/><rect x="593.8" y="326.3" width="1.35" height="1.35"/><rect x="598.7" y="326.6" width="1.35" height="1.35"/><rect x="601.8" y="327.1" width="1.35" height="1.35"/><rect x="602.9" y="326.7" width="1.35" height="1.35"/><rect x="608.2" y="327.9" width="1.35" height="1.35"/><rect x="609.2" y="326.5" width="1.35" height="1.35"/><rect x="610.3" y="325.9" width="1.35" height="1.35"/><rect x="611.4" y="326.3" width="1.35" height="1.35"/><rect x="613.5" y="325.9" width="1.35" height="1.35"/><rect x="614.5" y="325.6" width="1.35" height="1.35"/><rect x="615.6" y="326.2" width="1.35" height="1.35"/><rect x="618.8" y="327.3" width="1.35" height="1.35"/><rect x="620.9" y="328" width="1.35" height="1.35"/><rect x="625.1" y="329.4" width="1.35" height="1.35"/><rect x="626.2" y="329.3" width="1.35" height="1.35"/><rect x="627.2" y="329" width="1.35" height="1.35"/><rect x="629.3" y="330.4" width="1.35" height="1.35"/><rect x="632.3" y="329.4" width="1.35" height="1.35"/><rect x="632.5" y="327.6" width="1.35" height="1.35"/><rect x="633.8" y="328.2" width="1.35" height="1.35"/><rect x="635.1" y="327.9" width="1.35" height="1.35"/><rect x="636.3" y="328.4" width="1.35" height="1.35"/><rect x="636.4" y="329.8" width="1.35" height="1.35"/><rect x="638.5" y="329.9" width="1.35" height="1.35"/><rect x="639.6" y="329.9" width="1.35" height="1.35"/><rect x="642.8" y="327.9" width="1.35" height="1.35"/><rect x="647" y="328.2" width="1.35" height="1.35"/><rect x="651.2" y="328.9" width="1.35" height="1.35"/><rect x="654.4" y="329.3" width="1.35" height="1.35"/><rect x="660.7" y="329.3" width="1.35" height="1.35"/><rect x="662.8" y="328.3" width="1.35" height="1.35"/><rect x="665.6" y="327.8" width="1.35" height="1.35"/><rect x="666.8" y="324.9" width="1.35" height="1.35"/><rect x="668.1" y="323.9" width="1.35" height="1.35"/><rect x="670.2" y="326.4" width="1.35" height="1.35"/><rect x="671" y="321.4" width="1.35" height="1.35"/><rect x="671.6" y="319.6" width="1.35" height="1.35"/><rect x="671.3" y="318.2" width="1.35" height="1.35"/><rect x="674.5" y="321.9" width="1.35" height="1.35"/><rect x="675.5" y="323.1" width="1.35" height="1.35"/><rect x="680.6" y="329.2" width="1.35" height="1.35"/><rect x="681.9" y="324.2" width="1.35" height="1.35"/><rect x="683.6" y="325" width="1.35" height="1.35"/><rect x="685.1" y="330.1" width="1.35" height="1.35"/><rect x="691.4" y="329.9" width="1.35" height="1.35"/><rect x="692.5" y="329.3" width="1.35" height="1.35"/><rect x="693.5" y="328.4" width="1.35" height="1.35"/><rect x="699.9" y="327.1" width="1.35" height="1.35"/><rect x="701" y="327.4" width="1.35" height="1.35"/><rect x="701.9" y="326.6" width="1.35" height="1.35"/><rect x="703" y="324.5" width="1.35" height="1.35"/><rect x="703" y="323.5" width="1.35" height="1.35"/><rect x="709.4" y="322.8" width="1.35" height="1.35"/><rect x="710.5" y="322.8" width="1.35" height="1.35"/><rect x="711.5" y="322.1" width="1.35" height="1.35"/><rect x="712.6" y="321.8" width="1.35" height="1.35"/><rect x="713.6" y="322.2" width="1.35" height="1.35"/><rect x="714.7" y="321.4" width="1.35" height="1.35"/><rect x="717.8" y="323.4" width="1.35" height="1.35"/><rect x="720.1" y="324.4" width="1.35" height="1.35"/><rect x="721" y="327" width="1.35" height="1.35"/><rect x="722.3" y="328.2" width="1.35" height="1.35"/><rect x="723.4" y="329.3" width="1.35" height="1.35"/><rect x="724.5" y="327.6" width="1.35" height="1.35"/><rect x="727.1" y="327" width="1.35" height="1.35"/><rect x="727.3" y="328.8" width="1.35" height="1.35"/><rect x="737.6" y="328.1" width="1.35" height="1.35"/><rect x="738.6" y="327" width="1.35" height="1.35"/><rect x="740.8" y="327.1" width="1.35" height="1.35"/><rect x="741.8" y="327" width="1.35" height="1.35"/><rect x="742.9" y="323" width="1.35" height="1.35"/><rect x="744.7" y="320.3" width="1.35" height="1.35"/><rect x="744.5" y="317.3" width="1.35" height="1.35"/><rect x="748.5" y="314.4" width="1.35" height="1.35"/><rect x="748.7" y="312.7" width="1.35" height="1.35"/><rect x="749.9" y="312.7" width="1.35" height="1.35"/><rect x="752.3" y="312.6" width="1.35" height="1.35"/><rect x="755.1" y="313.9" width="1.35" height="1.35"/><rect x="756.1" y="318.2" width="1.35" height="1.35"/><rect x="758.3" y="319.4" width="1.35" height="1.35"/><rect x="759.3" y="319.6" width="1.35" height="1.35"/><rect x="762" y="326.5" width="1.35" height="1.35"/><rect x="762.2" y="328.3" width="1.35" height="1.35"/><rect x="763" y="328.9" width="1.35" height="1.35"/><rect x="767.2" y="328" width="1.35" height="1.35"/><rect x="769.3" y="328.2" width="1.35" height="1.35"/><rect x="771.5" y="328.1" width="1.35" height="1.35"/><rect x="773.6" y="328.4" width="1.35" height="1.35"/><rect x="778.8" y="330.2" width="1.35" height="1.35"/><rect x="779.9" y="330.1" width="1.35" height="1.35"/><rect x="782.9" y="330" width="1.35" height="1.35"/><rect x="783" y="329" width="1.35" height="1.35"/><rect x="789.4" y="328" width="1.35" height="1.35"/><rect x="791.5" y="328.3" width="1.35" height="1.35"/><rect x="792.6" y="327.8" width="1.35" height="1.35"/><rect x="793.7" y="328.7" width="1.35" height="1.35"/><rect x="796" y="326.9" width="1.35" height="1.35"/><rect x="798.7" y="325.8" width="1.35" height="1.35"/><rect x="800.9" y="325" width="1.35" height="1.35"/><rect x="802" y="326" width="1.35" height="1.35"/><rect x="803.2" y="328.7" width="1.35" height="1.35"/><rect x="805.3" y="327.1" width="1.35" height="1.35"/><rect x="806.3" y="325.6" width="1.35" height="1.35"/><rect x="807.4" y="325.1" width="1.35" height="1.35"/><rect x="808.4" y="327.4" width="1.35" height="1.35"/><rect x="812.9" y="326.7" width="1.35" height="1.35"/><rect x="815.6" y="323.5" width="1.35" height="1.35"/><rect x="816.9" y="322.8" width="1.35" height="1.35"/><rect x="820" y="321.6" width="1.35" height="1.35"/><rect x="822.2" y="320.7" width="1.35" height="1.35"/><rect x="824.3" y="319.6" width="1.35" height="1.35"/><rect x="825.3" y="316.4" width="1.35" height="1.35"/><rect x="828.6" y="316" width="1.35" height="1.35"/><rect x="830.6" y="316.1" width="1.35" height="1.35"/><rect x="835.6" y="324.3" width="1.35" height="1.35"/><rect x="835.4" y="327.4" width="1.35" height="1.35"/><rect x="843.9" y="326.1" width="1.35" height="1.35"/><rect x="846" y="326.9" width="1.35" height="1.35"/><rect x="846.2" y="329" width="1.35" height="1.35"/><rect x="848" y="327.5" width="1.35" height="1.35"/><rect x="849" y="327.7" width="1.35" height="1.35"/><rect x="850" y="328" width="1.35" height="1.35"/><rect x="852" y="327.5" width="1.35" height="1.35"/><rect x="853" y="328.4" width="1.35" height="1.35"/><rect x="855" y="327.4" width="1.35" height="1.35"/><rect x="857.6" y="322.7" width="1.35" height="1.35"/><rect x="859.1" y="317.4" width="1.35" height="1.35"/><rect x="859.2" y="315.9" width="1.35" height="1.35"/><rect x="859.9" y="313.5" width="1.35" height="1.35"/><rect x="862.7" y="297.7" width="1.35" height="1.35"/><rect x="863.9" y="297.1" width="1.35" height="1.35"/><rect x="870.9" y="294.1" width="1.35" height="1.35"/><rect x="870.8" y="297" width="1.35" height="1.35"/><rect x="872.5" y="296.3" width="1.35" height="1.35"/><rect x="872.5" y="294.1" width="1.35" height="1.35"/><rect x="872.4" y="293.2" width="1.35" height="1.35"/><rect x="873.7" y="295.8" width="1.35" height="1.35"/><rect x="873.4" y="299.4" width="1.35" height="1.35"/><rect x="873.5" y="305.5" width="1.35" height="1.35"/><rect x="874.8" y="305.9" width="1.35" height="1.35"/><rect x="876.1" y="301.8" width="1.35" height="1.35"/><rect x="877.2" y="301.9" width="1.35" height="1.35"/><rect x="878" y="306.8" width="1.35" height="1.35"/><rect x="879.3" y="307.5" width="1.35" height="1.35"/><rect x="883.3" y="309.8" width="1.35" height="1.35"/><rect x="883.3" y="314.7" width="1.35" height="1.35"/><rect x="883" y="317.9" width="1.35" height="1.35"/><rect x="883" y="327.3" width="1.35" height="1.35"/><rect x="884.3" y="327.3" width="1.35" height="1.35"/><rect x="885.6" y="328.4" width="1.35" height="1.35"/><rect x="886.7" y="328.6" width="1.35" height="1.35"/><rect x="888.8" y="328.4" width="1.35" height="1.35"/><rect x="890.9" y="328" width="1.35" height="1.35"/><rect x="892" y="328.4" width="1.35" height="1.35"/><rect x="893" y="328.4" width="1.35" height="1.35"/><rect x="894.1" y="328.2" width="1.35" height="1.35"/><rect x="894.9" y="329.5" width="1.35" height="1.35"/><rect x="895.1" y="332.7" width="1.35" height="1.35"/><rect x="897.3" y="332.4" width="1.35" height="1.35"/><rect x="899.4" y="333.8" width="1.35" height="1.35"/><rect x="900.5" y="334" width="1.35" height="1.35"/><rect x="902.2" y="332.1" width="1.35" height="1.35"/><rect x="902.5" y="328.1" width="1.35" height="1.35"/><rect x="903.6" y="328.9" width="1.35" height="1.35"/><rect x="904.7" y="329" width="1.35" height="1.35"/><rect x="905.6" y="327.4" width="1.35" height="1.35"/><rect x="909" y="327.4" width="1.35" height="1.35"/><rect x="911" y="328.1" width="1.35" height="1.35"/><rect x="912.1" y="329" width="1.35" height="1.35"/><rect x="916.3" y="329.7" width="1.35" height="1.35"/><rect x="917.4" y="330.3" width="1.35" height="1.35"/><rect x="918.1" y="329" width="1.35" height="1.35"/><rect x="918.4" y="328.1" width="1.35" height="1.35"/><rect x="920.5" y="326.2" width="1.35" height="1.35"/><rect x="922.4" y="322.3" width="1.35" height="1.35"/></g>
<rect x="538.5" y="349.6" width="31" height="3.4" rx="1.7" fill="#cfcfcf" stroke="#4a4a4a" stroke-width="0.9"/>
<rect x="553.4" y="349.5" width="1.2" height="3.6" fill="#222"/>
<text transform="translate(557,355.7) rotate(-90) scale(1.13,1)" text-anchor="end" font-size="7.1" fill="#1f1f1f" stroke="#000" stroke-width="0.15">1</text>
<rect x="572.2" y="349.6" width="29.7" height="3.4" rx="1.7" fill="#cfcfcf" stroke="#4a4a4a" stroke-width="0.9"/>
<rect x="582.8" y="349.5" width="1.2" height="3.6" fill="#222"/>
<text transform="translate(590.1,355.7) rotate(-90) scale(1.13,1)" text-anchor="end" font-size="7.1" fill="#1f1f1f" stroke="#000" stroke-width="0.15">2</text>
<rect x="604.7" y="349.6" width="23.9" height="3.4" rx="1.7" fill="#cfcfcf" stroke="#4a4a4a" stroke-width="0.9"/>
<rect x="615.3" y="349.5" width="1.2" height="3.6" fill="#222"/>
<text transform="translate(619.6,355.7) rotate(-90) scale(1.13,1)" text-anchor="end" font-size="7.1" fill="#1f1f1f" stroke="#000" stroke-width="0.15">3</text>
<rect x="631.6" y="349.6" width="22.6" height="3.4" rx="1.7" fill="#cfcfcf" stroke="#4a4a4a" stroke-width="0.9"/>
<rect x="636" y="349.5" width="1.2" height="3.6" fill="#222"/>
<text transform="translate(645.9,355.7) rotate(-90) scale(1.13,1)" text-anchor="end" font-size="7.1" fill="#1f1f1f" stroke="#000" stroke-width="0.15">4</text>
<rect x="657.2" y="349.6" width="20.8" height="3.4" rx="1.7" fill="#cfcfcf" stroke="#4a4a4a" stroke-width="0.9"/>
<rect x="661.6" y="349.5" width="1.2" height="3.6" fill="#222"/>
<text transform="translate(670.5,355.7) rotate(-90) scale(1.13,1)" text-anchor="end" font-size="7.1" fill="#1f1f1f" stroke="#000" stroke-width="0.15">5</text>
<rect x="681.2" y="349.6" width="19.9" height="3.4" rx="1.7" fill="#cfcfcf" stroke="#4a4a4a" stroke-width="0.9"/>
<rect x="687.6" y="349.5" width="1.2" height="3.6" fill="#222"/>
<text transform="translate(694.2,355.7) rotate(-90) scale(1.13,1)" text-anchor="end" font-size="7.1" fill="#1f1f1f" stroke="#000" stroke-width="0.15">6</text>
<rect x="704.6" y="349.6" width="18.4" height="3.4" rx="1.7" fill="#cfcfcf" stroke="#4a4a4a" stroke-width="0.9"/>
<rect x="710.9" y="349.5" width="1.2" height="3.6" fill="#222"/>
<text transform="translate(716.8,355.7) rotate(-90) scale(1.13,1)" text-anchor="end" font-size="7.1" fill="#1f1f1f" stroke="#000" stroke-width="0.15">7</text>
<rect x="725.9" y="349.6" width="16.7" height="3.4" rx="1.7" fill="#cfcfcf" stroke="#4a4a4a" stroke-width="0.9"/>
<rect x="730" y="349.5" width="1.2" height="3.6" fill="#222"/>
<text transform="translate(737.2,355.7) rotate(-90) scale(1.13,1)" text-anchor="end" font-size="7.1" fill="#1f1f1f" stroke="#000" stroke-width="0.15">8</text>
<rect x="745.6" y="349.6" width="16" height="3.4" rx="1.7" fill="#cfcfcf" stroke="#4a4a4a" stroke-width="0.9"/>
<rect x="749.8" y="349.5" width="1.2" height="3.6" fill="#222"/>
<text transform="translate(756.5,355.7) rotate(-90) scale(1.13,1)" text-anchor="end" font-size="7.1" fill="#1f1f1f" stroke="#000" stroke-width="0.15">9</text>
<rect x="764.7" y="349.6" width="14.6" height="3.4" rx="1.7" fill="#cfcfcf" stroke="#4a4a4a" stroke-width="0.9"/>
<rect x="767.8" y="349.5" width="1.2" height="3.6" fill="#222"/>
<text transform="translate(775,355.7) rotate(-90) scale(1.13,1)" text-anchor="end" font-size="7.1" fill="#1f1f1f" stroke="#000" stroke-width="0.15">10</text>
<rect x="782.2" y="349.6" width="15.2" height="3.4" rx="1.7" fill="#cfcfcf" stroke="#4a4a4a" stroke-width="0.9"/>
<rect x="789.2" y="349.5" width="1.2" height="3.6" fill="#222"/>
<text transform="translate(792.8,355.7) rotate(-90) scale(1.13,1)" text-anchor="end" font-size="7.1" fill="#1f1f1f" stroke="#000" stroke-width="0.15">11</text>
<rect x="800.7" y="349.6" width="14.9" height="3.4" rx="1.7" fill="#cfcfcf" stroke="#4a4a4a" stroke-width="0.9"/>
<rect x="803.3" y="349.5" width="1.2" height="3.6" fill="#222"/>
<text transform="translate(811.1,355.7) rotate(-90) scale(1.13,1)" text-anchor="end" font-size="7.1" fill="#1f1f1f" stroke="#000" stroke-width="0.15">12</text>
<rect x="818.5" y="349.6" width="13.1" height="3.4" rx="1.7" fill="#cfcfcf" stroke="#4a4a4a" stroke-width="0.9"/>
<rect x="818.2" y="349.5" width="1.2" height="3.6" fill="#222"/>
<text transform="translate(828,355.7) rotate(-90) scale(1.13,1)" text-anchor="end" font-size="7.1" fill="#1f1f1f" stroke="#000" stroke-width="0.15">13</text>
<rect x="834.4" y="349.6" width="11.4" height="3.4" rx="1.7" fill="#cfcfcf" stroke="#4a4a4a" stroke-width="0.9"/>
<rect x="834.1" y="349.5" width="1.2" height="3.6" fill="#222"/>
<text transform="translate(843,355.7) rotate(-90) scale(1.13,1)" text-anchor="end" font-size="7.1" fill="#1f1f1f" stroke="#000" stroke-width="0.15">14</text>
<rect x="848.8" y="349.6" width="10.9" height="3.4" rx="1.7" fill="#cfcfcf" stroke="#4a4a4a" stroke-width="0.9"/>
<rect x="848.5" y="349.5" width="1.2" height="3.6" fill="#222"/>
<text transform="translate(857.2,355.7) rotate(-90) scale(1.13,1)" text-anchor="end" font-size="7.1" fill="#1f1f1f" stroke="#000" stroke-width="0.15">15</text>
<rect x="862.5" y="349.6" width="9" height="3.4" rx="1.7" fill="#cfcfcf" stroke="#4a4a4a" stroke-width="0.9"/>
<rect x="865.9" y="349.5" width="1.2" height="3.6" fill="#222"/>
<text transform="translate(870,355.7) rotate(-90) scale(1.13,1)" text-anchor="end" font-size="7.1" fill="#1f1f1f" stroke="#000" stroke-width="0.15">16</text>
<rect x="874.5" y="349.6" width="8.2" height="3.4" rx="1.7" fill="#cfcfcf" stroke="#4a4a4a" stroke-width="0.9"/>
<rect x="876.1" y="349.5" width="1.2" height="3.6" fill="#222"/>
<text transform="translate(881.5,355.7) rotate(-90) scale(1.13,1)" text-anchor="end" font-size="7.1" fill="#1f1f1f" stroke="#000" stroke-width="0.15">17</text>
<rect x="885.5" y="349.6" width="8" height="3.4" rx="1.7" fill="#cfcfcf" stroke="#4a4a4a" stroke-width="0.9"/>
<rect x="886.4" y="349.5" width="1.2" height="3.6" fill="#222"/>
<text transform="translate(892.5,355.7) rotate(-90) scale(1.13,1)" text-anchor="end" font-size="7.1" fill="#1f1f1f" stroke="#000" stroke-width="0.15">18</text>
<rect x="895.7" y="349.6" width="5.9" height="3.4" rx="1.7" fill="#cfcfcf" stroke="#4a4a4a" stroke-width="0.9"/>
<rect x="897.6" y="349.5" width="1.2" height="3.6" fill="#222"/>
<text transform="translate(901.6,355.7) rotate(-90) scale(1.13,1)" text-anchor="end" font-size="7.1" fill="#1f1f1f" stroke="#000" stroke-width="0.15">19</text>
<rect x="903.6" y="349.6" width="5.8" height="3.4" rx="1.7" fill="#cfcfcf" stroke="#4a4a4a" stroke-width="0.9"/>
<rect x="905.5" y="349.5" width="1.2" height="3.6" fill="#222"/>
<text transform="translate(909.5,355.7) rotate(-90) scale(1.13,1)" text-anchor="end" font-size="7.1" fill="#1f1f1f" stroke="#000" stroke-width="0.15">20</text>
<rect x="912.1" y="349.6" width="4.3" height="3.4" rx="1.7" fill="#cfcfcf" stroke="#4a4a4a" stroke-width="0.9"/>
<rect x="911.7" y="349.5" width="1.2" height="3.6" fill="#222"/>
<text transform="translate(917.2,355.7) rotate(-90) scale(1.13,1)" text-anchor="end" font-size="7.1" fill="#1f1f1f" stroke="#000" stroke-width="0.15">21</text>
<rect x="918.6" y="349.6" width="4.8" height="3.4" rx="1.7" fill="#cfcfcf" stroke="#4a4a4a" stroke-width="0.9"/>
<rect x="918.3" y="349.5" width="1.2" height="3.6" fill="#222"/>
<text transform="translate(924,355.7) rotate(-90) scale(1.13,1)" text-anchor="end" font-size="7.1" fill="#1f1f1f" stroke="#000" stroke-width="0.15">22</text>
<rect x="928.5" y="249.5" width="20" height="63" fill="url(#cbar)" stroke="#7a7a7a" stroke-width="1"/>
<text transform="translate(935.3,281) rotate(90)" text-anchor="middle" font-size="7.9" fill="#1f1f1f" stroke="#1f1f1f" stroke-width="0.3">−Log10 (<tspan font-style="italic">P</tspan> value)</text>
<text x="937.4" y="244.9" text-anchor="middle" font-size="9.3" fill="#1f1f1f" stroke="#1f1f1f" stroke-width="0.3">9</text>
<text x="937.4" y="326.8" text-anchor="middle" font-size="9.3" fill="#1f1f1f" stroke="#1f1f1f" stroke-width="0.3">0</text>
<line x1="570.8" y1="409.5" x2="570.8" y2="543.5" stroke="#e6e6e6" stroke-width="0.9"/>
<line x1="603.3" y1="409.5" x2="603.3" y2="543.5" stroke="#e6e6e6" stroke-width="0.9"/>
<line x1="630" y1="409.5" x2="630" y2="543.5" stroke="#e6e6e6" stroke-width="0.9"/>
<line x1="655.7" y1="409.5" x2="655.7" y2="543.5" stroke="#e6e6e6" stroke-width="0.9"/>
<line x1="679.6" y1="409.5" x2="679.6" y2="543.5" stroke="#e6e6e6" stroke-width="0.9"/>
<line x1="702.9" y1="409.5" x2="702.9" y2="543.5" stroke="#e6e6e6" stroke-width="0.9"/>
<line x1="724.4" y1="409.5" x2="724.4" y2="543.5" stroke="#e6e6e6" stroke-width="0.9"/>
<line x1="744" y1="409.5" x2="744" y2="543.5" stroke="#e6e6e6" stroke-width="0.9"/>
<line x1="763.1" y1="409.5" x2="763.1" y2="543.5" stroke="#e6e6e6" stroke-width="0.9"/>
<line x1="780.8" y1="409.5" x2="780.8" y2="543.5" stroke="#e6e6e6" stroke-width="0.9"/>
<line x1="799" y1="409.5" x2="799" y2="543.5" stroke="#e6e6e6" stroke-width="0.9"/>
<line x1="817" y1="409.5" x2="817" y2="543.5" stroke="#e6e6e6" stroke-width="0.9"/>
<line x1="833" y1="409.5" x2="833" y2="543.5" stroke="#e6e6e6" stroke-width="0.9"/>
<line x1="847.2" y1="409.5" x2="847.2" y2="543.5" stroke="#e6e6e6" stroke-width="0.9"/>
<line x1="861" y1="409.5" x2="861" y2="543.5" stroke="#e6e6e6" stroke-width="0.9"/>
<line x1="873" y1="409.5" x2="873" y2="543.5" stroke="#e6e6e6" stroke-width="0.9"/>
<line x1="884" y1="409.5" x2="884" y2="543.5" stroke="#e6e6e6" stroke-width="0.9"/>
<line x1="894.5" y1="409.5" x2="894.5" y2="543.5" stroke="#e6e6e6" stroke-width="0.9"/>
<line x1="902.5" y1="409.5" x2="902.5" y2="543.5" stroke="#e6e6e6" stroke-width="0.9"/>
<line x1="910.7" y1="409.5" x2="910.7" y2="543.5" stroke="#e6e6e6" stroke-width="0.9"/>
<line x1="917.5" y1="409.5" x2="917.5" y2="543.5" stroke="#e6e6e6" stroke-width="0.9"/>
<line x1="554" y1="409.5" x2="554" y2="543.5" stroke="#d4d4d4" stroke-width="0.8" stroke-dasharray="1,2"/>
<line x1="583.4" y1="409.5" x2="583.4" y2="543.5" stroke="#d4d4d4" stroke-width="0.8" stroke-dasharray="1,2"/>
<line x1="615.9" y1="409.5" x2="615.9" y2="543.5" stroke="#d4d4d4" stroke-width="0.8" stroke-dasharray="1,2"/>
<line x1="636.6" y1="409.5" x2="636.6" y2="543.5" stroke="#d4d4d4" stroke-width="0.8" stroke-dasharray="1,2"/>
<line x1="662.2" y1="409.5" x2="662.2" y2="543.5" stroke="#d4d4d4" stroke-width="0.8" stroke-dasharray="1,2"/>
<line x1="688.2" y1="409.5" x2="688.2" y2="543.5" stroke="#d4d4d4" stroke-width="0.8" stroke-dasharray="1,2"/>
<line x1="711.5" y1="409.5" x2="711.5" y2="543.5" stroke="#d4d4d4" stroke-width="0.8" stroke-dasharray="1,2"/>
<line x1="730.6" y1="409.5" x2="730.6" y2="543.5" stroke="#d4d4d4" stroke-width="0.8" stroke-dasharray="1,2"/>
<line x1="750.4" y1="409.5" x2="750.4" y2="543.5" stroke="#d4d4d4" stroke-width="0.8" stroke-dasharray="1,2"/>
<line x1="768.4" y1="409.5" x2="768.4" y2="543.5" stroke="#d4d4d4" stroke-width="0.8" stroke-dasharray="1,2"/>
<line x1="789.8" y1="409.5" x2="789.8" y2="543.5" stroke="#d4d4d4" stroke-width="0.8" stroke-dasharray="1,2"/>
<line x1="803.9" y1="409.5" x2="803.9" y2="543.5" stroke="#d4d4d4" stroke-width="0.8" stroke-dasharray="1,2"/>
<line x1="866.5" y1="409.5" x2="866.5" y2="543.5" stroke="#d4d4d4" stroke-width="0.8" stroke-dasharray="1,2"/>
<line x1="876.7" y1="409.5" x2="876.7" y2="543.5" stroke="#d4d4d4" stroke-width="0.8" stroke-dasharray="1,2"/>
<line x1="887" y1="409.5" x2="887" y2="543.5" stroke="#d4d4d4" stroke-width="0.8" stroke-dasharray="1,2"/>
<line x1="898.2" y1="409.5" x2="898.2" y2="543.5" stroke="#d4d4d4" stroke-width="0.8" stroke-dasharray="1,2"/>
<line x1="906.1" y1="409.5" x2="906.1" y2="543.5" stroke="#d4d4d4" stroke-width="0.8" stroke-dasharray="1,2"/>
<rect x="558.3" y="419.7" width="7.9" height="6.8" fill="#3a3a3a"/>
<rect x="566.2" y="429.6" width="11.2" height="14" fill="#f3f3f3"/>
<rect x="558.3" y="429.6" width="7.9" height="14" fill="#d46a6a"/>
<rect x="561.2" y="419.7" width="0.9" height="6.8" fill="#8a8a8a"/>
<rect x="561.9" y="419.7" width="0.9" height="6.8" fill="#8a8a8a"/>
<rect x="561.2" y="429.6" width="0.9" height="14" fill="#f08080"/>
<rect x="561.9" y="429.6" width="0.9" height="14" fill="#f08080"/>
<rect x="602.4" y="429.6" width="1.2" height="14" fill="#e9e9e9"/>
<text x="542.4" y="405.2" font-size="10.6" fill="#1f1f1f" textLength="61.6" lengthAdjust="spacingAndGlyphs" stroke="#1f1f1f" stroke-width="0.3">SRR061728</text>
<path d="M537.1,409 V546" stroke="#222" stroke-width="1.2" fill="none"/>
<line x1="533.2" y1="545.5" x2="537.1" y2="545.5" stroke="#222" stroke-width="1.1"/>
<text x="529.6" y="548.8" text-anchor="end" font-size="9.3" fill="#1f1f1f" stroke="#1f1f1f" stroke-width="0.3">1.0</text>
<line x1="533.2" y1="511.5" x2="537.1" y2="511.5" stroke="#222" stroke-width="1.1"/>
<text x="529.6" y="514.8" text-anchor="end" font-size="9.3" fill="#1f1f1f" stroke="#1f1f1f" stroke-width="0.3">1.5</text>
<line x1="533.2" y1="477.5" x2="537.1" y2="477.5" stroke="#222" stroke-width="1.1"/>
<text x="529.6" y="480.8" text-anchor="end" font-size="9.3" fill="#1f1f1f" stroke="#1f1f1f" stroke-width="0.3">2.0</text>
<line x1="533.2" y1="443.5" x2="537.1" y2="443.5" stroke="#222" stroke-width="1.1"/>
<text x="529.6" y="446.8" text-anchor="end" font-size="9.3" fill="#1f1f1f" stroke="#1f1f1f" stroke-width="0.3">2.5</text>
<line x1="533.2" y1="409.5" x2="537.1" y2="409.5" stroke="#222" stroke-width="1.1"/>
<text x="529.6" y="412.8" text-anchor="end" font-size="9.3" fill="#1f1f1f" stroke="#1f1f1f" stroke-width="0.3">3.0</text>
<text transform="translate(501.6,477.5) rotate(-90)" text-anchor="middle" font-size="9.3" fill="#1f1f1f" stroke="#1f1f1f" stroke-width="0.3">Allelic ratio</text>
<path d="M539.5,504.5 H542.2 V503.6 H546 V500.6 H549 V498.3 H550.5 V500.6 H552.7 V496.8 H554.2 V494.6 H557.2 V494.6 H558 V483.4 H558.7 V469.9 H559.2 V453.4 H559.5 V452.7 H566.2 V453.4 H566.9 V457.2 H567.7 V466.9 H568.4 V475.1 H572.9 V475.1 H574.4 V479.6 H576.7 V481.9 H578.2 V486.3 H579.7 V490.8 H581.9 V493.8 H583.4 V501.3 H585.7 V505.8 H592.4 V506.6 H596.9 V505.8 H599.9 V503.6 H602.1 V499.8 H603.6 V493.8 H605.9 V490.8 H608.9 V489.3 H610.4 V499.8 H615.6 V500.6 H617.1 V498.3 H618.6 V484.9 H620.8 V484.1 H622.3 V491.6 H623.8 V484.9 H625.3 V489.3 H627.6 V493.8 H629.1 V502.8 H632.8 V508.8 H635 V506 H637.6 V503.9 H641.3 V504.4 H645.6 V503.9 H649.3 V500.7 H654 V501.3 H660.4 V501.3 H665.7 V498.1 H666 V488.6 H666.3 V498.1 H666.5 V504.4 H671.5 V505.5 H673.1 V500.7 H674.6 V496.5 H675.7 V484.9 H678.3 V483.8 H678.6 V496.5 H678.9 V483.8 H680.5 V481.7 H682 V475.4 H682.3 V482 H682.6 V492.3 H685.7 V495.5 H690 V497 H694.2 V497.6 H696.3 V501.8 H697.9 V506 H702.7 V507.1 H707.9 V506.6 H709 V501.3 H711.1 V502.9 H714.3 V507.6 H717.5 V510.3 H718.5 V512.9 H721.7 V511.3 H727 V511.3 H728 V513.4 H730.1 V512.4 H739.3 V512 H743.6 V513.6 H748.9 V511.5 H749.4 V509.4 H758.4 V509.4 H758.9 V506.8 H763.7 V509.4 H764.7 V505.7 H772.1 V505.7 H773.7 V508.9 H775.3 V505.2 H775.8 V501.5 H780.6 V500.4 H786.9 V501.5 H788 V506.2 H790.1 V508.3 H791.7 V499.9 H794.3 V507.3 H796.4 V501.5 H797.5 V507.3 H799.6 V499.9 H800.7 V505.2 H804.9 V504.6 H805.9 V497.8 H806.5 V487.2 H807 V484 H812.3 V487.2 H814.4 V487.2 H814.9 V497.8 H815.5 V487.7 H823.4 V498.8 H823.9 V485.1 H824.4 V504.6 H825 V501.5 H831.9 V501.2 H832.2 V498.6 H833.5 V503.3 H835.6 V506.5 H838.7 V505.5 H840.9 V509.2 H843.5 V506.5 H846.1 V507.6 H847.2 V509.2 H855.1 V509.2 H856.7 V506 H858.8 V511.8 H860.9 V509.7 H864.1 V508.6 H868.3 V508.6 H870.5 V506 H873.1 V500.7 H875.2 V505.5 H877.9 V500.2 H880 V493.8 H882.1 V498.6 H884.2 V494.4 H886.3 V492.8 H889.5 V492.8 H891.6 V494.9 H894.8 V496.5 H895.3 V500.7 H899 V497 H900.6 V499.1 H902.2 V508.6 H904.3 V505.5 H906.9 V505.5 H907.5 V497 H908 V512.3 H910.6 V512.9 H913.8 V513.4 H915.9 V516 H918 V509.2 H920.7 V508.6 H921.7 V500.2 H923.3 V493.8 H924.4 V475.9" fill="none" stroke="#4681c2" stroke-width="1.2"/>
<g fill="#1d3c6b"><rect x="538.8" y="503.6" width="1.35" height="1.35"/><rect x="540.2" y="503.4" width="1.35" height="1.35"/><rect x="545.5" y="501.4" width="1.35" height="1.35"/><rect x="545.3" y="499.6" width="1.35" height="1.35"/><rect x="547.3" y="499.8" width="1.35" height="1.35"/><rect x="550.9" y="499.7" width="1.35" height="1.35"/><rect x="552" y="495.8" width="1.35" height="1.35"/><rect x="555.5" y="494.1" width="1.35" height="1.35"/><rect x="557.1" y="488.3" width="1.35" height="1.35"/><rect x="558.2" y="478.5" width="1.35" height="1.35"/><rect x="558.3" y="471.8" width="1.35" height="1.35"/><rect x="558.6" y="466.8" width="1.35" height="1.35"/><rect x="558.4" y="453.6" width="1.35" height="1.35"/><rect x="561.1" y="452.3" width="1.35" height="1.35"/><rect x="564.4" y="452.3" width="1.35" height="1.35"/><rect x="566.3" y="455.6" width="1.35" height="1.35"/><rect x="567.1" y="460.6" width="1.35" height="1.35"/><rect x="566.9" y="462.2" width="1.35" height="1.35"/><rect x="567.9" y="470.3" width="1.35" height="1.35"/><rect x="567.6" y="473.6" width="1.35" height="1.35"/><rect x="570" y="474.2" width="1.35" height="1.35"/><rect x="573.7" y="479.4" width="1.35" height="1.35"/><rect x="582.5" y="495.9" width="1.35" height="1.35"/><rect x="585" y="501.8" width="1.35" height="1.35"/><rect x="585.2" y="504" width="1.35" height="1.35"/><rect x="586.1" y="504.8" width="1.35" height="1.35"/><rect x="601.3" y="502" width="1.35" height="1.35"/><rect x="601.2" y="500.1" width="1.35" height="1.35"/><rect x="609.8" y="491.3" width="1.35" height="1.35"/><rect x="617.8" y="495.1" width="1.35" height="1.35"/><rect x="617.8" y="491.8" width="1.35" height="1.35"/><rect x="621.5" y="484.4" width="1.35" height="1.35"/><rect x="626.9" y="492" width="1.35" height="1.35"/><rect x="628.3" y="497.6" width="1.35" height="1.35"/><rect x="628.4" y="501.7" width="1.35" height="1.35"/><rect x="631.9" y="503.1" width="1.35" height="1.35"/><rect x="635.6" y="505.7" width="1.35" height="1.35"/><rect x="637" y="504.3" width="1.35" height="1.35"/><rect x="636.9" y="503" width="1.35" height="1.35"/><rect x="638.2" y="503.3" width="1.35" height="1.35"/><rect x="640.6" y="503.7" width="1.35" height="1.35"/><rect x="648.6" y="500.4" width="1.35" height="1.35"/><rect x="657.6" y="501" width="1.35" height="1.35"/><rect x="659.7" y="500.6" width="1.35" height="1.35"/><rect x="664" y="500.2" width="1.35" height="1.35"/><rect x="665.2" y="492.7" width="1.35" height="1.35"/><rect x="665.3" y="488.4" width="1.35" height="1.35"/><rect x="665.6" y="492.7" width="1.35" height="1.35"/><rect x="670.8" y="504.8" width="1.35" height="1.35"/><rect x="673.9" y="496.9" width="1.35" height="1.35"/><rect x="674.8" y="488.4" width="1.35" height="1.35"/><rect x="677.6" y="482.8" width="1.35" height="1.35"/><rect x="677.9" y="485.9" width="1.35" height="1.35"/><rect x="678.2" y="487.7" width="1.35" height="1.35"/><rect x="678.2" y="494.9" width="1.35" height="1.35"/><rect x="681.5" y="477.9" width="1.35" height="1.35"/><rect x="681.9" y="477.2" width="1.35" height="1.35"/><rect x="681.6" y="481.6" width="1.35" height="1.35"/><rect x="683" y="491.6" width="1.35" height="1.35"/><rect x="685" y="495" width="1.35" height="1.35"/><rect x="691.4" y="495.9" width="1.35" height="1.35"/><rect x="695.4" y="498" width="1.35" height="1.35"/><rect x="695.6" y="501" width="1.35" height="1.35"/><rect x="697.1" y="502.2" width="1.35" height="1.35"/><rect x="696.9" y="504.3" width="1.35" height="1.35"/><rect x="699.6" y="504.9" width="1.35" height="1.35"/><rect x="708.6" y="505" width="1.35" height="1.35"/><rect x="708.3" y="500.3" width="1.35" height="1.35"/><rect x="710.4" y="501.9" width="1.35" height="1.35"/><rect x="711.5" y="501.8" width="1.35" height="1.35"/><rect x="712.6" y="502.1" width="1.35" height="1.35"/><rect x="713.6" y="506.7" width="1.35" height="1.35"/><rect x="726.3" y="510.9" width="1.35" height="1.35"/><rect x="729.4" y="511.8" width="1.35" height="1.35"/><rect x="731.5" y="511.7" width="1.35" height="1.35"/><rect x="732.5" y="511.9" width="1.35" height="1.35"/><rect x="737.6" y="511.6" width="1.35" height="1.35"/><rect x="739.7" y="511.2" width="1.35" height="1.35"/><rect x="740.8" y="511.2" width="1.35" height="1.35"/><rect x="746.1" y="512.9" width="1.35" height="1.35"/><rect x="754.7" y="509" width="1.35" height="1.35"/><rect x="763.9" y="506" width="1.35" height="1.35"/><rect x="781" y="499.9" width="1.35" height="1.35"/><rect x="784.1" y="499.3" width="1.35" height="1.35"/><rect x="789.3" y="506.6" width="1.35" height="1.35"/><rect x="790.9" y="506.8" width="1.35" height="1.35"/><rect x="791" y="499.1" width="1.35" height="1.35"/><rect x="792.3" y="499.1" width="1.35" height="1.35"/><rect x="793.8" y="500.2" width="1.35" height="1.35"/><rect x="793.6" y="503.9" width="1.35" height="1.35"/><rect x="794.7" y="506.8" width="1.35" height="1.35"/><rect x="796.7" y="501.8" width="1.35" height="1.35"/><rect x="799.9" y="500.1" width="1.35" height="1.35"/><rect x="800" y="504.3" width="1.35" height="1.35"/><rect x="804.2" y="503.9" width="1.35" height="1.35"/><rect x="804.9" y="501.4" width="1.35" height="1.35"/><rect x="805.5" y="496.2" width="1.35" height="1.35"/><rect x="810.6" y="483.2" width="1.35" height="1.35"/><rect x="814" y="489.2" width="1.35" height="1.35"/><rect x="814.5" y="490.9" width="1.35" height="1.35"/><rect x="814.5" y="496.2" width="1.35" height="1.35"/><rect x="816" y="487.1" width="1.35" height="1.35"/><rect x="818.2" y="486.9" width="1.35" height="1.35"/><rect x="822.5" y="493.5" width="1.35" height="1.35"/><rect x="822.8" y="497.2" width="1.35" height="1.35"/><rect x="822.7" y="498.4" width="1.35" height="1.35"/><rect x="823.2" y="495.6" width="1.35" height="1.35"/><rect x="823.2" y="492.1" width="1.35" height="1.35"/><rect x="823.2" y="484.4" width="1.35" height="1.35"/><rect x="823.7" y="491.7" width="1.35" height="1.35"/><rect x="823.5" y="498.2" width="1.35" height="1.35"/><rect x="824" y="501.5" width="1.35" height="1.35"/><rect x="823.7" y="503.5" width="1.35" height="1.35"/><rect x="824.3" y="501.1" width="1.35" height="1.35"/><rect x="825.5" y="500.4" width="1.35" height="1.35"/><rect x="828.9" y="500.5" width="1.35" height="1.35"/><rect x="832.8" y="501.5" width="1.35" height="1.35"/><rect x="834.8" y="504.2" width="1.35" height="1.35"/><rect x="838" y="505.3" width="1.35" height="1.35"/><rect x="839.1" y="504.8" width="1.35" height="1.35"/><rect x="856" y="506.9" width="1.35" height="1.35"/><rect x="858.3" y="508.2" width="1.35" height="1.35"/><rect x="858.1" y="510.9" width="1.35" height="1.35"/><rect x="862.4" y="509.1" width="1.35" height="1.35"/><rect x="866.6" y="507.5" width="1.35" height="1.35"/><rect x="867.6" y="507.8" width="1.35" height="1.35"/><rect x="871.1" y="505.6" width="1.35" height="1.35"/><rect x="872.4" y="500.9" width="1.35" height="1.35"/><rect x="874.6" y="502.4" width="1.35" height="1.35"/><rect x="874.7" y="504" width="1.35" height="1.35"/><rect x="874.5" y="504.7" width="1.35" height="1.35"/><rect x="877.2" y="503.9" width="1.35" height="1.35"/><rect x="877.1" y="500.4" width="1.35" height="1.35"/><rect x="880.4" y="492.9" width="1.35" height="1.35"/><rect x="881.7" y="497.1" width="1.35" height="1.35"/><rect x="889.9" y="492.2" width="1.35" height="1.35"/><rect x="891.1" y="493.2" width="1.35" height="1.35"/><rect x="899.7" y="497.4" width="1.35" height="1.35"/><rect x="901.6" y="501.3" width="1.35" height="1.35"/><rect x="902.6" y="507.8" width="1.35" height="1.35"/><rect x="904.9" y="505" width="1.35" height="1.35"/><rect x="907.2" y="498.9" width="1.35" height="1.35"/><rect x="907.5" y="500.6" width="1.35" height="1.35"/><rect x="907.3" y="505.7" width="1.35" height="1.35"/><rect x="907.6" y="509.1" width="1.35" height="1.35"/><rect x="915.5" y="514" width="1.35" height="1.35"/><rect x="915.2" y="515.5" width="1.35" height="1.35"/><rect x="917.5" y="514.5" width="1.35" height="1.35"/><rect x="917.3" y="508.5" width="1.35" height="1.35"/><rect x="921.3" y="502.1" width="1.35" height="1.35"/><rect x="922.9" y="494.2" width="1.35" height="1.35"/><rect x="923.7" y="490.7" width="1.35" height="1.35"/><rect x="923.9" y="489.1" width="1.35" height="1.35"/><rect x="923.5" y="485.8" width="1.35" height="1.35"/><rect x="923.9" y="482.6" width="1.35" height="1.35"/><rect x="923.7" y="480.9" width="1.35" height="1.35"/><rect x="923.5" y="477.7" width="1.35" height="1.35"/></g>
<rect x="538.5" y="543.5" width="31" height="3.4" rx="1.7" fill="#cfcfcf" stroke="#4a4a4a" stroke-width="0.9"/>
<rect x="553.4" y="543.4" width="1.2" height="3.6" fill="#222"/>
<text transform="translate(557,549.6) rotate(-90) scale(1.13,1)" text-anchor="end" font-size="7.1" fill="#1f1f1f" stroke="#000" stroke-width="0.15">1</text>
<rect x="572.2" y="543.5" width="29.7" height="3.4" rx="1.7" fill="#cfcfcf" stroke="#4a4a4a" stroke-width="0.9"/>
<rect x="582.8" y="543.4" width="1.2" height="3.6" fill="#222"/>
<text transform="translate(590.1,549.6) rotate(-90) scale(1.13,1)" text-anchor="end" font-size="7.1" fill="#1f1f1f" stroke="#000" stroke-width="0.15">2</text>
<rect x="604.7" y="543.5" width="23.9" height="3.4" rx="1.7" fill="#cfcfcf" stroke="#4a4a4a" stroke-width="0.9"/>
<rect x="615.3" y="543.4" width="1.2" height="3.6" fill="#222"/>
<text transform="translate(619.6,549.6) rotate(-90) scale(1.13,1)" text-anchor="end" font-size="7.1" fill="#1f1f1f" stroke="#000" stroke-width="0.15">3</text>
<rect x="631.6" y="543.5" width="22.6" height="3.4" rx="1.7" fill="#cfcfcf" stroke="#4a4a4a" stroke-width="0.9"/>
<rect x="636" y="543.4" width="1.2" height="3.6" fill="#222"/>
<text transform="translate(645.9,549.6) rotate(-90) scale(1.13,1)" text-anchor="end" font-size="7.1" fill="#1f1f1f" stroke="#000" stroke-width="0.15">4</text>
<rect x="657.2" y="543.5" width="20.8" height="3.4" rx="1.7" fill="#cfcfcf" stroke="#4a4a4a" stroke-width="0.9"/>
<rect x="661.6" y="543.4" width="1.2" height="3.6" fill="#222"/>
<text transform="translate(670.5,549.6) rotate(-90) scale(1.13,1)" text-anchor="end" font-size="7.1" fill="#1f1f1f" stroke="#000" stroke-width="0.15">5</text>
<rect x="681.2" y="543.5" width="19.9" height="3.4" rx="1.7" fill="#cfcfcf" stroke="#4a4a4a" stroke-width="0.9"/>
<rect x="687.6" y="543.4" width="1.2" height="3.6" fill="#222"/>
<text transform="translate(694.2,549.6) rotate(-90) scale(1.13,1)" text-anchor="end" font-size="7.1" fill="#1f1f1f" stroke="#000" stroke-width="0.15">6</text>
<rect x="704.6" y="543.5" width="18.4" height="3.4" rx="1.7" fill="#cfcfcf" stroke="#4a4a4a" stroke-width="0.9"/>
<rect x="710.9" y="543.4" width="1.2" height="3.6" fill="#222"/>
<text transform="translate(716.8,549.6) rotate(-90) scale(1.13,1)" text-anchor="end" font-size="7.1" fill="#1f1f1f" stroke="#000" stroke-width="0.15">7</text>
<rect x="725.9" y="543.5" width="16.7" height="3.4" rx="1.7" fill="#cfcfcf" stroke="#4a4a4a" stroke-width="0.9"/>
<rect x="730" y="543.4" width="1.2" height="3.6" fill="#222"/>
<text transform="translate(737.2,549.6) rotate(-90) scale(1.13,1)" text-anchor="end" font-size="7.1" fill="#1f1f1f" stroke="#000" stroke-width="0.15">8</text>
<rect x="745.6" y="543.5" width="16" height="3.4" rx="1.7" fill="#cfcfcf" stroke="#4a4a4a" stroke-width="0.9"/>
<rect x="749.8" y="543.4" width="1.2" height="3.6" fill="#222"/>
<text transform="translate(756.5,549.6) rotate(-90) scale(1.13,1)" text-anchor="end" font-size="7.1" fill="#1f1f1f" stroke="#000" stroke-width="0.15">9</text>
<rect x="764.7" y="543.5" width="14.6" height="3.4" rx="1.7" fill="#cfcfcf" stroke="#4a4a4a" stroke-width="0.9"/>
<rect x="767.8" y="543.4" width="1.2" height="3.6" fill="#222"/>
<text transform="translate(775,549.6) rotate(-90) scale(1.13,1)" text-anchor="end" font-size="7.1" fill="#1f1f1f" stroke="#000" stroke-width="0.15">10</text>
<rect x="782.2" y="543.5" width="15.2" height="3.4" rx="1.7" fill="#cfcfcf" stroke="#4a4a4a" stroke-width="0.9"/>
<rect x="789.2" y="543.4" width="1.2" height="3.6" fill="#222"/>
<text transform="translate(792.8,549.6) rotate(-90) scale(1.13,1)" text-anchor="end" font-size="7.1" fill="#1f1f1f" stroke="#000" stroke-width="0.15">11</text>
<rect x="800.7" y="543.5" width="14.9" height="3.4" rx="1.7" fill="#cfcfcf" stroke="#4a4a4a" stroke-width="0.9"/>
<rect x="803.3" y="543.4" width="1.2" height="3.6" fill="#222"/>
<text transform="translate(811.1,549.6) rotate(-90) scale(1.13,1)" text-anchor="end" font-size="7.1" fill="#1f1f1f" stroke="#000" stroke-width="0.15">12</text>
<rect x="818.5" y="543.5" width="13.1" height="3.4" rx="1.7" fill="#cfcfcf" stroke="#4a4a4a" stroke-width="0.9"/>
<rect x="818.2" y="543.4" width="1.2" height="3.6" fill="#222"/>
<text transform="translate(828,549.6) rotate(-90) scale(1.13,1)" text-anchor="end" font-size="7.1" fill="#1f1f1f" stroke="#000" stroke-width="0.15">13</text>
<rect x="834.4" y="543.5" width="11.4" height="3.4" rx="1.7" fill="#cfcfcf" stroke="#4a4a4a" stroke-width="0.9"/>
<rect x="834.1" y="543.4" width="1.2" height="3.6" fill="#222"/>
<text transform="translate(843,549.6) rotate(-90) scale(1.13,1)" text-anchor="end" font-size="7.1" fill="#1f1f1f" stroke="#000" stroke-width="0.15">14</text>
<rect x="848.8" y="543.5" width="10.9" height="3.4" rx="1.7" fill="#cfcfcf" stroke="#4a4a4a" stroke-width="0.9"/>
<rect x="848.5" y="543.4" width="1.2" height="3.6" fill="#222"/>
<text transform="translate(857.2,549.6) rotate(-90) scale(1.13,1)" text-anchor="end" font-size="7.1" fill="#1f1f1f" stroke="#000" stroke-width="0.15">15</text>
<rect x="862.5" y="543.5" width="9" height="3.4" rx="1.7" fill="#cfcfcf" stroke="#4a4a4a" stroke-width="0.9"/>
<rect x="865.9" y="543.4" width="1.2" height="3.6" fill="#222"/>
<text transform="translate(870,549.6) rotate(-90) scale(1.13,1)" text-anchor="end" font-size="7.1" fill="#1f1f1f" stroke="#000" stroke-width="0.15">16</text>
<rect x="874.5" y="543.5" width="8.2" height="3.4" rx="1.7" fill="#cfcfcf" stroke="#4a4a4a" stroke-width="0.9"/>
<rect x="876.1" y="543.4" width="1.2" height="3.6" fill="#222"/>
<text transform="translate(881.5,549.6) rotate(-90) scale(1.13,1)" text-anchor="end" font-size="7.1" fill="#1f1f1f" stroke="#000" stroke-width="0.15">17</text>
<rect x="885.5" y="543.5" width="8" height="3.4" rx="1.7" fill="#cfcfcf" stroke="#4a4a4a" stroke-width="0.9"/>
<rect x="886.4" y="543.4" width="1.2" height="3.6" fill="#222"/>
<text transform="translate(892.5,549.6) rotate(-90) scale(1.13,1)" text-anchor="end" font-size="7.1" fill="#1f1f1f" stroke="#000" stroke-width="0.15">18</text>
<rect x="895.7" y="543.5" width="5.9" height="3.4" rx="1.7" fill="#cfcfcf" stroke="#4a4a4a" stroke-width="0.9"/>
<rect x="897.6" y="543.4" width="1.2" height="3.6" fill="#222"/>
<text transform="translate(901.6,549.6) rotate(-90) scale(1.13,1)" text-anchor="end" font-size="7.1" fill="#1f1f1f" stroke="#000" stroke-width="0.15">19</text>
<rect x="903.6" y="543.5" width="5.8" height="3.4" rx="1.7" fill="#cfcfcf" stroke="#4a4a4a" stroke-width="0.9"/>
<rect x="905.5" y="543.4" width="1.2" height="3.6" fill="#222"/>
<text transform="translate(909.5,549.6) rotate(-90) scale(1.13,1)" text-anchor="end" font-size="7.1" fill="#1f1f1f" stroke="#000" stroke-width="0.15">20</text>
<rect x="912.1" y="543.5" width="4.3" height="3.4" rx="1.7" fill="#cfcfcf" stroke="#4a4a4a" stroke-width="0.9"/>
<rect x="911.7" y="543.4" width="1.2" height="3.6" fill="#222"/>
<text transform="translate(917.2,549.6) rotate(-90) scale(1.13,1)" text-anchor="end" font-size="7.1" fill="#1f1f1f" stroke="#000" stroke-width="0.15">21</text>
<rect x="918.6" y="543.5" width="4.8" height="3.4" rx="1.7" fill="#cfcfcf" stroke="#4a4a4a" stroke-width="0.9"/>
<rect x="918.3" y="543.4" width="1.2" height="3.6" fill="#222"/>
<text transform="translate(924,549.6) rotate(-90) scale(1.13,1)" text-anchor="end" font-size="7.1" fill="#1f1f1f" stroke="#000" stroke-width="0.15">22</text>
<rect x="928.5" y="443.5" width="20" height="63" fill="url(#cbar)" stroke="#7a7a7a" stroke-width="1"/>
<text transform="translate(935.3,475) rotate(90)" text-anchor="middle" font-size="7.9" fill="#1f1f1f" stroke="#1f1f1f" stroke-width="0.3">−Log10 (<tspan font-style="italic">P</tspan> value)</text>
<text x="937.4" y="438.9" text-anchor="middle" font-size="9.3" fill="#1f1f1f" stroke="#1f1f1f" stroke-width="0.3">3</text>
<text x="937.4" y="520.8" text-anchor="middle" font-size="9.3" fill="#1f1f1f" stroke="#1f1f1f" stroke-width="0.3">0</text>
<line x1="603.3" y1="624.4" x2="603.3" y2="758.9" stroke="#e6e6e6" stroke-width="0.9"/>
<line x1="630" y1="624.4" x2="630" y2="758.9" stroke="#e6e6e6" stroke-width="0.9"/>
<line x1="655.7" y1="624.4" x2="655.7" y2="758.9" stroke="#e6e6e6" stroke-width="0.9"/>
<line x1="679.6" y1="624.4" x2="679.6" y2="758.9" stroke="#e6e6e6" stroke-width="0.9"/>
<line x1="702.9" y1="624.4" x2="702.9" y2="758.9" stroke="#e6e6e6" stroke-width="0.9"/>
<line x1="724.4" y1="624.4" x2="724.4" y2="758.9" stroke="#e6e6e6" stroke-width="0.9"/>
<line x1="744" y1="624.4" x2="744" y2="758.9" stroke="#e6e6e6" stroke-width="0.9"/>
<line x1="763.1" y1="624.4" x2="763.1" y2="758.9" stroke="#e6e6e6" stroke-width="0.9"/>
<line x1="780.8" y1="624.4" x2="780.8" y2="758.9" stroke="#e6e6e6" stroke-width="0.9"/>
<line x1="799" y1="624.4" x2="799" y2="758.9" stroke="#e6e6e6" stroke-width="0.9"/>
<line x1="817" y1="624.4" x2="817" y2="758.9" stroke="#e6e6e6" stroke-width="0.9"/>
<line x1="833" y1="624.4" x2="833" y2="758.9" stroke="#e6e6e6" stroke-width="0.9"/>
<line x1="847.2" y1="624.4" x2="847.2" y2="758.9" stroke="#e6e6e6" stroke-width="0.9"/>
<line x1="861" y1="624.4" x2="861" y2="758.9" stroke="#e6e6e6" stroke-width="0.9"/>
<line x1="873" y1="624.4" x2="873" y2="758.9" stroke="#e6e6e6" stroke-width="0.9"/>
<line x1="884" y1="624.4" x2="884" y2="758.9" stroke="#e6e6e6" stroke-width="0.9"/>
<line x1="894.5" y1="624.4" x2="894.5" y2="758.9" stroke="#e6e6e6" stroke-width="0.9"/>
<line x1="902.5" y1="624.4" x2="902.5" y2="758.9" stroke="#e6e6e6" stroke-width="0.9"/>
<line x1="910.7" y1="624.4" x2="910.7" y2="758.9" stroke="#e6e6e6" stroke-width="0.9"/>
<line x1="917.5" y1="624.4" x2="917.5" y2="758.9" stroke="#e6e6e6" stroke-width="0.9"/>
<line x1="554" y1="624.4" x2="554" y2="758.9" stroke="#d4d4d4" stroke-width="0.8" stroke-dasharray="1,2"/>
<line x1="583.4" y1="624.4" x2="583.4" y2="758.9" stroke="#d4d4d4" stroke-width="0.8" stroke-dasharray="1,2"/>
<line x1="615.9" y1="624.4" x2="615.9" y2="758.9" stroke="#d4d4d4" stroke-width="0.8" stroke-dasharray="1,2"/>
<line x1="636.6" y1="624.4" x2="636.6" y2="758.9" stroke="#d4d4d4" stroke-width="0.8" stroke-dasharray="1,2"/>
<line x1="662.2" y1="624.4" x2="662.2" y2="758.9" stroke="#d4d4d4" stroke-width="0.8" stroke-dasharray="1,2"/>
<line x1="688.2" y1="624.4" x2="688.2" y2="758.9" stroke="#d4d4d4" stroke-width="0.8" stroke-dasharray="1,2"/>
<line x1="711.5" y1="624.4" x2="711.5" y2="758.9" stroke="#d4d4d4" stroke-width="0.8" stroke-dasharray="1,2"/>
<line x1="730.6" y1="624.4" x2="730.6" y2="758.9" stroke="#d4d4d4" stroke-width="0.8" stroke-dasharray="1,2"/>
<line x1="750.4" y1="624.4" x2="750.4" y2="758.9" stroke="#d4d4d4" stroke-width="0.8" stroke-dasharray="1,2"/>
<line x1="768.4" y1="624.4" x2="768.4" y2="758.9" stroke="#d4d4d4" stroke-width="0.8" stroke-dasharray="1,2"/>
<line x1="789.8" y1="624.4" x2="789.8" y2="758.9" stroke="#d4d4d4" stroke-width="0.8" stroke-dasharray="1,2"/>
<line x1="803.9" y1="624.4" x2="803.9" y2="758.9" stroke="#d4d4d4" stroke-width="0.8" stroke-dasharray="1,2"/>
<line x1="866.5" y1="624.4" x2="866.5" y2="758.9" stroke="#d4d4d4" stroke-width="0.8" stroke-dasharray="1,2"/>
<line x1="876.7" y1="624.4" x2="876.7" y2="758.9" stroke="#d4d4d4" stroke-width="0.8" stroke-dasharray="1,2"/>
<line x1="887" y1="624.4" x2="887" y2="758.9" stroke="#d4d4d4" stroke-width="0.8" stroke-dasharray="1,2"/>
<line x1="898.2" y1="624.4" x2="898.2" y2="758.9" stroke="#d4d4d4" stroke-width="0.8" stroke-dasharray="1,2"/>
<line x1="906.1" y1="624.4" x2="906.1" y2="758.9" stroke="#d4d4d4" stroke-width="0.8" stroke-dasharray="1,2"/>
<rect x="798.8" y="634.6" width="18.6" height="6.8" fill="#474747"/>
<rect x="799.3" y="644.5" width="16.9" height="14" fill="#e0353a"/>
<rect x="879.2" y="634.6" width="5.1" height="6.8" fill="#474747"/>
<rect x="879.6" y="644.5" width="3.8" height="14" fill="#df3a3f"/>
<rect x="884.3" y="644.5" width="9.7" height="14" fill="#f3f3f3"/>
<rect x="711" y="644.5" width="4" height="14" fill="#f1f1f1"/>
<rect x="783" y="644.5" width="3" height="14" fill="#f3f3f3"/>
<rect x="803.6" y="634.6" width="0.9" height="6.8" fill="#8a8a8a"/>
<rect x="809.9" y="634.6" width="0.9" height="6.8" fill="#8a8a8a"/>
<rect x="803.6" y="644.5" width="0.9" height="14" fill="#f08080"/>
<rect x="810.6" y="644.5" width="0.9" height="14" fill="#f08080"/>
<text x="542.4" y="622.3" font-size="10.6" fill="#1f1f1f" textLength="67.8" lengthAdjust="spacingAndGlyphs" stroke="#1f1f1f" stroke-width="0.3">SRR1693240</text>
<path d="M537.1,623.9 V761.4" stroke="#222" stroke-width="1.2" fill="none"/>
<line x1="533.2" y1="760.9" x2="537.1" y2="760.9" stroke="#222" stroke-width="1.1"/>
<text x="529.6" y="764.2" text-anchor="end" font-size="9.3" fill="#1f1f1f" stroke="#1f1f1f" stroke-width="0.3">1.0</text>
<line x1="533.2" y1="726.8" x2="537.1" y2="726.8" stroke="#222" stroke-width="1.1"/>
<text x="529.6" y="730.1" text-anchor="end" font-size="9.3" fill="#1f1f1f" stroke="#1f1f1f" stroke-width="0.3">1.5</text>
<line x1="533.2" y1="692.6" x2="537.1" y2="692.6" stroke="#222" stroke-width="1.1"/>
<text x="529.6" y="695.9" text-anchor="end" font-size="9.3" fill="#1f1f1f" stroke="#1f1f1f" stroke-width="0.3">2.0</text>
<line x1="533.2" y1="658.5" x2="537.1" y2="658.5" stroke="#222" stroke-width="1.1"/>
<text x="529.6" y="661.8" text-anchor="end" font-size="9.3" fill="#1f1f1f" stroke="#1f1f1f" stroke-width="0.3">2.5</text>
<line x1="533.2" y1="624.4" x2="537.1" y2="624.4" stroke="#222" stroke-width="1.1"/>
<text x="529.6" y="627.7" text-anchor="end" font-size="9.3" fill="#1f1f1f" stroke="#1f1f1f" stroke-width="0.3">3.0</text>
<text transform="translate(501.6,692.6) rotate(-90)" text-anchor="middle" font-size="9.3" fill="#1f1f1f" stroke="#1f1f1f" stroke-width="0.3">Allelic ratio</text>
<path d="M538.1,739.1 H539.6 V735.9 H541.2 V733.8 H542.8 V739.6 H546 V739.6 H549.2 V738.1 H552.3 V733.8 H554.4 V736.5 H556.6 V735.9 H558.7 V744.9 H561.8 V745.5 H564 V740.7 H566.6 V739.1 H568.7 V736.5 H570.8 V734.4 H573.5 V737 H575.6 V743.3 H578.2 V742.3 H580.3 V742.8 H581.4 V735.9 H583.5 V733.3 H586.2 V731.2 H587.7 V733.8 H589.3 V740.7 H593 V741.8 H598.3 V741.2 H600.4 V737 H602 V739.6 H604.7 V733.8 H606.8 V732.8 H608.9 V733.8 H610.5 V740.7 H612.6 V737.5 H617.3 V736.5 H621.6 V737 H623.7 V739.1 H627.9 V739.6 H632.1 V739.1 H634.8 V734.9 H638.2 V733.8 H640.8 V730.7 H644.5 V730.1 H646.6 V732.8 H649.3 V735.9 H651.9 V733.3 H654.6 V737 H656.1 V742.3 H658.8 V737.5 H660.9 V741.8 H663.5 V740.7 H666.7 V741.8 H669.4 V743.9 H671.5 V740.7 H673.1 V737 H679.4 V736.5 H680.5 V729.6 H682.6 V726.4 H684.2 V731.7 H686.8 V736.5 H691 V737 H694.2 V739.1 H696.3 V741.8 H699.5 V742.8 H702.7 V742.3 H704.8 V738.1 H706.9 V732.8 H709 V729.6 H710.6 V725.4 H712.7 V722.2 H713.8 V715.9 H714.8 V720.1 H715.9 V731.7 H716.4 V740.2 H717.5 V734.9 H719.6 V737 H721.7 V733.8 H724.3 V736.5 H728 V738.1 H733 V738.3 H738.3 V737.3 H743.1 V736.7 H744.1 V742 H746.8 V737.8 H748.9 V732 H752.1 V733 H756.8 V729.9 H758.4 V730.4 H759.5 V736.2 H762.1 V737.8 H763.2 V742.6 H765.8 V737.8 H767.4 V732.5 H769 V723.5 H771.1 V726.1 H773.3 V731.4 H775.4 V727.7 H777.5 V732.5 H780.1 V733.6 H781.7 V727.7 H782.8 V735.7 H786 V735.1 H789.1 V733.6 H790.7 V738.9 H793.4 V739.4 H796.6 V739.4 H797.6 V731.4 H798.7 V714.5 H799.7 V699.7 H800.8 V691.2 H801.3 V684.8 H802.4 V679.5 H802.9 V691.2 H804 V697.5 H806.1 V692.2 H808.2 V695.4 H810.3 V698.1 H811.9 V699.7 H813.5 V693.3 H815.1 V686.4 H816.2 V688 H816.7 V698.6 H817.2 V714.5 H817.7 V727.2 H819.9 V727.2 H820.9 V735.7 H822.5 V739.4 H826.2 V739.9 H830.5 V739.4 H832.4 V737.8 H835.6 V736.7 H837.2 V728.3 H839.8 V725.1 H842.5 V726.1 H843.5 V734.6 H845.7 V740.4 H846.7 V732.5 H849.4 V733.6 H852.5 V730.9 H854.7 V738.9 H856.8 V742 H858.9 V731.4 H860.5 V727.2 H862.1 V729.3 H863.7 V733.6 H865.8 V734.6 H867.4 V739.4 H870.6 V738.9 H873.2 V735.1 H875.8 V739.4 H878 V738.3 H879 V720.8 H880.1 V701.8 H881.1 V697.5 H882.2 V692.2 H882.7 V682.7 H883.8 V701.8 H884.9 V721.9 H887 V724 H888.6 V727.2 H891.2 V724 H893.9 V727.2 H894.9 V739.9 H898.1 V737.8 H900.2 V733.6 H902.3 V727.2 H903.4 V739.9 H905.5 V744.2 H908.7 V740.4 H910.3 V738.9 H912.9 V740.4 H916.1 V741.5 H918.2 V739.4 H920.3 V727.2 H921.9 V742 H923.5 V729.3" fill="none" stroke="#4681c2" stroke-width="1.2"/>
<g fill="#1d3c6b"><rect x="537.4" y="738.4" width="1.35" height="1.35"/><rect x="540.7" y="734.2" width="1.35" height="1.35"/><rect x="542.1" y="734.1" width="1.35" height="1.35"/><rect x="542.4" y="736" width="1.35" height="1.35"/><rect x="542.1" y="738.7" width="1.35" height="1.35"/><rect x="544.3" y="738.6" width="1.35" height="1.35"/><rect x="545.3" y="738.8" width="1.35" height="1.35"/><rect x="548.5" y="737.9" width="1.35" height="1.35"/><rect x="551.7" y="734.2" width="1.35" height="1.35"/><rect x="551.6" y="732.6" width="1.35" height="1.35"/><rect x="552.7" y="733.4" width="1.35" height="1.35"/><rect x="553.7" y="736.2" width="1.35" height="1.35"/><rect x="555.9" y="735.2" width="1.35" height="1.35"/><rect x="558.1" y="737.9" width="1.35" height="1.35"/><rect x="560.1" y="744.3" width="1.35" height="1.35"/><rect x="562.2" y="745.2" width="1.35" height="1.35"/><rect x="563.3" y="743.6" width="1.35" height="1.35"/><rect x="565.9" y="738.8" width="1.35" height="1.35"/><rect x="570.2" y="734.8" width="1.35" height="1.35"/><rect x="570.1" y="733.9" width="1.35" height="1.35"/><rect x="573" y="735" width="1.35" height="1.35"/><rect x="573.9" y="735.9" width="1.35" height="1.35"/><rect x="574.8" y="739.5" width="1.35" height="1.35"/><rect x="578.6" y="741.1" width="1.35" height="1.35"/><rect x="579.6" y="741.8" width="1.35" height="1.35"/><rect x="580.7" y="737.8" width="1.35" height="1.35"/><rect x="580.7" y="735.4" width="1.35" height="1.35"/><rect x="582.8" y="732.7" width="1.35" height="1.35"/><rect x="585.7" y="731.6" width="1.35" height="1.35"/><rect x="586.8" y="731.8" width="1.35" height="1.35"/><rect x="587" y="732.7" width="1.35" height="1.35"/><rect x="588.7" y="734" width="1.35" height="1.35"/><rect x="588.4" y="735.7" width="1.35" height="1.35"/><rect x="588.7" y="739.2" width="1.35" height="1.35"/><rect x="588.6" y="739.9" width="1.35" height="1.35"/><rect x="589.9" y="739.7" width="1.35" height="1.35"/><rect x="592.3" y="740.8" width="1.35" height="1.35"/><rect x="593.4" y="741" width="1.35" height="1.35"/><rect x="597.6" y="740.3" width="1.35" height="1.35"/><rect x="600" y="739.5" width="1.35" height="1.35"/><rect x="599.6" y="737.4" width="1.35" height="1.35"/><rect x="599.7" y="736.1" width="1.35" height="1.35"/><rect x="603.7" y="738" width="1.35" height="1.35"/><rect x="603.9" y="736" width="1.35" height="1.35"/><rect x="607.2" y="732.3" width="1.35" height="1.35"/><rect x="608.2" y="733.4" width="1.35" height="1.35"/><rect x="610.1" y="734" width="1.35" height="1.35"/><rect x="609.9" y="735.7" width="1.35" height="1.35"/><rect x="610" y="737.4" width="1.35" height="1.35"/><rect x="610.1" y="739.2" width="1.35" height="1.35"/><rect x="609.8" y="740.3" width="1.35" height="1.35"/><rect x="611.9" y="737.6" width="1.35" height="1.35"/><rect x="611.9" y="736.5" width="1.35" height="1.35"/><rect x="613.1" y="737.2" width="1.35" height="1.35"/><rect x="615.5" y="737" width="1.35" height="1.35"/><rect x="617.7" y="735.9" width="1.35" height="1.35"/><rect x="619.9" y="735.6" width="1.35" height="1.35"/><rect x="623" y="737.4" width="1.35" height="1.35"/><rect x="623" y="738.6" width="1.35" height="1.35"/><rect x="625.1" y="738" width="1.35" height="1.35"/><rect x="626.2" y="737.9" width="1.35" height="1.35"/><rect x="627.2" y="738.5" width="1.35" height="1.35"/><rect x="628.3" y="739.1" width="1.35" height="1.35"/><rect x="629.3" y="739" width="1.35" height="1.35"/><rect x="631.4" y="738.7" width="1.35" height="1.35"/><rect x="634.4" y="737.4" width="1.35" height="1.35"/><rect x="634.1" y="734.6" width="1.35" height="1.35"/><rect x="635.3" y="734.6" width="1.35" height="1.35"/><rect x="637.5" y="733.5" width="1.35" height="1.35"/><rect x="640.1" y="730.3" width="1.35" height="1.35"/><rect x="642.6" y="729.6" width="1.35" height="1.35"/><rect x="643.8" y="729.4" width="1.35" height="1.35"/><rect x="646" y="730.8" width="1.35" height="1.35"/><rect x="645.9" y="732.1" width="1.35" height="1.35"/><rect x="648.4" y="733.7" width="1.35" height="1.35"/><rect x="651.2" y="732.7" width="1.35" height="1.35"/><rect x="653.9" y="736.4" width="1.35" height="1.35"/><rect x="655.7" y="737.2" width="1.35" height="1.35"/><rect x="655.3" y="739" width="1.35" height="1.35"/><rect x="655.4" y="741.4" width="1.35" height="1.35"/><rect x="656.8" y="742" width="1.35" height="1.35"/><rect x="658.1" y="736.4" width="1.35" height="1.35"/><rect x="659.2" y="737.1" width="1.35" height="1.35"/><rect x="661.5" y="740.9" width="1.35" height="1.35"/><rect x="662.8" y="739.8" width="1.35" height="1.35"/><rect x="665" y="740.3" width="1.35" height="1.35"/><rect x="666" y="741.5" width="1.35" height="1.35"/><rect x="667.4" y="741.4" width="1.35" height="1.35"/><rect x="668.7" y="743.3" width="1.35" height="1.35"/><rect x="670.8" y="741.6" width="1.35" height="1.35"/><rect x="670.8" y="739.9" width="1.35" height="1.35"/><rect x="672.2" y="739.1" width="1.35" height="1.35"/><rect x="672.3" y="737.3" width="1.35" height="1.35"/><rect x="672.4" y="736.7" width="1.35" height="1.35"/><rect x="674.5" y="735.9" width="1.35" height="1.35"/><rect x="675.6" y="736.7" width="1.35" height="1.35"/><rect x="676.6" y="736.5" width="1.35" height="1.35"/><rect x="677.7" y="736.2" width="1.35" height="1.35"/><rect x="678.7" y="735.9" width="1.35" height="1.35"/><rect x="680" y="735" width="1.35" height="1.35"/><rect x="679.5" y="731.5" width="1.35" height="1.35"/><rect x="679.8" y="728.9" width="1.35" height="1.35"/><rect x="682.2" y="726.5" width="1.35" height="1.35"/><rect x="681.9" y="725.8" width="1.35" height="1.35"/><rect x="683.5" y="730.1" width="1.35" height="1.35"/><rect x="683.5" y="731.4" width="1.35" height="1.35"/><rect x="686.3" y="732.2" width="1.35" height="1.35"/><rect x="686.1" y="735.8" width="1.35" height="1.35"/><rect x="687.2" y="735.5" width="1.35" height="1.35"/><rect x="688.2" y="735.4" width="1.35" height="1.35"/><rect x="692.5" y="736.8" width="1.35" height="1.35"/><rect x="693.6" y="737.4" width="1.35" height="1.35"/><rect x="694.6" y="738.6" width="1.35" height="1.35"/><rect x="699.9" y="742.6" width="1.35" height="1.35"/><rect x="701" y="741.7" width="1.35" height="1.35"/><rect x="705.2" y="737.7" width="1.35" height="1.35"/><rect x="706.1" y="733" width="1.35" height="1.35"/><rect x="708.3" y="729.1" width="1.35" height="1.35"/><rect x="709.7" y="725.8" width="1.35" height="1.35"/><rect x="709.9" y="724.9" width="1.35" height="1.35"/><rect x="712" y="721.7" width="1.35" height="1.35"/><rect x="713.4" y="716.3" width="1.35" height="1.35"/><rect x="713.1" y="715.3" width="1.35" height="1.35"/><rect x="715.5" y="721.9" width="1.35" height="1.35"/><rect x="715.2" y="723.6" width="1.35" height="1.35"/><rect x="715.4" y="725.2" width="1.35" height="1.35"/><rect x="715" y="726.9" width="1.35" height="1.35"/><rect x="715.3" y="728.5" width="1.35" height="1.35"/><rect x="715.6" y="731.9" width="1.35" height="1.35"/><rect x="715.4" y="735.3" width="1.35" height="1.35"/><rect x="715.5" y="737" width="1.35" height="1.35"/><rect x="717" y="735.1" width="1.35" height="1.35"/><rect x="717.9" y="734.2" width="1.35" height="1.35"/><rect x="718.8" y="735.3" width="1.35" height="1.35"/><rect x="720" y="736.2" width="1.35" height="1.35"/><rect x="721" y="733.2" width="1.35" height="1.35"/><rect x="723.8" y="734.5" width="1.35" height="1.35"/><rect x="723.6" y="735.8" width="1.35" height="1.35"/><rect x="724.9" y="735.4" width="1.35" height="1.35"/><rect x="726.1" y="736" width="1.35" height="1.35"/><rect x="727.3" y="736.6" width="1.35" height="1.35"/><rect x="727.3" y="737.5" width="1.35" height="1.35"/><rect x="730.3" y="737.9" width="1.35" height="1.35"/><rect x="731.3" y="737.2" width="1.35" height="1.35"/><rect x="732.3" y="738.1" width="1.35" height="1.35"/><rect x="733.4" y="737.4" width="1.35" height="1.35"/><rect x="740" y="736.6" width="1.35" height="1.35"/><rect x="742.4" y="736.3" width="1.35" height="1.35"/><rect x="743.1" y="736.9" width="1.35" height="1.35"/><rect x="743.4" y="738.7" width="1.35" height="1.35"/><rect x="743.3" y="740.4" width="1.35" height="1.35"/><rect x="743.4" y="740.9" width="1.35" height="1.35"/><rect x="750.4" y="731.8" width="1.35" height="1.35"/><rect x="758.9" y="730.7" width="1.35" height="1.35"/><rect x="758.6" y="734.6" width="1.35" height="1.35"/><rect x="758.8" y="735.5" width="1.35" height="1.35"/><rect x="761.4" y="736.9" width="1.35" height="1.35"/><rect x="762.5" y="737.9" width="1.35" height="1.35"/><rect x="762.4" y="739.5" width="1.35" height="1.35"/><rect x="762.6" y="741.1" width="1.35" height="1.35"/><rect x="763.8" y="742.4" width="1.35" height="1.35"/><rect x="765.4" y="741.1" width="1.35" height="1.35"/><rect x="765.2" y="739.5" width="1.35" height="1.35"/><rect x="766.9" y="736.2" width="1.35" height="1.35"/><rect x="766.7" y="731.6" width="1.35" height="1.35"/><rect x="768.5" y="730.9" width="1.35" height="1.35"/><rect x="768.3" y="722.6" width="1.35" height="1.35"/><rect x="770.5" y="724.1" width="1.35" height="1.35"/><rect x="771.5" y="725" width="1.35" height="1.35"/><rect x="772.5" y="726.3" width="1.35" height="1.35"/><rect x="772.8" y="728.1" width="1.35" height="1.35"/><rect x="772.6" y="730.9" width="1.35" height="1.35"/><rect x="773.7" y="730.6" width="1.35" height="1.35"/><rect x="774.8" y="729.8" width="1.35" height="1.35"/><rect x="774.8" y="728" width="1.35" height="1.35"/><rect x="777" y="728.2" width="1.35" height="1.35"/><rect x="776.8" y="732.1" width="1.35" height="1.35"/><rect x="780.8" y="731.9" width="1.35" height="1.35"/><rect x="781" y="727.3" width="1.35" height="1.35"/><rect x="782.4" y="727.8" width="1.35" height="1.35"/><rect x="782.2" y="734.2" width="1.35" height="1.35"/><rect x="782.1" y="735.3" width="1.35" height="1.35"/><rect x="783.2" y="734.6" width="1.35" height="1.35"/><rect x="785.3" y="734.6" width="1.35" height="1.35"/><rect x="789.8" y="737.3" width="1.35" height="1.35"/><rect x="792.7" y="738.9" width="1.35" height="1.35"/><rect x="793.8" y="738.5" width="1.35" height="1.35"/><rect x="794.9" y="738.6" width="1.35" height="1.35"/><rect x="796.7" y="737.9" width="1.35" height="1.35"/><rect x="796.6" y="736.3" width="1.35" height="1.35"/><rect x="797.2" y="733.1" width="1.35" height="1.35"/><rect x="796.9" y="730.3" width="1.35" height="1.35"/><rect x="797.9" y="728.2" width="1.35" height="1.35"/><rect x="798.3" y="714.7" width="1.35" height="1.35"/><rect x="798.8" y="711.4" width="1.35" height="1.35"/><rect x="798.8" y="709.7" width="1.35" height="1.35"/><rect x="799.2" y="701.5" width="1.35" height="1.35"/><rect x="800.3" y="698.2" width="1.35" height="1.35"/><rect x="800.3" y="694.8" width="1.35" height="1.35"/><rect x="799.9" y="693.1" width="1.35" height="1.35"/><rect x="801.9" y="679.7" width="1.35" height="1.35"/><rect x="801.7" y="678.5" width="1.35" height="1.35"/><rect x="802.5" y="681.3" width="1.35" height="1.35"/><rect x="802.2" y="683" width="1.35" height="1.35"/><rect x="802.4" y="684.7" width="1.35" height="1.35"/><rect x="802.4" y="686.4" width="1.35" height="1.35"/><rect x="802" y="689.7" width="1.35" height="1.35"/><rect x="803.5" y="691.6" width="1.35" height="1.35"/><rect x="803.3" y="693.7" width="1.35" height="1.35"/><rect x="803.3" y="695.8" width="1.35" height="1.35"/><rect x="805.4" y="694.2" width="1.35" height="1.35"/><rect x="805.7" y="692.4" width="1.35" height="1.35"/><rect x="807.6" y="693.1" width="1.35" height="1.35"/><rect x="808.6" y="694.4" width="1.35" height="1.35"/><rect x="811.2" y="698.2" width="1.35" height="1.35"/><rect x="812.7" y="698.2" width="1.35" height="1.35"/><rect x="812.6" y="695" width="1.35" height="1.35"/><rect x="812.8" y="693" width="1.35" height="1.35"/><rect x="814.5" y="690" width="1.35" height="1.35"/><rect x="814.5" y="688.3" width="1.35" height="1.35"/><rect x="814.2" y="686.6" width="1.35" height="1.35"/><rect x="815.5" y="686.9" width="1.35" height="1.35"/><rect x="816.2" y="691.7" width="1.35" height="1.35"/><rect x="816.6" y="698.8" width="1.35" height="1.35"/><rect x="816.8" y="700.6" width="1.35" height="1.35"/><rect x="816.6" y="705.9" width="1.35" height="1.35"/><rect x="816.6" y="707.6" width="1.35" height="1.35"/><rect x="816.5" y="711.2" width="1.35" height="1.35"/><rect x="816.5" y="713.7" width="1.35" height="1.35"/><rect x="817" y="718.4" width="1.35" height="1.35"/><rect x="817" y="720.2" width="1.35" height="1.35"/><rect x="816.9" y="723.8" width="1.35" height="1.35"/><rect x="817" y="726.7" width="1.35" height="1.35"/><rect x="819.2" y="726.2" width="1.35" height="1.35"/><rect x="820" y="727.4" width="1.35" height="1.35"/><rect x="820.1" y="729.1" width="1.35" height="1.35"/><rect x="821.8" y="739" width="1.35" height="1.35"/><rect x="823.1" y="738.6" width="1.35" height="1.35"/><rect x="826.6" y="739.1" width="1.35" height="1.35"/><rect x="827.7" y="739.1" width="1.35" height="1.35"/><rect x="829.8" y="738.6" width="1.35" height="1.35"/><rect x="831.7" y="737.5" width="1.35" height="1.35"/><rect x="832.8" y="736.9" width="1.35" height="1.35"/><rect x="833.9" y="737.1" width="1.35" height="1.35"/><rect x="834.9" y="735.9" width="1.35" height="1.35"/><rect x="836.3" y="735.2" width="1.35" height="1.35"/><rect x="836.7" y="733.5" width="1.35" height="1.35"/><rect x="836.8" y="728.5" width="1.35" height="1.35"/><rect x="836.5" y="727.2" width="1.35" height="1.35"/><rect x="845" y="734.9" width="1.35" height="1.35"/><rect x="845" y="739.8" width="1.35" height="1.35"/><rect x="845.9" y="736.8" width="1.35" height="1.35"/><rect x="845.8" y="734.8" width="1.35" height="1.35"/><rect x="849.8" y="732.5" width="1.35" height="1.35"/><rect x="851.6" y="731.6" width="1.35" height="1.35"/><rect x="851.8" y="730.5" width="1.35" height="1.35"/><rect x="852.9" y="730" width="1.35" height="1.35"/><rect x="854.3" y="731" width="1.35" height="1.35"/><rect x="854.3" y="735.8" width="1.35" height="1.35"/><rect x="856.1" y="741.6" width="1.35" height="1.35"/><rect x="857.2" y="741.1" width="1.35" height="1.35"/><rect x="858.2" y="738.7" width="1.35" height="1.35"/><rect x="858" y="735.1" width="1.35" height="1.35"/><rect x="858.3" y="733.4" width="1.35" height="1.35"/><rect x="858.2" y="730.4" width="1.35" height="1.35"/><rect x="860" y="729.7" width="1.35" height="1.35"/><rect x="859.8" y="726.5" width="1.35" height="1.35"/><rect x="862.9" y="729.7" width="1.35" height="1.35"/><rect x="864.1" y="732.7" width="1.35" height="1.35"/><rect x="865.1" y="733.5" width="1.35" height="1.35"/><rect x="866.7" y="739.1" width="1.35" height="1.35"/><rect x="868.9" y="739" width="1.35" height="1.35"/><rect x="872.5" y="737.3" width="1.35" height="1.35"/><rect x="876.2" y="738.4" width="1.35" height="1.35"/><rect x="878.2" y="736.8" width="1.35" height="1.35"/><rect x="878.3" y="735" width="1.35" height="1.35"/><rect x="878.4" y="724.5" width="1.35" height="1.35"/><rect x="878.3" y="720.4" width="1.35" height="1.35"/><rect x="879.3" y="717.5" width="1.35" height="1.35"/><rect x="879.6" y="715.8" width="1.35" height="1.35"/><rect x="879.3" y="714.1" width="1.35" height="1.35"/><rect x="879.2" y="710.6" width="1.35" height="1.35"/><rect x="879.6" y="702" width="1.35" height="1.35"/><rect x="879.4" y="701.3" width="1.35" height="1.35"/><rect x="880.6" y="700.1" width="1.35" height="1.35"/><rect x="880.5" y="697.9" width="1.35" height="1.35"/><rect x="880.4" y="697" width="1.35" height="1.35"/><rect x="881.2" y="695.9" width="1.35" height="1.35"/><rect x="881.4" y="694.2" width="1.35" height="1.35"/><rect x="881.5" y="691.8" width="1.35" height="1.35"/><rect x="881.9" y="690.6" width="1.35" height="1.35"/><rect x="881.9" y="684.9" width="1.35" height="1.35"/><rect x="882.1" y="683" width="1.35" height="1.35"/><rect x="882.8" y="682.9" width="1.35" height="1.35"/><rect x="883.1" y="684.6" width="1.35" height="1.35"/><rect x="883.2" y="686.4" width="1.35" height="1.35"/><rect x="883.1" y="688.1" width="1.35" height="1.35"/><rect x="883" y="689.8" width="1.35" height="1.35"/><rect x="883.2" y="691.6" width="1.35" height="1.35"/><rect x="882.9" y="696.8" width="1.35" height="1.35"/><rect x="883.3" y="698.5" width="1.35" height="1.35"/><rect x="883.4" y="700.3" width="1.35" height="1.35"/><rect x="883.1" y="701.3" width="1.35" height="1.35"/><rect x="884.3" y="702" width="1.35" height="1.35"/><rect x="884.3" y="707" width="1.35" height="1.35"/><rect x="884.4" y="710.3" width="1.35" height="1.35"/><rect x="884.4" y="715.4" width="1.35" height="1.35"/><rect x="884.5" y="717" width="1.35" height="1.35"/><rect x="884.1" y="718.7" width="1.35" height="1.35"/><rect x="884.1" y="720.4" width="1.35" height="1.35"/><rect x="885.3" y="721.3" width="1.35" height="1.35"/><rect x="886.3" y="723.6" width="1.35" height="1.35"/><rect x="887.9" y="726.3" width="1.35" height="1.35"/><rect x="890.5" y="723" width="1.35" height="1.35"/><rect x="893.1" y="724.1" width="1.35" height="1.35"/><rect x="893.2" y="726.8" width="1.35" height="1.35"/><rect x="894.2" y="731.1" width="1.35" height="1.35"/><rect x="894" y="734.7" width="1.35" height="1.35"/><rect x="894.3" y="736.5" width="1.35" height="1.35"/><rect x="894.4" y="738.3" width="1.35" height="1.35"/><rect x="896.4" y="739.6" width="1.35" height="1.35"/><rect x="897.4" y="736.9" width="1.35" height="1.35"/><rect x="899.8" y="736.1" width="1.35" height="1.35"/><rect x="899.8" y="734" width="1.35" height="1.35"/><rect x="900.6" y="732.8" width="1.35" height="1.35"/><rect x="901.9" y="729.7" width="1.35" height="1.35"/><rect x="902.8" y="727.4" width="1.35" height="1.35"/><rect x="902.7" y="736.5" width="1.35" height="1.35"/><rect x="902.9" y="738.3" width="1.35" height="1.35"/><rect x="902.7" y="739" width="1.35" height="1.35"/><rect x="903.8" y="739" width="1.35" height="1.35"/><rect x="905.9" y="743.5" width="1.35" height="1.35"/><rect x="907" y="743.7" width="1.35" height="1.35"/><rect x="907.9" y="742.6" width="1.35" height="1.35"/><rect x="916.5" y="741" width="1.35" height="1.35"/><rect x="917.4" y="739.8" width="1.35" height="1.35"/><rect x="918.6" y="739.1" width="1.35" height="1.35"/><rect x="919.9" y="736.1" width="1.35" height="1.35"/><rect x="919.8" y="734.4" width="1.35" height="1.35"/><rect x="919.8" y="732.6" width="1.35" height="1.35"/><rect x="919.6" y="729.1" width="1.35" height="1.35"/><rect x="919.6" y="727" width="1.35" height="1.35"/><rect x="921.4" y="732.3" width="1.35" height="1.35"/><rect x="921.2" y="737.2" width="1.35" height="1.35"/><rect x="922.7" y="736.8" width="1.35" height="1.35"/><rect x="922.6" y="735" width="1.35" height="1.35"/><rect x="922.9" y="731.4" width="1.35" height="1.35"/><rect x="922.8" y="729.5" width="1.35" height="1.35"/></g>
<rect x="538.5" y="758.9" width="31" height="3.4" rx="1.7" fill="#cfcfcf" stroke="#4a4a4a" stroke-width="0.9"/>
<rect x="553.4" y="758.8" width="1.2" height="3.6" fill="#222"/>
<text transform="translate(557,765) rotate(-90) scale(1.13,1)" text-anchor="end" font-size="7.1" fill="#1f1f1f" stroke="#000" stroke-width="0.15">1</text>
<rect x="572.2" y="758.9" width="29.7" height="3.4" rx="1.7" fill="#cfcfcf" stroke="#4a4a4a" stroke-width="0.9"/>
<rect x="582.8" y="758.8" width="1.2" height="3.6" fill="#222"/>
<text transform="translate(590.1,765) rotate(-90) scale(1.13,1)" text-anchor="end" font-size="7.1" fill="#1f1f1f" stroke="#000" stroke-width="0.15">2</text>
<rect x="604.7" y="758.9" width="23.9" height="3.4" rx="1.7" fill="#cfcfcf" stroke="#4a4a4a" stroke-width="0.9"/>
<rect x="615.3" y="758.8" width="1.2" height="3.6" fill="#222"/>
<text transform="translate(619.6,765) rotate(-90) scale(1.13,1)" text-anchor="end" font-size="7.1" fill="#1f1f1f" stroke="#000" stroke-width="0.15">3</text>
<rect x="631.6" y="758.9" width="22.6" height="3.4" rx="1.7" fill="#cfcfcf" stroke="#4a4a4a" stroke-width="0.9"/>
<rect x="636" y="758.8" width="1.2" height="3.6" fill="#222"/>
<text transform="translate(645.9,765) rotate(-90) scale(1.13,1)" text-anchor="end" font-size="7.1" fill="#1f1f1f" stroke="#000" stroke-width="0.15">4</text>
<rect x="657.2" y="758.9" width="20.8" height="3.4" rx="1.7" fill="#cfcfcf" stroke="#4a4a4a" stroke-width="0.9"/>
<rect x="661.6" y="758.8" width="1.2" height="3.6" fill="#222"/>
<text transform="translate(670.5,765) rotate(-90) scale(1.13,1)" text-anchor="end" font-size="7.1" fill="#1f1f1f" stroke="#000" stroke-width="0.15">5</text>
<rect x="681.2" y="758.9" width="19.9" height="3.4" rx="1.7" fill="#cfcfcf" stroke="#4a4a4a" stroke-width="0.9"/>
<rect x="687.6" y="758.8" width="1.2" height="3.6" fill="#222"/>
<text transform="translate(694.2,765) rotate(-90) scale(1.13,1)" text-anchor="end" font-size="7.1" fill="#1f1f1f" stroke="#000" stroke-width="0.15">6</text>
<rect x="704.6" y="758.9" width="18.4" height="3.4" rx="1.7" fill="#cfcfcf" stroke="#4a4a4a" stroke-width="0.9"/>
<rect x="710.9" y="758.8" width="1.2" height="3.6" fill="#222"/>
<text transform="translate(716.8,765) rotate(-90) scale(1.13,1)" text-anchor="end" font-size="7.1" fill="#1f1f1f" stroke="#000" stroke-width="0.15">7</text>
<rect x="725.9" y="758.9" width="16.7" height="3.4" rx="1.7" fill="#cfcfcf" stroke="#4a4a4a" stroke-width="0.9"/>
<rect x="730" y="758.8" width="1.2" height="3.6" fill="#222"/>
<text transform="translate(737.2,765) rotate(-90) scale(1.13,1)" text-anchor="end" font-size="7.1" fill="#1f1f1f" stroke="#000" stroke-width="0.15">8</text>
<rect x="745.6" y="758.9" width="16" height="3.4" rx="1.7" fill="#cfcfcf" stroke="#4a4a4a" stroke-width="0.9"/>
<rect x="749.8" y="758.8" width="1.2" height="3.6" fill="#222"/>
<text transform="translate(756.5,765) rotate(-90) scale(1.13,1)" text-anchor="end" font-size="7.1" fill="#1f1f1f" stroke="#000" stroke-width="0.15">9</text>
<rect x="764.7" y="758.9" width="14.6" height="3.4" rx="1.7" fill="#cfcfcf" stroke="#4a4a4a" stroke-width="0.9"/>
<rect x="767.8" y="758.8" width="1.2" height="3.6" fill="#222"/>
<text transform="translate(775,765) rotate(-90) scale(1.13,1)" text-anchor="end" font-size="7.1" fill="#1f1f1f" stroke="#000" stroke-width="0.15">10</text>
<rect x="782.2" y="758.9" width="15.2" height="3.4" rx="1.7" fill="#cfcfcf" stroke="#4a4a4a" stroke-width="0.9"/>
<rect x="789.2" y="758.8" width="1.2" height="3.6" fill="#222"/>
<text transform="translate(792.8,765) rotate(-90) scale(1.13,1)" text-anchor="end" font-size="7.1" fill="#1f1f1f" stroke="#000" stroke-width="0.15">11</text>
<rect x="800.7" y="758.9" width="14.9" height="3.4" rx="1.7" fill="#cfcfcf" stroke="#4a4a4a" stroke-width="0.9"/>
<rect x="803.3" y="758.8" width="1.2" height="3.6" fill="#222"/>
<text transform="translate(811.1,765) rotate(-90) scale(1.13,1)" text-anchor="end" font-size="7.1" fill="#1f1f1f" stroke="#000" stroke-width="0.15">12</text>
<rect x="818.5" y="758.9" width="13.1" height="3.4" rx="1.7" fill="#cfcfcf" stroke="#4a4a4a" stroke-width="0.9"/>
<rect x="818.2" y="758.8" width="1.2" height="3.6" fill="#222"/>
<text transform="translate(828,765) rotate(-90) scale(1.13,1)" text-anchor="end" font-size="7.1" fill="#1f1f1f" stroke="#000" stroke-width="0.15">13</text>
<rect x="834.4" y="758.9" width="11.4" height="3.4" rx="1.7" fill="#cfcfcf" stroke="#4a4a4a" stroke-width="0.9"/>
<rect x="834.1" y="758.8" width="1.2" height="3.6" fill="#222"/>
<text transform="translate(843,765) rotate(-90) scale(1.13,1)" text-anchor="end" font-size="7.1" fill="#1f1f1f" stroke="#000" stroke-width="0.15">14</text>
<rect x="848.8" y="758.9" width="10.9" height="3.4" rx="1.7" fill="#cfcfcf" stroke="#4a4a4a" stroke-width="0.9"/>
<rect x="848.5" y="758.8" width="1.2" height="3.6" fill="#222"/>
<text transform="translate(857.2,765) rotate(-90) scale(1.13,1)" text-anchor="end" font-size="7.1" fill="#1f1f1f" stroke="#000" stroke-width="0.15">15</text>
<rect x="862.5" y="758.9" width="9" height="3.4" rx="1.7" fill="#cfcfcf" stroke="#4a4a4a" stroke-width="0.9"/>
<rect x="865.9" y="758.8" width="1.2" height="3.6" fill="#222"/>
<text transform="translate(870,765) rotate(-90) scale(1.13,1)" text-anchor="end" font-size="7.1" fill="#1f1f1f" stroke="#000" stroke-width="0.15">16</text>
<rect x="874.5" y="758.9" width="8.2" height="3.4" rx="1.7" fill="#cfcfcf" stroke="#4a4a4a" stroke-width="0.9"/>
<rect x="876.1" y="758.8" width="1.2" height="3.6" fill="#222"/>
<text transform="translate(881.5,765) rotate(-90) scale(1.13,1)" text-anchor="end" font-size="7.1" fill="#1f1f1f" stroke="#000" stroke-width="0.15">17</text>
<rect x="885.5" y="758.9" width="8" height="3.4" rx="1.7" fill="#cfcfcf" stroke="#4a4a4a" stroke-width="0.9"/>
<rect x="886.4" y="758.8" width="1.2" height="3.6" fill="#222"/>
<text transform="translate(892.5,765) rotate(-90) scale(1.13,1)" text-anchor="end" font-size="7.1" fill="#1f1f1f" stroke="#000" stroke-width="0.15">18</text>
<rect x="895.7" y="758.9" width="5.9" height="3.4" rx="1.7" fill="#cfcfcf" stroke="#4a4a4a" stroke-width="0.9"/>
<rect x="897.6" y="758.8" width="1.2" height="3.6" fill="#222"/>
<text transform="translate(901.6,765) rotate(-90) scale(1.13,1)" text-anchor="end" font-size="7.1" fill="#1f1f1f" stroke="#000" stroke-width="0.15">19</text>
<rect x="903.6" y="758.9" width="5.8" height="3.4" rx="1.7" fill="#cfcfcf" stroke="#4a4a4a" stroke-width="0.9"/>
<rect x="905.5" y="758.8" width="1.2" height="3.6" fill="#222"/>
<text transform="translate(909.5,765) rotate(-90) scale(1.13,1)" text-anchor="end" font-size="7.1" fill="#1f1f1f" stroke="#000" stroke-width="0.15">20</text>
<rect x="912.1" y="758.9" width="4.3" height="3.4" rx="1.7" fill="#cfcfcf" stroke="#4a4a4a" stroke-width="0.9"/>
<rect x="911.7" y="758.8" width="1.2" height="3.6" fill="#222"/>
<text transform="translate(917.2,765) rotate(-90) scale(1.13,1)" text-anchor="end" font-size="7.1" fill="#1f1f1f" stroke="#000" stroke-width="0.15">21</text>
<rect x="918.6" y="758.9" width="4.8" height="3.4" rx="1.7" fill="#cfcfcf" stroke="#4a4a4a" stroke-width="0.9"/>
<rect x="918.3" y="758.8" width="1.2" height="3.6" fill="#222"/>
<text transform="translate(924,765) rotate(-90) scale(1.13,1)" text-anchor="end" font-size="7.1" fill="#1f1f1f" stroke="#000" stroke-width="0.15">22</text>
<rect x="928.5" y="658.4" width="20" height="63" fill="url(#cbar)" stroke="#7a7a7a" stroke-width="1"/>
<text transform="translate(935.3,689.9) rotate(90)" text-anchor="middle" font-size="7.9" fill="#1f1f1f" stroke="#1f1f1f" stroke-width="0.3">−Log10 (<tspan font-style="italic">P</tspan> value)</text>
<text x="937.4" y="653.8" text-anchor="middle" font-size="9.3" fill="#1f1f1f" stroke="#1f1f1f" stroke-width="0.3">12</text>
<text x="937.4" y="735.7" text-anchor="middle" font-size="9.3" fill="#1f1f1f" stroke="#1f1f1f" stroke-width="0.3">0</text>
<text x="0.2" y="16.2" font-size="18.3" font-weight="bold" fill="#000">a</text>
<text x="490.4" y="16.3" font-size="18.3" font-weight="bold" fill="#000">b</text>
<text x="0.4" y="614.7" font-size="18.3" font-weight="bold" fill="#000">c</text>
<text x="490.2" y="614.6" font-size="18.3" font-weight="bold" fill="#000">d</text>
<text x="268" y="583.4" text-anchor="middle" font-size="9.45" fill="#1f1f1f" stroke="#1f1f1f" stroke-width="0.3">Chromosomal position</text>
<text x="268" y="800" text-anchor="middle" font-size="9.45" fill="#1f1f1f" stroke="#1f1f1f" stroke-width="0.3">Chromosomal position</text>
<text x="731.5" y="583.4" text-anchor="middle" font-size="9.45" fill="#1f1f1f" stroke="#1f1f1f" stroke-width="0.3">Chromosomal position</text>
<text x="731.5" y="800" text-anchor="middle" font-size="9.45" fill="#1f1f1f" stroke="#1f1f1f" stroke-width="0.3">Chromosomal position</text>
</svg>
</body></html>
